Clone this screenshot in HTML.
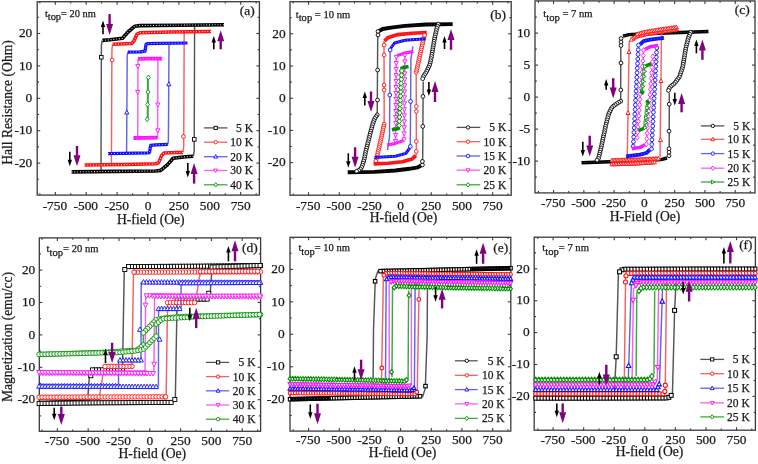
<!DOCTYPE html>
<html><head><meta charset="utf-8"><title>Hysteresis loops</title>
<style>
html,body{margin:0;padding:0;background:#fff;width:758px;height:464px;overflow:hidden;}
svg{display:block;filter:blur(0.35px);font-family:"Liberation Serif", serif;}
svg text{fill:#1a1a1a;stroke:#1a1a1a;stroke-width:0.25px;}
</style></head><body>
<svg width="758" height="464" viewBox="0 0 758 464" font-family='"Liberation Serif", serif' fill="#1a1a1a">
<rect x="37.2" y="1.7" width="222.2" height="193.4" fill="none" stroke="#3a3a3a" stroke-width="1.3"/>
<line x1="39.85" y1="195.1" x2="39.85" y2="193.3" stroke="#3a3a3a" stroke-width="1.1"/>
<line x1="39.85" y1="1.7" x2="39.85" y2="3.5" stroke="#3a3a3a" stroke-width="1.1"/>
<line x1="55.3" y1="195.1" x2="55.3" y2="192.1" stroke="#3a3a3a" stroke-width="1.1"/>
<line x1="55.3" y1="1.7" x2="55.3" y2="4.7" stroke="#3a3a3a" stroke-width="1.1"/>
<text x="54.9" y="210" font-size="13.4" text-anchor="middle" >-750</text>
<line x1="70.75" y1="195.1" x2="70.75" y2="193.3" stroke="#3a3a3a" stroke-width="1.1"/>
<line x1="70.75" y1="1.7" x2="70.75" y2="3.5" stroke="#3a3a3a" stroke-width="1.1"/>
<line x1="86.2" y1="195.1" x2="86.2" y2="192.1" stroke="#3a3a3a" stroke-width="1.1"/>
<line x1="86.2" y1="1.7" x2="86.2" y2="4.7" stroke="#3a3a3a" stroke-width="1.1"/>
<text x="85.8" y="210" font-size="13.4" text-anchor="middle" >-500</text>
<line x1="101.65" y1="195.1" x2="101.65" y2="193.3" stroke="#3a3a3a" stroke-width="1.1"/>
<line x1="101.65" y1="1.7" x2="101.65" y2="3.5" stroke="#3a3a3a" stroke-width="1.1"/>
<line x1="117.1" y1="195.1" x2="117.1" y2="192.1" stroke="#3a3a3a" stroke-width="1.1"/>
<line x1="117.1" y1="1.7" x2="117.1" y2="4.7" stroke="#3a3a3a" stroke-width="1.1"/>
<text x="116.7" y="210" font-size="13.4" text-anchor="middle" >-250</text>
<line x1="132.55" y1="195.1" x2="132.55" y2="193.3" stroke="#3a3a3a" stroke-width="1.1"/>
<line x1="132.55" y1="1.7" x2="132.55" y2="3.5" stroke="#3a3a3a" stroke-width="1.1"/>
<line x1="148" y1="195.1" x2="148" y2="192.1" stroke="#3a3a3a" stroke-width="1.1"/>
<line x1="148" y1="1.7" x2="148" y2="4.7" stroke="#3a3a3a" stroke-width="1.1"/>
<text x="148" y="210" font-size="13.4" text-anchor="middle" >0</text>
<line x1="163.45" y1="195.1" x2="163.45" y2="193.3" stroke="#3a3a3a" stroke-width="1.1"/>
<line x1="163.45" y1="1.7" x2="163.45" y2="3.5" stroke="#3a3a3a" stroke-width="1.1"/>
<line x1="178.9" y1="195.1" x2="178.9" y2="192.1" stroke="#3a3a3a" stroke-width="1.1"/>
<line x1="178.9" y1="1.7" x2="178.9" y2="4.7" stroke="#3a3a3a" stroke-width="1.1"/>
<text x="178.9" y="210" font-size="13.4" text-anchor="middle" >250</text>
<line x1="194.35" y1="195.1" x2="194.35" y2="193.3" stroke="#3a3a3a" stroke-width="1.1"/>
<line x1="194.35" y1="1.7" x2="194.35" y2="3.5" stroke="#3a3a3a" stroke-width="1.1"/>
<line x1="209.8" y1="195.1" x2="209.8" y2="192.1" stroke="#3a3a3a" stroke-width="1.1"/>
<line x1="209.8" y1="1.7" x2="209.8" y2="4.7" stroke="#3a3a3a" stroke-width="1.1"/>
<text x="209.8" y="210" font-size="13.4" text-anchor="middle" >500</text>
<line x1="225.25" y1="195.1" x2="225.25" y2="193.3" stroke="#3a3a3a" stroke-width="1.1"/>
<line x1="225.25" y1="1.7" x2="225.25" y2="3.5" stroke="#3a3a3a" stroke-width="1.1"/>
<line x1="240.7" y1="195.1" x2="240.7" y2="192.1" stroke="#3a3a3a" stroke-width="1.1"/>
<line x1="240.7" y1="1.7" x2="240.7" y2="4.7" stroke="#3a3a3a" stroke-width="1.1"/>
<text x="240.7" y="210" font-size="13.4" text-anchor="middle" >750</text>
<line x1="256.15" y1="195.1" x2="256.15" y2="193.3" stroke="#3a3a3a" stroke-width="1.1"/>
<line x1="256.15" y1="1.7" x2="256.15" y2="3.5" stroke="#3a3a3a" stroke-width="1.1"/>
<line x1="37.2" y1="179.3" x2="39" y2="179.3" stroke="#3a3a3a" stroke-width="1.1"/>
<line x1="259.4" y1="179.3" x2="257.6" y2="179.3" stroke="#3a3a3a" stroke-width="1.1"/>
<line x1="37.2" y1="163.1" x2="40.2" y2="163.1" stroke="#3a3a3a" stroke-width="1.1"/>
<line x1="259.4" y1="163.1" x2="256.4" y2="163.1" stroke="#3a3a3a" stroke-width="1.1"/>
<text x="32.3" y="166.8" font-size="13.4" text-anchor="end" >-20</text>
<line x1="37.2" y1="146.9" x2="39" y2="146.9" stroke="#3a3a3a" stroke-width="1.1"/>
<line x1="259.4" y1="146.9" x2="257.6" y2="146.9" stroke="#3a3a3a" stroke-width="1.1"/>
<line x1="37.2" y1="130.7" x2="40.2" y2="130.7" stroke="#3a3a3a" stroke-width="1.1"/>
<line x1="259.4" y1="130.7" x2="256.4" y2="130.7" stroke="#3a3a3a" stroke-width="1.1"/>
<text x="32.3" y="134.4" font-size="13.4" text-anchor="end" >-10</text>
<line x1="37.2" y1="114.5" x2="39" y2="114.5" stroke="#3a3a3a" stroke-width="1.1"/>
<line x1="259.4" y1="114.5" x2="257.6" y2="114.5" stroke="#3a3a3a" stroke-width="1.1"/>
<line x1="37.2" y1="98.3" x2="40.2" y2="98.3" stroke="#3a3a3a" stroke-width="1.1"/>
<line x1="259.4" y1="98.3" x2="256.4" y2="98.3" stroke="#3a3a3a" stroke-width="1.1"/>
<text x="32.3" y="102" font-size="13.4" text-anchor="end" >0</text>
<line x1="37.2" y1="82.1" x2="39" y2="82.1" stroke="#3a3a3a" stroke-width="1.1"/>
<line x1="259.4" y1="82.1" x2="257.6" y2="82.1" stroke="#3a3a3a" stroke-width="1.1"/>
<line x1="37.2" y1="65.9" x2="40.2" y2="65.9" stroke="#3a3a3a" stroke-width="1.1"/>
<line x1="259.4" y1="65.9" x2="256.4" y2="65.9" stroke="#3a3a3a" stroke-width="1.1"/>
<text x="32.3" y="69.6" font-size="13.4" text-anchor="end" >10</text>
<line x1="37.2" y1="49.7" x2="39" y2="49.7" stroke="#3a3a3a" stroke-width="1.1"/>
<line x1="259.4" y1="49.7" x2="257.6" y2="49.7" stroke="#3a3a3a" stroke-width="1.1"/>
<line x1="37.2" y1="33.5" x2="40.2" y2="33.5" stroke="#3a3a3a" stroke-width="1.1"/>
<line x1="259.4" y1="33.5" x2="256.4" y2="33.5" stroke="#3a3a3a" stroke-width="1.1"/>
<text x="32.3" y="37.2" font-size="13.4" text-anchor="end" >20</text>
<line x1="37.2" y1="17.3" x2="39" y2="17.3" stroke="#3a3a3a" stroke-width="1.1"/>
<line x1="259.4" y1="17.3" x2="257.6" y2="17.3" stroke="#3a3a3a" stroke-width="1.1"/>
<rect x="290" y="1.7" width="221.2" height="193.5" fill="none" stroke="#3a3a3a" stroke-width="1.3"/>
<line x1="293.22" y1="195.2" x2="293.22" y2="193.4" stroke="#3a3a3a" stroke-width="1.1"/>
<line x1="293.22" y1="1.7" x2="293.22" y2="3.5" stroke="#3a3a3a" stroke-width="1.1"/>
<line x1="308.56" y1="195.2" x2="308.56" y2="192.2" stroke="#3a3a3a" stroke-width="1.1"/>
<line x1="308.56" y1="1.7" x2="308.56" y2="4.7" stroke="#3a3a3a" stroke-width="1.1"/>
<text x="308.16" y="209.5" font-size="13.4" text-anchor="middle" >-750</text>
<line x1="323.9" y1="195.2" x2="323.9" y2="193.4" stroke="#3a3a3a" stroke-width="1.1"/>
<line x1="323.9" y1="1.7" x2="323.9" y2="3.5" stroke="#3a3a3a" stroke-width="1.1"/>
<line x1="339.24" y1="195.2" x2="339.24" y2="192.2" stroke="#3a3a3a" stroke-width="1.1"/>
<line x1="339.24" y1="1.7" x2="339.24" y2="4.7" stroke="#3a3a3a" stroke-width="1.1"/>
<text x="338.84" y="209.5" font-size="13.4" text-anchor="middle" >-500</text>
<line x1="354.58" y1="195.2" x2="354.58" y2="193.4" stroke="#3a3a3a" stroke-width="1.1"/>
<line x1="354.58" y1="1.7" x2="354.58" y2="3.5" stroke="#3a3a3a" stroke-width="1.1"/>
<line x1="369.92" y1="195.2" x2="369.92" y2="192.2" stroke="#3a3a3a" stroke-width="1.1"/>
<line x1="369.92" y1="1.7" x2="369.92" y2="4.7" stroke="#3a3a3a" stroke-width="1.1"/>
<text x="369.52" y="209.5" font-size="13.4" text-anchor="middle" >-250</text>
<line x1="385.26" y1="195.2" x2="385.26" y2="193.4" stroke="#3a3a3a" stroke-width="1.1"/>
<line x1="385.26" y1="1.7" x2="385.26" y2="3.5" stroke="#3a3a3a" stroke-width="1.1"/>
<line x1="400.6" y1="195.2" x2="400.6" y2="192.2" stroke="#3a3a3a" stroke-width="1.1"/>
<line x1="400.6" y1="1.7" x2="400.6" y2="4.7" stroke="#3a3a3a" stroke-width="1.1"/>
<text x="400.6" y="209.5" font-size="13.4" text-anchor="middle" >0</text>
<line x1="415.94" y1="195.2" x2="415.94" y2="193.4" stroke="#3a3a3a" stroke-width="1.1"/>
<line x1="415.94" y1="1.7" x2="415.94" y2="3.5" stroke="#3a3a3a" stroke-width="1.1"/>
<line x1="431.28" y1="195.2" x2="431.28" y2="192.2" stroke="#3a3a3a" stroke-width="1.1"/>
<line x1="431.28" y1="1.7" x2="431.28" y2="4.7" stroke="#3a3a3a" stroke-width="1.1"/>
<text x="431.28" y="209.5" font-size="13.4" text-anchor="middle" >250</text>
<line x1="446.62" y1="195.2" x2="446.62" y2="193.4" stroke="#3a3a3a" stroke-width="1.1"/>
<line x1="446.62" y1="1.7" x2="446.62" y2="3.5" stroke="#3a3a3a" stroke-width="1.1"/>
<line x1="461.96" y1="195.2" x2="461.96" y2="192.2" stroke="#3a3a3a" stroke-width="1.1"/>
<line x1="461.96" y1="1.7" x2="461.96" y2="4.7" stroke="#3a3a3a" stroke-width="1.1"/>
<text x="461.96" y="209.5" font-size="13.4" text-anchor="middle" >500</text>
<line x1="477.3" y1="195.2" x2="477.3" y2="193.4" stroke="#3a3a3a" stroke-width="1.1"/>
<line x1="477.3" y1="1.7" x2="477.3" y2="3.5" stroke="#3a3a3a" stroke-width="1.1"/>
<line x1="492.64" y1="195.2" x2="492.64" y2="192.2" stroke="#3a3a3a" stroke-width="1.1"/>
<line x1="492.64" y1="1.7" x2="492.64" y2="4.7" stroke="#3a3a3a" stroke-width="1.1"/>
<text x="492.64" y="209.5" font-size="13.4" text-anchor="middle" >750</text>
<line x1="507.98" y1="195.2" x2="507.98" y2="193.4" stroke="#3a3a3a" stroke-width="1.1"/>
<line x1="507.98" y1="1.7" x2="507.98" y2="3.5" stroke="#3a3a3a" stroke-width="1.1"/>
<line x1="290" y1="178.7" x2="291.8" y2="178.7" stroke="#3a3a3a" stroke-width="1.1"/>
<line x1="511.2" y1="178.7" x2="509.4" y2="178.7" stroke="#3a3a3a" stroke-width="1.1"/>
<line x1="290" y1="162.6" x2="293" y2="162.6" stroke="#3a3a3a" stroke-width="1.1"/>
<line x1="511.2" y1="162.6" x2="508.2" y2="162.6" stroke="#3a3a3a" stroke-width="1.1"/>
<text x="285.6" y="166.3" font-size="13.4" text-anchor="end" >-20</text>
<line x1="290" y1="146.5" x2="291.8" y2="146.5" stroke="#3a3a3a" stroke-width="1.1"/>
<line x1="511.2" y1="146.5" x2="509.4" y2="146.5" stroke="#3a3a3a" stroke-width="1.1"/>
<line x1="290" y1="130.4" x2="293" y2="130.4" stroke="#3a3a3a" stroke-width="1.1"/>
<line x1="511.2" y1="130.4" x2="508.2" y2="130.4" stroke="#3a3a3a" stroke-width="1.1"/>
<text x="285.6" y="134.1" font-size="13.4" text-anchor="end" >-10</text>
<line x1="290" y1="114.3" x2="291.8" y2="114.3" stroke="#3a3a3a" stroke-width="1.1"/>
<line x1="511.2" y1="114.3" x2="509.4" y2="114.3" stroke="#3a3a3a" stroke-width="1.1"/>
<line x1="290" y1="98.2" x2="293" y2="98.2" stroke="#3a3a3a" stroke-width="1.1"/>
<line x1="511.2" y1="98.2" x2="508.2" y2="98.2" stroke="#3a3a3a" stroke-width="1.1"/>
<text x="285.6" y="101.9" font-size="13.4" text-anchor="end" >0</text>
<line x1="290" y1="82.1" x2="291.8" y2="82.1" stroke="#3a3a3a" stroke-width="1.1"/>
<line x1="511.2" y1="82.1" x2="509.4" y2="82.1" stroke="#3a3a3a" stroke-width="1.1"/>
<line x1="290" y1="66" x2="293" y2="66" stroke="#3a3a3a" stroke-width="1.1"/>
<line x1="511.2" y1="66" x2="508.2" y2="66" stroke="#3a3a3a" stroke-width="1.1"/>
<text x="285.6" y="69.7" font-size="13.4" text-anchor="end" >10</text>
<line x1="290" y1="49.9" x2="291.8" y2="49.9" stroke="#3a3a3a" stroke-width="1.1"/>
<line x1="511.2" y1="49.9" x2="509.4" y2="49.9" stroke="#3a3a3a" stroke-width="1.1"/>
<line x1="290" y1="33.8" x2="293" y2="33.8" stroke="#3a3a3a" stroke-width="1.1"/>
<line x1="511.2" y1="33.8" x2="508.2" y2="33.8" stroke="#3a3a3a" stroke-width="1.1"/>
<text x="285.6" y="37.5" font-size="13.4" text-anchor="end" >20</text>
<line x1="290" y1="17.7" x2="291.8" y2="17.7" stroke="#3a3a3a" stroke-width="1.1"/>
<line x1="511.2" y1="17.7" x2="509.4" y2="17.7" stroke="#3a3a3a" stroke-width="1.1"/>
<rect x="535" y="0.9" width="220" height="192" fill="none" stroke="#3a3a3a" stroke-width="1.3"/>
<line x1="538.45" y1="192.9" x2="538.45" y2="191.1" stroke="#3a3a3a" stroke-width="1.1"/>
<line x1="538.45" y1="0.9" x2="538.45" y2="2.7" stroke="#3a3a3a" stroke-width="1.1"/>
<line x1="553.59" y1="192.9" x2="553.59" y2="189.9" stroke="#3a3a3a" stroke-width="1.1"/>
<line x1="553.59" y1="0.9" x2="553.59" y2="3.9" stroke="#3a3a3a" stroke-width="1.1"/>
<text x="553.19" y="207.2" font-size="13.4" text-anchor="middle" >-750</text>
<line x1="568.73" y1="192.9" x2="568.73" y2="191.1" stroke="#3a3a3a" stroke-width="1.1"/>
<line x1="568.73" y1="0.9" x2="568.73" y2="2.7" stroke="#3a3a3a" stroke-width="1.1"/>
<line x1="583.86" y1="192.9" x2="583.86" y2="189.9" stroke="#3a3a3a" stroke-width="1.1"/>
<line x1="583.86" y1="0.9" x2="583.86" y2="3.9" stroke="#3a3a3a" stroke-width="1.1"/>
<text x="583.46" y="207.2" font-size="13.4" text-anchor="middle" >-500</text>
<line x1="599" y1="192.9" x2="599" y2="191.1" stroke="#3a3a3a" stroke-width="1.1"/>
<line x1="599" y1="0.9" x2="599" y2="2.7" stroke="#3a3a3a" stroke-width="1.1"/>
<line x1="614.13" y1="192.9" x2="614.13" y2="189.9" stroke="#3a3a3a" stroke-width="1.1"/>
<line x1="614.13" y1="0.9" x2="614.13" y2="3.9" stroke="#3a3a3a" stroke-width="1.1"/>
<text x="613.73" y="207.2" font-size="13.4" text-anchor="middle" >-250</text>
<line x1="629.26" y1="192.9" x2="629.26" y2="191.1" stroke="#3a3a3a" stroke-width="1.1"/>
<line x1="629.26" y1="0.9" x2="629.26" y2="2.7" stroke="#3a3a3a" stroke-width="1.1"/>
<line x1="644.4" y1="192.9" x2="644.4" y2="189.9" stroke="#3a3a3a" stroke-width="1.1"/>
<line x1="644.4" y1="0.9" x2="644.4" y2="3.9" stroke="#3a3a3a" stroke-width="1.1"/>
<text x="644.4" y="207.2" font-size="13.4" text-anchor="middle" >0</text>
<line x1="659.53" y1="192.9" x2="659.53" y2="191.1" stroke="#3a3a3a" stroke-width="1.1"/>
<line x1="659.53" y1="0.9" x2="659.53" y2="2.7" stroke="#3a3a3a" stroke-width="1.1"/>
<line x1="674.67" y1="192.9" x2="674.67" y2="189.9" stroke="#3a3a3a" stroke-width="1.1"/>
<line x1="674.67" y1="0.9" x2="674.67" y2="3.9" stroke="#3a3a3a" stroke-width="1.1"/>
<text x="674.67" y="207.2" font-size="13.4" text-anchor="middle" >250</text>
<line x1="689.8" y1="192.9" x2="689.8" y2="191.1" stroke="#3a3a3a" stroke-width="1.1"/>
<line x1="689.8" y1="0.9" x2="689.8" y2="2.7" stroke="#3a3a3a" stroke-width="1.1"/>
<line x1="704.94" y1="192.9" x2="704.94" y2="189.9" stroke="#3a3a3a" stroke-width="1.1"/>
<line x1="704.94" y1="0.9" x2="704.94" y2="3.9" stroke="#3a3a3a" stroke-width="1.1"/>
<text x="704.94" y="207.2" font-size="13.4" text-anchor="middle" >500</text>
<line x1="720.07" y1="192.9" x2="720.07" y2="191.1" stroke="#3a3a3a" stroke-width="1.1"/>
<line x1="720.07" y1="0.9" x2="720.07" y2="2.7" stroke="#3a3a3a" stroke-width="1.1"/>
<line x1="735.21" y1="192.9" x2="735.21" y2="189.9" stroke="#3a3a3a" stroke-width="1.1"/>
<line x1="735.21" y1="0.9" x2="735.21" y2="3.9" stroke="#3a3a3a" stroke-width="1.1"/>
<text x="735.21" y="207.2" font-size="13.4" text-anchor="middle" >750</text>
<line x1="750.35" y1="192.9" x2="750.35" y2="191.1" stroke="#3a3a3a" stroke-width="1.1"/>
<line x1="750.35" y1="0.9" x2="750.35" y2="2.7" stroke="#3a3a3a" stroke-width="1.1"/>
<line x1="535" y1="177.1" x2="536.8" y2="177.1" stroke="#3a3a3a" stroke-width="1.1"/>
<line x1="755" y1="177.1" x2="753.2" y2="177.1" stroke="#3a3a3a" stroke-width="1.1"/>
<line x1="535" y1="161.1" x2="538" y2="161.1" stroke="#3a3a3a" stroke-width="1.1"/>
<line x1="755" y1="161.1" x2="752" y2="161.1" stroke="#3a3a3a" stroke-width="1.1"/>
<text x="530.3" y="164.8" font-size="13.4" text-anchor="end" >-10</text>
<line x1="535" y1="145.1" x2="536.8" y2="145.1" stroke="#3a3a3a" stroke-width="1.1"/>
<line x1="755" y1="145.1" x2="753.2" y2="145.1" stroke="#3a3a3a" stroke-width="1.1"/>
<line x1="535" y1="129.1" x2="538" y2="129.1" stroke="#3a3a3a" stroke-width="1.1"/>
<line x1="755" y1="129.1" x2="752" y2="129.1" stroke="#3a3a3a" stroke-width="1.1"/>
<text x="530.3" y="132.8" font-size="13.4" text-anchor="end" >-5</text>
<line x1="535" y1="113.1" x2="536.8" y2="113.1" stroke="#3a3a3a" stroke-width="1.1"/>
<line x1="755" y1="113.1" x2="753.2" y2="113.1" stroke="#3a3a3a" stroke-width="1.1"/>
<line x1="535" y1="97.1" x2="538" y2="97.1" stroke="#3a3a3a" stroke-width="1.1"/>
<line x1="755" y1="97.1" x2="752" y2="97.1" stroke="#3a3a3a" stroke-width="1.1"/>
<text x="530.3" y="100.8" font-size="13.4" text-anchor="end" >0</text>
<line x1="535" y1="81.1" x2="536.8" y2="81.1" stroke="#3a3a3a" stroke-width="1.1"/>
<line x1="755" y1="81.1" x2="753.2" y2="81.1" stroke="#3a3a3a" stroke-width="1.1"/>
<line x1="535" y1="65.1" x2="538" y2="65.1" stroke="#3a3a3a" stroke-width="1.1"/>
<line x1="755" y1="65.1" x2="752" y2="65.1" stroke="#3a3a3a" stroke-width="1.1"/>
<text x="530.3" y="68.8" font-size="13.4" text-anchor="end" >5</text>
<line x1="535" y1="49.1" x2="536.8" y2="49.1" stroke="#3a3a3a" stroke-width="1.1"/>
<line x1="755" y1="49.1" x2="753.2" y2="49.1" stroke="#3a3a3a" stroke-width="1.1"/>
<line x1="535" y1="33.1" x2="538" y2="33.1" stroke="#3a3a3a" stroke-width="1.1"/>
<line x1="755" y1="33.1" x2="752" y2="33.1" stroke="#3a3a3a" stroke-width="1.1"/>
<text x="530.3" y="36.8" font-size="13.4" text-anchor="end" >10</text>
<line x1="535" y1="17.1" x2="536.8" y2="17.1" stroke="#3a3a3a" stroke-width="1.1"/>
<line x1="755" y1="17.1" x2="753.2" y2="17.1" stroke="#3a3a3a" stroke-width="1.1"/>
<rect x="39.3" y="237.9" width="221.3" height="193.4" fill="none" stroke="#3a3a3a" stroke-width="1.3"/>
<line x1="42" y1="431.3" x2="42" y2="429.5" stroke="#3a3a3a" stroke-width="1.1"/>
<line x1="42" y1="237.9" x2="42" y2="239.7" stroke="#3a3a3a" stroke-width="1.1"/>
<line x1="57.4" y1="431.3" x2="57.4" y2="428.3" stroke="#3a3a3a" stroke-width="1.1"/>
<line x1="57.4" y1="237.9" x2="57.4" y2="240.9" stroke="#3a3a3a" stroke-width="1.1"/>
<text x="57" y="445.3" font-size="13.4" text-anchor="middle" >-750</text>
<line x1="72.8" y1="431.3" x2="72.8" y2="429.5" stroke="#3a3a3a" stroke-width="1.1"/>
<line x1="72.8" y1="237.9" x2="72.8" y2="239.7" stroke="#3a3a3a" stroke-width="1.1"/>
<line x1="88.2" y1="431.3" x2="88.2" y2="428.3" stroke="#3a3a3a" stroke-width="1.1"/>
<line x1="88.2" y1="237.9" x2="88.2" y2="240.9" stroke="#3a3a3a" stroke-width="1.1"/>
<text x="87.8" y="445.3" font-size="13.4" text-anchor="middle" >-500</text>
<line x1="103.6" y1="431.3" x2="103.6" y2="429.5" stroke="#3a3a3a" stroke-width="1.1"/>
<line x1="103.6" y1="237.9" x2="103.6" y2="239.7" stroke="#3a3a3a" stroke-width="1.1"/>
<line x1="119" y1="431.3" x2="119" y2="428.3" stroke="#3a3a3a" stroke-width="1.1"/>
<line x1="119" y1="237.9" x2="119" y2="240.9" stroke="#3a3a3a" stroke-width="1.1"/>
<text x="118.6" y="445.3" font-size="13.4" text-anchor="middle" >-250</text>
<line x1="134.4" y1="431.3" x2="134.4" y2="429.5" stroke="#3a3a3a" stroke-width="1.1"/>
<line x1="134.4" y1="237.9" x2="134.4" y2="239.7" stroke="#3a3a3a" stroke-width="1.1"/>
<line x1="149.8" y1="431.3" x2="149.8" y2="428.3" stroke="#3a3a3a" stroke-width="1.1"/>
<line x1="149.8" y1="237.9" x2="149.8" y2="240.9" stroke="#3a3a3a" stroke-width="1.1"/>
<text x="149.8" y="445.3" font-size="13.4" text-anchor="middle" >0</text>
<line x1="165.2" y1="431.3" x2="165.2" y2="429.5" stroke="#3a3a3a" stroke-width="1.1"/>
<line x1="165.2" y1="237.9" x2="165.2" y2="239.7" stroke="#3a3a3a" stroke-width="1.1"/>
<line x1="180.6" y1="431.3" x2="180.6" y2="428.3" stroke="#3a3a3a" stroke-width="1.1"/>
<line x1="180.6" y1="237.9" x2="180.6" y2="240.9" stroke="#3a3a3a" stroke-width="1.1"/>
<text x="180.6" y="445.3" font-size="13.4" text-anchor="middle" >250</text>
<line x1="196" y1="431.3" x2="196" y2="429.5" stroke="#3a3a3a" stroke-width="1.1"/>
<line x1="196" y1="237.9" x2="196" y2="239.7" stroke="#3a3a3a" stroke-width="1.1"/>
<line x1="211.4" y1="431.3" x2="211.4" y2="428.3" stroke="#3a3a3a" stroke-width="1.1"/>
<line x1="211.4" y1="237.9" x2="211.4" y2="240.9" stroke="#3a3a3a" stroke-width="1.1"/>
<text x="211.4" y="445.3" font-size="13.4" text-anchor="middle" >500</text>
<line x1="226.8" y1="431.3" x2="226.8" y2="429.5" stroke="#3a3a3a" stroke-width="1.1"/>
<line x1="226.8" y1="237.9" x2="226.8" y2="239.7" stroke="#3a3a3a" stroke-width="1.1"/>
<line x1="242.2" y1="431.3" x2="242.2" y2="428.3" stroke="#3a3a3a" stroke-width="1.1"/>
<line x1="242.2" y1="237.9" x2="242.2" y2="240.9" stroke="#3a3a3a" stroke-width="1.1"/>
<text x="242.2" y="445.3" font-size="13.4" text-anchor="middle" >750</text>
<line x1="257.6" y1="431.3" x2="257.6" y2="429.5" stroke="#3a3a3a" stroke-width="1.1"/>
<line x1="257.6" y1="237.9" x2="257.6" y2="239.7" stroke="#3a3a3a" stroke-width="1.1"/>
<line x1="39.3" y1="415.9" x2="41.1" y2="415.9" stroke="#3a3a3a" stroke-width="1.1"/>
<line x1="260.6" y1="415.9" x2="258.8" y2="415.9" stroke="#3a3a3a" stroke-width="1.1"/>
<line x1="39.3" y1="399.7" x2="42.3" y2="399.7" stroke="#3a3a3a" stroke-width="1.1"/>
<line x1="260.6" y1="399.7" x2="257.6" y2="399.7" stroke="#3a3a3a" stroke-width="1.1"/>
<text x="35.3" y="403.4" font-size="13.4" text-anchor="end" >-20</text>
<line x1="39.3" y1="383.5" x2="41.1" y2="383.5" stroke="#3a3a3a" stroke-width="1.1"/>
<line x1="260.6" y1="383.5" x2="258.8" y2="383.5" stroke="#3a3a3a" stroke-width="1.1"/>
<line x1="39.3" y1="367.3" x2="42.3" y2="367.3" stroke="#3a3a3a" stroke-width="1.1"/>
<line x1="260.6" y1="367.3" x2="257.6" y2="367.3" stroke="#3a3a3a" stroke-width="1.1"/>
<text x="35.3" y="371" font-size="13.4" text-anchor="end" >-10</text>
<line x1="39.3" y1="351.1" x2="41.1" y2="351.1" stroke="#3a3a3a" stroke-width="1.1"/>
<line x1="260.6" y1="351.1" x2="258.8" y2="351.1" stroke="#3a3a3a" stroke-width="1.1"/>
<line x1="39.3" y1="334.9" x2="42.3" y2="334.9" stroke="#3a3a3a" stroke-width="1.1"/>
<line x1="260.6" y1="334.9" x2="257.6" y2="334.9" stroke="#3a3a3a" stroke-width="1.1"/>
<text x="35.3" y="338.6" font-size="13.4" text-anchor="end" >0</text>
<line x1="39.3" y1="318.7" x2="41.1" y2="318.7" stroke="#3a3a3a" stroke-width="1.1"/>
<line x1="260.6" y1="318.7" x2="258.8" y2="318.7" stroke="#3a3a3a" stroke-width="1.1"/>
<line x1="39.3" y1="302.5" x2="42.3" y2="302.5" stroke="#3a3a3a" stroke-width="1.1"/>
<line x1="260.6" y1="302.5" x2="257.6" y2="302.5" stroke="#3a3a3a" stroke-width="1.1"/>
<text x="35.3" y="306.2" font-size="13.4" text-anchor="end" >10</text>
<line x1="39.3" y1="286.3" x2="41.1" y2="286.3" stroke="#3a3a3a" stroke-width="1.1"/>
<line x1="260.6" y1="286.3" x2="258.8" y2="286.3" stroke="#3a3a3a" stroke-width="1.1"/>
<line x1="39.3" y1="270.1" x2="42.3" y2="270.1" stroke="#3a3a3a" stroke-width="1.1"/>
<line x1="260.6" y1="270.1" x2="257.6" y2="270.1" stroke="#3a3a3a" stroke-width="1.1"/>
<text x="35.3" y="273.8" font-size="13.4" text-anchor="end" >20</text>
<line x1="39.3" y1="253.9" x2="41.1" y2="253.9" stroke="#3a3a3a" stroke-width="1.1"/>
<line x1="260.6" y1="253.9" x2="258.8" y2="253.9" stroke="#3a3a3a" stroke-width="1.1"/>
<rect x="290" y="237.3" width="220.8" height="193.8" fill="none" stroke="#3a3a3a" stroke-width="1.3"/>
<line x1="293.22" y1="431.1" x2="293.22" y2="429.3" stroke="#3a3a3a" stroke-width="1.1"/>
<line x1="293.22" y1="237.3" x2="293.22" y2="239.1" stroke="#3a3a3a" stroke-width="1.1"/>
<line x1="308.56" y1="431.1" x2="308.56" y2="428.1" stroke="#3a3a3a" stroke-width="1.1"/>
<line x1="308.56" y1="237.3" x2="308.56" y2="240.3" stroke="#3a3a3a" stroke-width="1.1"/>
<text x="308.16" y="443.9" font-size="13.4" text-anchor="middle" >-750</text>
<line x1="323.9" y1="431.1" x2="323.9" y2="429.3" stroke="#3a3a3a" stroke-width="1.1"/>
<line x1="323.9" y1="237.3" x2="323.9" y2="239.1" stroke="#3a3a3a" stroke-width="1.1"/>
<line x1="339.24" y1="431.1" x2="339.24" y2="428.1" stroke="#3a3a3a" stroke-width="1.1"/>
<line x1="339.24" y1="237.3" x2="339.24" y2="240.3" stroke="#3a3a3a" stroke-width="1.1"/>
<text x="338.84" y="443.9" font-size="13.4" text-anchor="middle" >-500</text>
<line x1="354.58" y1="431.1" x2="354.58" y2="429.3" stroke="#3a3a3a" stroke-width="1.1"/>
<line x1="354.58" y1="237.3" x2="354.58" y2="239.1" stroke="#3a3a3a" stroke-width="1.1"/>
<line x1="369.92" y1="431.1" x2="369.92" y2="428.1" stroke="#3a3a3a" stroke-width="1.1"/>
<line x1="369.92" y1="237.3" x2="369.92" y2="240.3" stroke="#3a3a3a" stroke-width="1.1"/>
<text x="369.52" y="443.9" font-size="13.4" text-anchor="middle" >-250</text>
<line x1="385.26" y1="431.1" x2="385.26" y2="429.3" stroke="#3a3a3a" stroke-width="1.1"/>
<line x1="385.26" y1="237.3" x2="385.26" y2="239.1" stroke="#3a3a3a" stroke-width="1.1"/>
<line x1="400.6" y1="431.1" x2="400.6" y2="428.1" stroke="#3a3a3a" stroke-width="1.1"/>
<line x1="400.6" y1="237.3" x2="400.6" y2="240.3" stroke="#3a3a3a" stroke-width="1.1"/>
<text x="400.6" y="443.9" font-size="13.4" text-anchor="middle" >0</text>
<line x1="415.94" y1="431.1" x2="415.94" y2="429.3" stroke="#3a3a3a" stroke-width="1.1"/>
<line x1="415.94" y1="237.3" x2="415.94" y2="239.1" stroke="#3a3a3a" stroke-width="1.1"/>
<line x1="431.28" y1="431.1" x2="431.28" y2="428.1" stroke="#3a3a3a" stroke-width="1.1"/>
<line x1="431.28" y1="237.3" x2="431.28" y2="240.3" stroke="#3a3a3a" stroke-width="1.1"/>
<text x="431.28" y="443.9" font-size="13.4" text-anchor="middle" >250</text>
<line x1="446.62" y1="431.1" x2="446.62" y2="429.3" stroke="#3a3a3a" stroke-width="1.1"/>
<line x1="446.62" y1="237.3" x2="446.62" y2="239.1" stroke="#3a3a3a" stroke-width="1.1"/>
<line x1="461.96" y1="431.1" x2="461.96" y2="428.1" stroke="#3a3a3a" stroke-width="1.1"/>
<line x1="461.96" y1="237.3" x2="461.96" y2="240.3" stroke="#3a3a3a" stroke-width="1.1"/>
<text x="461.96" y="443.9" font-size="13.4" text-anchor="middle" >500</text>
<line x1="477.3" y1="431.1" x2="477.3" y2="429.3" stroke="#3a3a3a" stroke-width="1.1"/>
<line x1="477.3" y1="237.3" x2="477.3" y2="239.1" stroke="#3a3a3a" stroke-width="1.1"/>
<line x1="492.64" y1="431.1" x2="492.64" y2="428.1" stroke="#3a3a3a" stroke-width="1.1"/>
<line x1="492.64" y1="237.3" x2="492.64" y2="240.3" stroke="#3a3a3a" stroke-width="1.1"/>
<text x="492.64" y="443.9" font-size="13.4" text-anchor="middle" >750</text>
<line x1="507.98" y1="431.1" x2="507.98" y2="429.3" stroke="#3a3a3a" stroke-width="1.1"/>
<line x1="507.98" y1="237.3" x2="507.98" y2="239.1" stroke="#3a3a3a" stroke-width="1.1"/>
<line x1="290" y1="415.43" x2="291.8" y2="415.43" stroke="#3a3a3a" stroke-width="1.1"/>
<line x1="510.8" y1="415.43" x2="509" y2="415.43" stroke="#3a3a3a" stroke-width="1.1"/>
<line x1="290" y1="399.2" x2="293" y2="399.2" stroke="#3a3a3a" stroke-width="1.1"/>
<line x1="510.8" y1="399.2" x2="507.8" y2="399.2" stroke="#3a3a3a" stroke-width="1.1"/>
<text x="284.6" y="402.9" font-size="13.4" text-anchor="end" >-20</text>
<line x1="290" y1="382.98" x2="291.8" y2="382.98" stroke="#3a3a3a" stroke-width="1.1"/>
<line x1="510.8" y1="382.98" x2="509" y2="382.98" stroke="#3a3a3a" stroke-width="1.1"/>
<line x1="290" y1="366.75" x2="293" y2="366.75" stroke="#3a3a3a" stroke-width="1.1"/>
<line x1="510.8" y1="366.75" x2="507.8" y2="366.75" stroke="#3a3a3a" stroke-width="1.1"/>
<text x="284.6" y="370.45" font-size="13.4" text-anchor="end" >-10</text>
<line x1="290" y1="350.53" x2="291.8" y2="350.53" stroke="#3a3a3a" stroke-width="1.1"/>
<line x1="510.8" y1="350.53" x2="509" y2="350.53" stroke="#3a3a3a" stroke-width="1.1"/>
<line x1="290" y1="334.3" x2="293" y2="334.3" stroke="#3a3a3a" stroke-width="1.1"/>
<line x1="510.8" y1="334.3" x2="507.8" y2="334.3" stroke="#3a3a3a" stroke-width="1.1"/>
<text x="284.6" y="338" font-size="13.4" text-anchor="end" >0</text>
<line x1="290" y1="318.07" x2="291.8" y2="318.07" stroke="#3a3a3a" stroke-width="1.1"/>
<line x1="510.8" y1="318.07" x2="509" y2="318.07" stroke="#3a3a3a" stroke-width="1.1"/>
<line x1="290" y1="301.85" x2="293" y2="301.85" stroke="#3a3a3a" stroke-width="1.1"/>
<line x1="510.8" y1="301.85" x2="507.8" y2="301.85" stroke="#3a3a3a" stroke-width="1.1"/>
<text x="284.6" y="305.55" font-size="13.4" text-anchor="end" >10</text>
<line x1="290" y1="285.62" x2="291.8" y2="285.62" stroke="#3a3a3a" stroke-width="1.1"/>
<line x1="510.8" y1="285.62" x2="509" y2="285.62" stroke="#3a3a3a" stroke-width="1.1"/>
<line x1="290" y1="269.4" x2="293" y2="269.4" stroke="#3a3a3a" stroke-width="1.1"/>
<line x1="510.8" y1="269.4" x2="507.8" y2="269.4" stroke="#3a3a3a" stroke-width="1.1"/>
<text x="284.6" y="273.1" font-size="13.4" text-anchor="end" >20</text>
<line x1="290" y1="253.18" x2="291.8" y2="253.18" stroke="#3a3a3a" stroke-width="1.1"/>
<line x1="510.8" y1="253.18" x2="509" y2="253.18" stroke="#3a3a3a" stroke-width="1.1"/>
<rect x="534.2" y="237.2" width="221.2" height="193" fill="none" stroke="#3a3a3a" stroke-width="1.3"/>
<line x1="537.8" y1="430.2" x2="537.8" y2="428.4" stroke="#3a3a3a" stroke-width="1.1"/>
<line x1="537.8" y1="237.2" x2="537.8" y2="239" stroke="#3a3a3a" stroke-width="1.1"/>
<line x1="553.09" y1="430.2" x2="553.09" y2="427.2" stroke="#3a3a3a" stroke-width="1.1"/>
<line x1="553.09" y1="237.2" x2="553.09" y2="240.2" stroke="#3a3a3a" stroke-width="1.1"/>
<text x="552.69" y="443.7" font-size="13.4" text-anchor="middle" >-750</text>
<line x1="568.38" y1="430.2" x2="568.38" y2="428.4" stroke="#3a3a3a" stroke-width="1.1"/>
<line x1="568.38" y1="237.2" x2="568.38" y2="239" stroke="#3a3a3a" stroke-width="1.1"/>
<line x1="583.66" y1="430.2" x2="583.66" y2="427.2" stroke="#3a3a3a" stroke-width="1.1"/>
<line x1="583.66" y1="237.2" x2="583.66" y2="240.2" stroke="#3a3a3a" stroke-width="1.1"/>
<text x="583.26" y="443.7" font-size="13.4" text-anchor="middle" >-500</text>
<line x1="598.94" y1="430.2" x2="598.94" y2="428.4" stroke="#3a3a3a" stroke-width="1.1"/>
<line x1="598.94" y1="237.2" x2="598.94" y2="239" stroke="#3a3a3a" stroke-width="1.1"/>
<line x1="614.23" y1="430.2" x2="614.23" y2="427.2" stroke="#3a3a3a" stroke-width="1.1"/>
<line x1="614.23" y1="237.2" x2="614.23" y2="240.2" stroke="#3a3a3a" stroke-width="1.1"/>
<text x="613.83" y="443.7" font-size="13.4" text-anchor="middle" >-250</text>
<line x1="629.51" y1="430.2" x2="629.51" y2="428.4" stroke="#3a3a3a" stroke-width="1.1"/>
<line x1="629.51" y1="237.2" x2="629.51" y2="239" stroke="#3a3a3a" stroke-width="1.1"/>
<line x1="644.8" y1="430.2" x2="644.8" y2="427.2" stroke="#3a3a3a" stroke-width="1.1"/>
<line x1="644.8" y1="237.2" x2="644.8" y2="240.2" stroke="#3a3a3a" stroke-width="1.1"/>
<text x="644.8" y="443.7" font-size="13.4" text-anchor="middle" >0</text>
<line x1="660.08" y1="430.2" x2="660.08" y2="428.4" stroke="#3a3a3a" stroke-width="1.1"/>
<line x1="660.08" y1="237.2" x2="660.08" y2="239" stroke="#3a3a3a" stroke-width="1.1"/>
<line x1="675.37" y1="430.2" x2="675.37" y2="427.2" stroke="#3a3a3a" stroke-width="1.1"/>
<line x1="675.37" y1="237.2" x2="675.37" y2="240.2" stroke="#3a3a3a" stroke-width="1.1"/>
<text x="675.37" y="443.7" font-size="13.4" text-anchor="middle" >250</text>
<line x1="690.65" y1="430.2" x2="690.65" y2="428.4" stroke="#3a3a3a" stroke-width="1.1"/>
<line x1="690.65" y1="237.2" x2="690.65" y2="239" stroke="#3a3a3a" stroke-width="1.1"/>
<line x1="705.94" y1="430.2" x2="705.94" y2="427.2" stroke="#3a3a3a" stroke-width="1.1"/>
<line x1="705.94" y1="237.2" x2="705.94" y2="240.2" stroke="#3a3a3a" stroke-width="1.1"/>
<text x="705.94" y="443.7" font-size="13.4" text-anchor="middle" >500</text>
<line x1="721.22" y1="430.2" x2="721.22" y2="428.4" stroke="#3a3a3a" stroke-width="1.1"/>
<line x1="721.22" y1="237.2" x2="721.22" y2="239" stroke="#3a3a3a" stroke-width="1.1"/>
<line x1="736.51" y1="430.2" x2="736.51" y2="427.2" stroke="#3a3a3a" stroke-width="1.1"/>
<line x1="736.51" y1="237.2" x2="736.51" y2="240.2" stroke="#3a3a3a" stroke-width="1.1"/>
<text x="736.51" y="443.7" font-size="13.4" text-anchor="middle" >750</text>
<line x1="751.79" y1="430.2" x2="751.79" y2="428.4" stroke="#3a3a3a" stroke-width="1.1"/>
<line x1="751.79" y1="237.2" x2="751.79" y2="239" stroke="#3a3a3a" stroke-width="1.1"/>
<line x1="534.2" y1="412.35" x2="536" y2="412.35" stroke="#3a3a3a" stroke-width="1.1"/>
<line x1="755.4" y1="412.35" x2="753.6" y2="412.35" stroke="#3a3a3a" stroke-width="1.1"/>
<line x1="534.2" y1="396.4" x2="537.2" y2="396.4" stroke="#3a3a3a" stroke-width="1.1"/>
<line x1="755.4" y1="396.4" x2="752.4" y2="396.4" stroke="#3a3a3a" stroke-width="1.1"/>
<text x="529.6" y="400.1" font-size="13.4" text-anchor="end" >-20</text>
<line x1="534.2" y1="380.45" x2="536" y2="380.45" stroke="#3a3a3a" stroke-width="1.1"/>
<line x1="755.4" y1="380.45" x2="753.6" y2="380.45" stroke="#3a3a3a" stroke-width="1.1"/>
<line x1="534.2" y1="364.5" x2="537.2" y2="364.5" stroke="#3a3a3a" stroke-width="1.1"/>
<line x1="755.4" y1="364.5" x2="752.4" y2="364.5" stroke="#3a3a3a" stroke-width="1.1"/>
<text x="529.6" y="368.2" font-size="13.4" text-anchor="end" >-10</text>
<line x1="534.2" y1="348.55" x2="536" y2="348.55" stroke="#3a3a3a" stroke-width="1.1"/>
<line x1="755.4" y1="348.55" x2="753.6" y2="348.55" stroke="#3a3a3a" stroke-width="1.1"/>
<line x1="534.2" y1="332.6" x2="537.2" y2="332.6" stroke="#3a3a3a" stroke-width="1.1"/>
<line x1="755.4" y1="332.6" x2="752.4" y2="332.6" stroke="#3a3a3a" stroke-width="1.1"/>
<text x="529.6" y="336.3" font-size="13.4" text-anchor="end" >0</text>
<line x1="534.2" y1="316.65" x2="536" y2="316.65" stroke="#3a3a3a" stroke-width="1.1"/>
<line x1="755.4" y1="316.65" x2="753.6" y2="316.65" stroke="#3a3a3a" stroke-width="1.1"/>
<line x1="534.2" y1="300.7" x2="537.2" y2="300.7" stroke="#3a3a3a" stroke-width="1.1"/>
<line x1="755.4" y1="300.7" x2="752.4" y2="300.7" stroke="#3a3a3a" stroke-width="1.1"/>
<text x="529.6" y="304.4" font-size="13.4" text-anchor="end" >10</text>
<line x1="534.2" y1="284.75" x2="536" y2="284.75" stroke="#3a3a3a" stroke-width="1.1"/>
<line x1="755.4" y1="284.75" x2="753.6" y2="284.75" stroke="#3a3a3a" stroke-width="1.1"/>
<line x1="534.2" y1="268.8" x2="537.2" y2="268.8" stroke="#3a3a3a" stroke-width="1.1"/>
<line x1="755.4" y1="268.8" x2="752.4" y2="268.8" stroke="#3a3a3a" stroke-width="1.1"/>
<text x="529.6" y="272.5" font-size="13.4" text-anchor="end" >20</text>
<line x1="534.2" y1="252.85" x2="536" y2="252.85" stroke="#3a3a3a" stroke-width="1.1"/>
<line x1="755.4" y1="252.85" x2="753.6" y2="252.85" stroke="#3a3a3a" stroke-width="1.1"/>
<polyline points="102.3,40.4 101.4,45 101,171.2" fill="none" stroke="#555555" stroke-width="1.45" stroke-linejoin="round"/>
<polyline points="193.3,156.2 194.2,151.6 194.6,25.4" fill="none" stroke="#555555" stroke-width="1.45" stroke-linejoin="round"/>
<polyline points="224,24.7 180,25.2 140,25.6 134.9,26.2 128,32 122.5,38.3 110,39.8 102.3,40.4" fill="none" stroke="#000000" stroke-width="3.6" stroke-linejoin="round" stroke-linecap="butt"/>
<polyline points="224,24.7 180,25.2 140,25.6 134.9,26.2 128,32 122.5,38.3 110,39.8 102.3,40.4" fill="none" stroke="#fff" stroke-opacity="0.95" stroke-width="1.08" stroke-dasharray="0.9 1.9" stroke-linejoin="round"/>
<polyline points="71.6,171.9 115.6,171.4 155.6,171 160.7,170.4 167.6,164.6 173.1,158.3 185.6,156.8 193.3,156.2" fill="none" stroke="#000000" stroke-width="3.6" stroke-linejoin="round" stroke-linecap="butt"/>
<polyline points="71.6,171.9 115.6,171.4 155.6,171 160.7,170.4 167.6,164.6 173.1,158.3 185.6,156.8 193.3,156.2" fill="none" stroke="#fff" stroke-opacity="0.95" stroke-width="1.08" stroke-dasharray="0.9 1.9" stroke-linejoin="round"/>
<rect x="99.52" y="55.42" width="3.57" height="3.57" fill="#fff" stroke="#000000" stroke-width="0.9"/>
<rect x="192.52" y="137.61" width="3.57" height="3.57" fill="#fff" stroke="#000000" stroke-width="0.9"/>
<polyline points="112.6,44.2 111.9,50 111.4,164.6" fill="none" stroke="#ee6464" stroke-width="1.45" stroke-linejoin="round"/>
<polyline points="183,152.4 183.7,146.6 184.2,32" fill="none" stroke="#ee6464" stroke-width="1.45" stroke-linejoin="round"/>
<polyline points="211,31.5 170,32 140,32.8 137,34 134,41 131.5,43.6 120,44 112.6,44.2" fill="none" stroke="#ff1010" stroke-width="3.5" stroke-linejoin="round" stroke-linecap="butt"/>
<polyline points="211,31.5 170,32 140,32.8 137,34 134,41 131.5,43.6 120,44 112.6,44.2" fill="none" stroke="#fff" stroke-opacity="0.95" stroke-width="1.05" stroke-dasharray="0.9 1.9" stroke-linejoin="round"/>
<polyline points="84.6,165.1 125.6,164.6 155.6,163.8 158.6,162.6 161.6,155.6 164.1,153 175.6,152.6 183,152.4" fill="none" stroke="#ff1010" stroke-width="3.5" stroke-linejoin="round" stroke-linecap="butt"/>
<polyline points="84.6,165.1 125.6,164.6 155.6,163.8 158.6,162.6 161.6,155.6 164.1,153 175.6,152.6 183,152.4" fill="none" stroke="#fff" stroke-opacity="0.95" stroke-width="1.05" stroke-dasharray="0.9 1.9" stroke-linejoin="round"/>
<circle cx="112.2" cy="60.1" r="1.89" fill="#fff" stroke="#ff1010" stroke-width="0.9"/>
<circle cx="183.4" cy="136.5" r="1.89" fill="#fff" stroke="#ff1010" stroke-width="0.9"/>
<polyline points="127.8,52.2 127.2,56 126.6,152.8" fill="none" stroke="#6464e6" stroke-width="1.45" stroke-linejoin="round"/>
<polyline points="167.8,144.4 168.4,140.6 169,43.8" fill="none" stroke="#6464e6" stroke-width="1.45" stroke-linejoin="round"/>
<polyline points="187.6,43 160,43.4 147,43.6 146,44.5 145,51.2 140,51.8 127.8,52.2" fill="none" stroke="#1010ff" stroke-width="3.2" stroke-linejoin="round" stroke-linecap="butt"/>
<polyline points="187.6,43 160,43.4 147,43.6 146,44.5 145,51.2 140,51.8 127.8,52.2" fill="none" stroke="#fff" stroke-opacity="0.8" stroke-width="0.96" stroke-dasharray="0.9 2.1" stroke-linejoin="round"/>
<polyline points="108,153.6 135.6,153.2 148.6,153 149.6,152.1 150.6,145.4 155.6,144.8 167.8,144.4" fill="none" stroke="#1010ff" stroke-width="3.2" stroke-linejoin="round" stroke-linecap="butt"/>
<polyline points="108,153.6 135.6,153.2 148.6,153 149.6,152.1 150.6,145.4 155.6,144.8 167.8,144.4" fill="none" stroke="#fff" stroke-opacity="0.8" stroke-width="0.96" stroke-dasharray="0.9 2.1" stroke-linejoin="round"/>
<polygon points="126.8,110.09 128.9,113.98 124.7,113.98" fill="#fff" stroke="#1010ff" stroke-width="0.9"/>
<polygon points="168.8,81.89 170.9,85.77 166.7,85.77" fill="#fff" stroke="#1010ff" stroke-width="0.9"/>
<polyline points="138,58.9 137.7,137.7" fill="none" stroke="#f064f0" stroke-width="1.45" stroke-linejoin="round"/>
<polyline points="157.6,137.7 157.9,58.9" fill="none" stroke="#f064f0" stroke-width="1.45" stroke-linejoin="round"/>
<polyline points="162.2,58.6 150,58.7 138,58.9" fill="none" stroke="#ff10ff" stroke-width="3.8" stroke-linejoin="round" stroke-linecap="butt"/>
<polyline points="162.2,58.6 150,58.7 138,58.9" fill="none" stroke="#fff" stroke-opacity="0.5" stroke-width="1.14" stroke-dasharray="0.9 2.1" stroke-linejoin="round"/>
<polyline points="133.4,138 145.6,137.9 157.6,137.7" fill="none" stroke="#ff10ff" stroke-width="3.8" stroke-linejoin="round" stroke-linecap="butt"/>
<polyline points="133.4,138 145.6,137.9 157.6,137.7" fill="none" stroke="#fff" stroke-opacity="0.5" stroke-width="1.14" stroke-dasharray="0.9 2.1" stroke-linejoin="round"/>
<polygon points="137.8,68.51 139.9,64.62 135.7,64.62" fill="#fff" stroke="#ff10ff" stroke-width="0.9"/>
<polygon points="137.7,94.31 139.8,90.42 135.6,90.42" fill="#fff" stroke="#ff10ff" stroke-width="0.9"/>
<polygon points="157.8,132.71 159.9,128.82 155.7,128.82" fill="#fff" stroke="#ff10ff" stroke-width="0.9"/>
<polygon points="157.9,106.91 160,103.02 155.8,103.02" fill="#fff" stroke="#ff10ff" stroke-width="0.9"/>
<polyline points="148.6,77.4 147.6,78.5 147.4,119.2" fill="none" stroke="#40a840" stroke-width="1.45" stroke-linejoin="round"/>
<polyline points="147,119.2 148,118.1 148.2,77.4" fill="none" stroke="#40a840" stroke-width="1.45" stroke-linejoin="round"/>
<polygon points="148.4,74.98 150.4,77.4 148.4,79.82 146.41,77.4" fill="#fff" stroke="#009000" stroke-width="0.9"/>
<polygon points="148,89.58 150,92 148,94.42 146,92" fill="#fff" stroke="#009000" stroke-width="0.9"/>
<polygon points="147.2,116.78 149.2,119.2 147.2,121.61 145.21,119.2" fill="#fff" stroke="#009000" stroke-width="0.9"/>
<polygon points="147.6,102.18 149.6,104.6 147.6,107.02 145.61,104.6" fill="#fff" stroke="#009000" stroke-width="0.9"/>
<line x1="204" y1="127.9" x2="227.4" y2="127.9" stroke="#555555" stroke-width="1.3"/>
<rect x="214.08" y="126.29" width="3.23" height="3.23" fill="#fff" stroke="#000000" stroke-width="0.9"/>
<text x="253" y="131.8" font-size="11.5" text-anchor="end" >5 K</text>
<line x1="204" y1="142.2" x2="227.4" y2="142.2" stroke="#ee6464" stroke-width="1.3"/>
<circle cx="215.7" cy="142.2" r="1.71" fill="#fff" stroke="#ff1010" stroke-width="0.9"/>
<text x="253" y="146.1" font-size="11.5" text-anchor="end" >10 K</text>
<line x1="204" y1="156.7" x2="227.4" y2="156.7" stroke="#6464e6" stroke-width="1.3"/>
<polygon points="215.7,154.61 217.6,158.12 213.8,158.12" fill="#fff" stroke="#1010ff" stroke-width="0.9"/>
<text x="253" y="160.6" font-size="11.5" text-anchor="end" >20 K</text>
<line x1="204" y1="170.5" x2="227.4" y2="170.5" stroke="#f064f0" stroke-width="1.3"/>
<polygon points="215.7,172.59 217.6,169.07 213.8,169.07" fill="#fff" stroke="#ff10ff" stroke-width="0.9"/>
<text x="253" y="174.4" font-size="11.5" text-anchor="end" >30 K</text>
<line x1="204" y1="184.8" x2="227.4" y2="184.8" stroke="#40a840" stroke-width="1.3"/>
<polygon points="215.7,182.62 217.5,184.8 215.7,186.99 213.89,184.8" fill="#fff" stroke="#009000" stroke-width="0.9"/>
<text x="253" y="188.7" font-size="11.5" text-anchor="end" >40 K</text>
<line x1="103" y1="34.3" x2="103" y2="26.5" stroke="#000" stroke-width="1.6"/><polygon points="100.8,27 105.2,27 103,20.5" fill="#000"/>
<line x1="109.6" y1="14.1" x2="109.6" y2="24.5" stroke="#800080" stroke-width="2.4"/><polygon points="106.1,24 113.1,24 109.6,35" fill="#800080"/>
<line x1="69.8" y1="151.7" x2="69.8" y2="160.2" stroke="#000" stroke-width="1.6"/><polygon points="67.6,159.7 72,159.7 69.8,166.2" fill="#000"/>
<line x1="77" y1="146" x2="77" y2="155.7" stroke="#800080" stroke-width="2.4"/><polygon points="73.5,155.2 80.5,155.2 77,166.2" fill="#800080"/>
<line x1="187.8" y1="162.9" x2="187.8" y2="171.6" stroke="#000" stroke-width="1.6"/><polygon points="185.6,171.1 190,171.1 187.8,177.6" fill="#000"/>
<line x1="194.1" y1="183.6" x2="194.1" y2="173.4" stroke="#800080" stroke-width="2.4"/><polygon points="190.6,173.9 197.6,173.9 194.1,162.9" fill="#800080"/>
<line x1="213.8" y1="49.3" x2="213.8" y2="41.9" stroke="#000" stroke-width="1.6"/><polygon points="211.6,42.4 216,42.4 213.8,35.9" fill="#000"/>
<line x1="220.7" y1="49.3" x2="220.7" y2="40.8" stroke="#800080" stroke-width="2.4"/><polygon points="217.2,41.3 224.2,41.3 220.7,30.3" fill="#800080"/>
<text x="239.8" y="15.2" font-size="13.5" text-anchor="start" >(a)</text>
<text x="44.9" y="16.6" font-size="10.4">t<tspan dy="3.6">top</tspan><tspan dy="-3.6">= 20 nm</tspan></text>
<polyline points="378.1,31.1 377.7,40 377.2,114.8" fill="none" stroke="#555555" stroke-width="1.45" stroke-linejoin="round"/>
<polyline points="422.3,165.3 422.7,156.4 423.2,81.6" fill="none" stroke="#555555" stroke-width="1.45" stroke-linejoin="round"/>
<polyline points="452.7,24.1 426,24.5 405,25.9 391,27.6 382.6,29 379,31.1" fill="none" stroke="#000000" stroke-width="3.9" stroke-linejoin="round" stroke-linecap="butt"/>
<polyline points="452.7,24.1 426,24.5 405,25.9 391,27.6 382.6,29 379,31.1" fill="none" stroke="#fff" stroke-opacity="0.15" stroke-width="1.17" stroke-dasharray="0.9 2.1" stroke-linejoin="round"/>
<polyline points="347.7,172.3 374.4,171.9 395.4,170.5 409.4,168.8 417.8,167.4 421.4,165.3" fill="none" stroke="#000000" stroke-width="3.9" stroke-linejoin="round" stroke-linecap="butt"/>
<polyline points="347.7,172.3 374.4,171.9 395.4,170.5 409.4,168.8 417.8,167.4 421.4,165.3" fill="none" stroke="#fff" stroke-opacity="0.15" stroke-width="1.17" stroke-dasharray="0.9 2.1" stroke-linejoin="round"/>
<circle cx="378" cy="31.5" r="1.89" fill="#fff" stroke="#000000" stroke-width="0.9"/>
<circle cx="378" cy="35" r="1.89" fill="#fff" stroke="#000000" stroke-width="0.9"/>
<circle cx="377.6" cy="70" r="1.89" fill="#fff" stroke="#000000" stroke-width="0.9"/>
<circle cx="377.5" cy="100" r="1.89" fill="#fff" stroke="#000000" stroke-width="0.9"/>
<circle cx="422.4" cy="164.9" r="1.89" fill="#fff" stroke="#000000" stroke-width="0.9"/>
<circle cx="422.4" cy="161.4" r="1.89" fill="#fff" stroke="#000000" stroke-width="0.9"/>
<circle cx="422.8" cy="126.4" r="1.89" fill="#fff" stroke="#000000" stroke-width="0.9"/>
<circle cx="422.9" cy="96.4" r="1.89" fill="#fff" stroke="#000000" stroke-width="0.9"/>
<polyline points="377.2,114.8 374.7,118.6 372.5,124.6 370.2,133.7 367.9,142.7 365.7,151.8 364.2,159.4 361.9,166.9 359.6,170 356,171.5" fill="none" stroke="#555555" stroke-width="1.45" stroke-linejoin="round"/>
<polyline points="438.3,24.2 436.7,28.9 434.9,36.6 433.3,46 431.8,55.3 429.8,64.6 426.6,71.6 423.5,76.2 422.5,79.3" fill="none" stroke="#555555" stroke-width="1.45" stroke-linejoin="round"/>
<circle cx="377.2" cy="114.8" r="1.89" fill="#fff" stroke="#000000" stroke-width="0.9"/>
<circle cx="375.99" cy="116.64" r="1.89" fill="#fff" stroke="#000000" stroke-width="0.9"/>
<circle cx="374.78" cy="118.48" r="1.89" fill="#fff" stroke="#000000" stroke-width="0.9"/>
<circle cx="373.99" cy="120.53" r="1.89" fill="#fff" stroke="#000000" stroke-width="0.9"/>
<circle cx="373.24" cy="122.59" r="1.89" fill="#fff" stroke="#000000" stroke-width="0.9"/>
<circle cx="372.49" cy="124.66" r="1.89" fill="#fff" stroke="#000000" stroke-width="0.9"/>
<circle cx="371.95" cy="126.79" r="1.89" fill="#fff" stroke="#000000" stroke-width="0.9"/>
<circle cx="371.41" cy="128.92" r="1.89" fill="#fff" stroke="#000000" stroke-width="0.9"/>
<circle cx="370.87" cy="131.06" r="1.89" fill="#fff" stroke="#000000" stroke-width="0.9"/>
<circle cx="370.33" cy="133.19" r="1.89" fill="#fff" stroke="#000000" stroke-width="0.9"/>
<circle cx="369.79" cy="135.32" r="1.89" fill="#fff" stroke="#000000" stroke-width="0.9"/>
<circle cx="369.24" cy="137.45" r="1.89" fill="#fff" stroke="#000000" stroke-width="0.9"/>
<circle cx="368.7" cy="139.59" r="1.89" fill="#fff" stroke="#000000" stroke-width="0.9"/>
<circle cx="368.15" cy="141.72" r="1.89" fill="#fff" stroke="#000000" stroke-width="0.9"/>
<circle cx="367.62" cy="143.85" r="1.89" fill="#fff" stroke="#000000" stroke-width="0.9"/>
<circle cx="367.1" cy="145.99" r="1.89" fill="#fff" stroke="#000000" stroke-width="0.9"/>
<circle cx="366.59" cy="148.13" r="1.89" fill="#fff" stroke="#000000" stroke-width="0.9"/>
<circle cx="366.07" cy="150.27" r="1.89" fill="#fff" stroke="#000000" stroke-width="0.9"/>
<circle cx="365.58" cy="152.41" r="1.89" fill="#fff" stroke="#000000" stroke-width="0.9"/>
<circle cx="365.15" cy="154.57" r="1.89" fill="#fff" stroke="#000000" stroke-width="0.9"/>
<circle cx="364.73" cy="156.73" r="1.89" fill="#fff" stroke="#000000" stroke-width="0.9"/>
<circle cx="364.3" cy="158.89" r="1.89" fill="#fff" stroke="#000000" stroke-width="0.9"/>
<circle cx="363.71" cy="161" r="1.89" fill="#fff" stroke="#000000" stroke-width="0.9"/>
<circle cx="363.06" cy="163.11" r="1.89" fill="#fff" stroke="#000000" stroke-width="0.9"/>
<circle cx="362.42" cy="165.21" r="1.89" fill="#fff" stroke="#000000" stroke-width="0.9"/>
<circle cx="361.64" cy="167.25" r="1.89" fill="#fff" stroke="#000000" stroke-width="0.9"/>
<circle cx="360.33" cy="169.01" r="1.89" fill="#fff" stroke="#000000" stroke-width="0.9"/>
<circle cx="358.7" cy="170.37" r="1.89" fill="#fff" stroke="#000000" stroke-width="0.9"/>
<circle cx="356.67" cy="171.22" r="1.89" fill="#fff" stroke="#000000" stroke-width="0.9"/>
<circle cx="438.3" cy="24.2" r="1.89" fill="#fff" stroke="#000000" stroke-width="0.9"/>
<circle cx="437.59" cy="26.28" r="1.89" fill="#fff" stroke="#000000" stroke-width="0.9"/>
<circle cx="436.88" cy="28.37" r="1.89" fill="#fff" stroke="#000000" stroke-width="0.9"/>
<circle cx="436.33" cy="30.49" r="1.89" fill="#fff" stroke="#000000" stroke-width="0.9"/>
<circle cx="435.83" cy="32.63" r="1.89" fill="#fff" stroke="#000000" stroke-width="0.9"/>
<circle cx="435.33" cy="34.78" r="1.89" fill="#fff" stroke="#000000" stroke-width="0.9"/>
<circle cx="434.85" cy="36.92" r="1.89" fill="#fff" stroke="#000000" stroke-width="0.9"/>
<circle cx="434.48" cy="39.09" r="1.89" fill="#fff" stroke="#000000" stroke-width="0.9"/>
<circle cx="434.11" cy="41.26" r="1.89" fill="#fff" stroke="#000000" stroke-width="0.9"/>
<circle cx="433.74" cy="43.43" r="1.89" fill="#fff" stroke="#000000" stroke-width="0.9"/>
<circle cx="433.37" cy="45.6" r="1.89" fill="#fff" stroke="#000000" stroke-width="0.9"/>
<circle cx="433.01" cy="47.77" r="1.89" fill="#fff" stroke="#000000" stroke-width="0.9"/>
<circle cx="432.66" cy="49.94" r="1.89" fill="#fff" stroke="#000000" stroke-width="0.9"/>
<circle cx="432.31" cy="52.11" r="1.89" fill="#fff" stroke="#000000" stroke-width="0.9"/>
<circle cx="431.96" cy="54.29" r="1.89" fill="#fff" stroke="#000000" stroke-width="0.9"/>
<circle cx="431.55" cy="56.45" r="1.89" fill="#fff" stroke="#000000" stroke-width="0.9"/>
<circle cx="431.09" cy="58.6" r="1.89" fill="#fff" stroke="#000000" stroke-width="0.9"/>
<circle cx="430.63" cy="60.75" r="1.89" fill="#fff" stroke="#000000" stroke-width="0.9"/>
<circle cx="430.17" cy="62.9" r="1.89" fill="#fff" stroke="#000000" stroke-width="0.9"/>
<circle cx="429.61" cy="65.02" r="1.89" fill="#fff" stroke="#000000" stroke-width="0.9"/>
<circle cx="428.69" cy="67.02" r="1.89" fill="#fff" stroke="#000000" stroke-width="0.9"/>
<circle cx="427.78" cy="69.02" r="1.89" fill="#fff" stroke="#000000" stroke-width="0.9"/>
<circle cx="426.86" cy="71.02" r="1.89" fill="#fff" stroke="#000000" stroke-width="0.9"/>
<circle cx="425.73" cy="72.9" r="1.89" fill="#fff" stroke="#000000" stroke-width="0.9"/>
<circle cx="424.5" cy="74.72" r="1.89" fill="#fff" stroke="#000000" stroke-width="0.9"/>
<circle cx="423.37" cy="76.6" r="1.89" fill="#fff" stroke="#000000" stroke-width="0.9"/>
<circle cx="422.7" cy="78.69" r="1.89" fill="#fff" stroke="#000000" stroke-width="0.9"/>
<polyline points="384,41 384.2,124.1" fill="none" stroke="#ee6464" stroke-width="1.45" stroke-linejoin="round"/>
<polyline points="384.2,124.1 380.5,141 376.6,158.6 375.5,162" fill="none" stroke="#ee6464" stroke-width="1.45" stroke-linejoin="round"/>
<polyline points="416.4,155.4 416.2,72.3" fill="none" stroke="#ee6464" stroke-width="1.45" stroke-linejoin="round"/>
<polyline points="416.2,72.3 419.9,55.4 423.8,37.8 424.9,34.4" fill="none" stroke="#ee6464" stroke-width="1.45" stroke-linejoin="round"/>
<polyline points="426.8,32.5 412,33.2 398,34.6 388.2,37.4 384.5,41" fill="none" stroke="#ff1010" stroke-width="3.6" stroke-linejoin="round" stroke-linecap="butt"/>
<polyline points="426.8,32.5 412,33.2 398,34.6 388.2,37.4 384.5,41" fill="none" stroke="#fff" stroke-opacity="0.2" stroke-width="1.08" stroke-dasharray="0.9 2.1" stroke-linejoin="round"/>
<circle cx="384.2" cy="124.1" r="1.89" fill="#fff" stroke="#ff1010" stroke-width="0.9"/>
<circle cx="383.77" cy="126.05" r="1.89" fill="#fff" stroke="#ff1010" stroke-width="0.9"/>
<circle cx="383.34" cy="128.01" r="1.89" fill="#fff" stroke="#ff1010" stroke-width="0.9"/>
<circle cx="382.92" cy="129.96" r="1.89" fill="#fff" stroke="#ff1010" stroke-width="0.9"/>
<circle cx="382.49" cy="131.91" r="1.89" fill="#fff" stroke="#ff1010" stroke-width="0.9"/>
<circle cx="382.06" cy="133.87" r="1.89" fill="#fff" stroke="#ff1010" stroke-width="0.9"/>
<circle cx="381.63" cy="135.82" r="1.89" fill="#fff" stroke="#ff1010" stroke-width="0.9"/>
<circle cx="381.21" cy="137.78" r="1.89" fill="#fff" stroke="#ff1010" stroke-width="0.9"/>
<circle cx="380.78" cy="139.73" r="1.89" fill="#fff" stroke="#ff1010" stroke-width="0.9"/>
<circle cx="380.35" cy="141.68" r="1.89" fill="#fff" stroke="#ff1010" stroke-width="0.9"/>
<circle cx="379.92" cy="143.64" r="1.89" fill="#fff" stroke="#ff1010" stroke-width="0.9"/>
<circle cx="379.48" cy="145.59" r="1.89" fill="#fff" stroke="#ff1010" stroke-width="0.9"/>
<circle cx="379.05" cy="147.54" r="1.89" fill="#fff" stroke="#ff1010" stroke-width="0.9"/>
<circle cx="378.62" cy="149.49" r="1.89" fill="#fff" stroke="#ff1010" stroke-width="0.9"/>
<circle cx="378.19" cy="151.45" r="1.89" fill="#fff" stroke="#ff1010" stroke-width="0.9"/>
<circle cx="377.75" cy="153.4" r="1.89" fill="#fff" stroke="#ff1010" stroke-width="0.9"/>
<circle cx="377.32" cy="155.35" r="1.89" fill="#fff" stroke="#ff1010" stroke-width="0.9"/>
<circle cx="376.89" cy="157.3" r="1.89" fill="#fff" stroke="#ff1010" stroke-width="0.9"/>
<circle cx="376.39" cy="159.24" r="1.89" fill="#fff" stroke="#ff1010" stroke-width="0.9"/>
<circle cx="375.78" cy="161.14" r="1.89" fill="#fff" stroke="#ff1010" stroke-width="0.9"/>
<polyline points="373.6,163.9 388.4,163.2 402.4,161.8 412.2,159 415.9,155.4" fill="none" stroke="#ff1010" stroke-width="3.6" stroke-linejoin="round" stroke-linecap="butt"/>
<polyline points="373.6,163.9 388.4,163.2 402.4,161.8 412.2,159 415.9,155.4" fill="none" stroke="#fff" stroke-opacity="0.2" stroke-width="1.08" stroke-dasharray="0.9 2.1" stroke-linejoin="round"/>
<circle cx="416.2" cy="72.3" r="1.89" fill="#fff" stroke="#ff1010" stroke-width="0.9"/>
<circle cx="416.63" cy="70.35" r="1.89" fill="#fff" stroke="#ff1010" stroke-width="0.9"/>
<circle cx="417.06" cy="68.39" r="1.89" fill="#fff" stroke="#ff1010" stroke-width="0.9"/>
<circle cx="417.48" cy="66.44" r="1.89" fill="#fff" stroke="#ff1010" stroke-width="0.9"/>
<circle cx="417.91" cy="64.49" r="1.89" fill="#fff" stroke="#ff1010" stroke-width="0.9"/>
<circle cx="418.34" cy="62.53" r="1.89" fill="#fff" stroke="#ff1010" stroke-width="0.9"/>
<circle cx="418.77" cy="60.58" r="1.89" fill="#fff" stroke="#ff1010" stroke-width="0.9"/>
<circle cx="419.19" cy="58.62" r="1.89" fill="#fff" stroke="#ff1010" stroke-width="0.9"/>
<circle cx="419.62" cy="56.67" r="1.89" fill="#fff" stroke="#ff1010" stroke-width="0.9"/>
<circle cx="420.05" cy="54.72" r="1.89" fill="#fff" stroke="#ff1010" stroke-width="0.9"/>
<circle cx="420.48" cy="52.76" r="1.89" fill="#fff" stroke="#ff1010" stroke-width="0.9"/>
<circle cx="420.92" cy="50.81" r="1.89" fill="#fff" stroke="#ff1010" stroke-width="0.9"/>
<circle cx="421.35" cy="48.86" r="1.89" fill="#fff" stroke="#ff1010" stroke-width="0.9"/>
<circle cx="421.78" cy="46.91" r="1.89" fill="#fff" stroke="#ff1010" stroke-width="0.9"/>
<circle cx="422.21" cy="44.95" r="1.89" fill="#fff" stroke="#ff1010" stroke-width="0.9"/>
<circle cx="422.65" cy="43" r="1.89" fill="#fff" stroke="#ff1010" stroke-width="0.9"/>
<circle cx="423.08" cy="41.05" r="1.89" fill="#fff" stroke="#ff1010" stroke-width="0.9"/>
<circle cx="423.51" cy="39.1" r="1.89" fill="#fff" stroke="#ff1010" stroke-width="0.9"/>
<circle cx="424.01" cy="37.16" r="1.89" fill="#fff" stroke="#ff1010" stroke-width="0.9"/>
<circle cx="424.62" cy="35.26" r="1.89" fill="#fff" stroke="#ff1010" stroke-width="0.9"/>
<circle cx="384.1" cy="45" r="1.89" fill="#fff" stroke="#ff1010" stroke-width="0.9"/>
<circle cx="384.1" cy="55" r="1.89" fill="#fff" stroke="#ff1010" stroke-width="0.9"/>
<circle cx="384.1" cy="85" r="1.89" fill="#fff" stroke="#ff1010" stroke-width="0.9"/>
<circle cx="384.1" cy="90" r="1.89" fill="#fff" stroke="#ff1010" stroke-width="0.9"/>
<circle cx="416.3" cy="151.4" r="1.89" fill="#fff" stroke="#ff1010" stroke-width="0.9"/>
<circle cx="416.3" cy="141.4" r="1.89" fill="#fff" stroke="#ff1010" stroke-width="0.9"/>
<circle cx="416.3" cy="111.4" r="1.89" fill="#fff" stroke="#ff1010" stroke-width="0.9"/>
<circle cx="416.3" cy="106.4" r="1.89" fill="#fff" stroke="#ff1010" stroke-width="0.9"/>
<polyline points="390.1,49.3 389.5,137 387.5,150" fill="none" stroke="#6464e6" stroke-width="1.45" stroke-linejoin="round"/>
<polyline points="410.3,147.1 410.9,59.4 412.9,46.4" fill="none" stroke="#6464e6" stroke-width="1.45" stroke-linejoin="round"/>
<polyline points="426,38.8 405,40.2 394.5,43 390.6,48.5" fill="none" stroke="#1010ff" stroke-width="3" stroke-linejoin="round" stroke-linecap="butt"/>
<polyline points="426,38.8 405,40.2 394.5,43 390.6,48.5" fill="none" stroke="#fff" stroke-opacity="0.6" stroke-width="0.9" stroke-dasharray="0.9 2.1" stroke-linejoin="round"/>
<polyline points="374.4,157.6 395.4,156.2 405.9,153.4 409.8,147.9" fill="none" stroke="#1010ff" stroke-width="3" stroke-linejoin="round" stroke-linecap="butt"/>
<polyline points="374.4,157.6 395.4,156.2 405.9,153.4 409.8,147.9" fill="none" stroke="#fff" stroke-opacity="0.6" stroke-width="0.9" stroke-dasharray="0.9 2.1" stroke-linejoin="round"/>
<circle cx="390.1" cy="50" r="1.89" fill="#fff" stroke="#1010ff" stroke-width="0.9"/>
<circle cx="389.8" cy="95" r="1.89" fill="#fff" stroke="#1010ff" stroke-width="0.9"/>
<circle cx="410.3" cy="146.4" r="1.89" fill="#fff" stroke="#1010ff" stroke-width="0.9"/>
<circle cx="410.6" cy="101.4" r="1.89" fill="#fff" stroke="#1010ff" stroke-width="0.9"/>
<polyline points="396.3,57 395.5,142" fill="none" stroke="#f064f0" stroke-width="1.45" stroke-linejoin="round"/>
<polyline points="404.1,139.4 404.9,54.4" fill="none" stroke="#f064f0" stroke-width="1.45" stroke-linejoin="round"/>
<polyline points="413.5,51.5 405,53 397,55.7" fill="none" stroke="#ff10ff" stroke-width="3" stroke-linejoin="round" stroke-linecap="butt"/>
<polyline points="413.5,51.5 405,53 397,55.7" fill="none" stroke="#fff" stroke-opacity="0.5" stroke-width="0.9" stroke-dasharray="0.9 2.1" stroke-linejoin="round"/>
<polygon points="396.3,59.31 398.4,55.42 394.2,55.42" fill="#fff" stroke="#ff10ff" stroke-width="0.9"/>
<polygon points="396.24,65.31 398.34,61.42 394.14,61.42" fill="#fff" stroke="#ff10ff" stroke-width="0.9"/>
<polygon points="396.19,71.31 398.29,67.42 394.09,67.42" fill="#fff" stroke="#ff10ff" stroke-width="0.9"/>
<polygon points="396.13,77.31 398.23,73.42 394.03,73.42" fill="#fff" stroke="#ff10ff" stroke-width="0.9"/>
<polygon points="396.07,83.31 398.17,79.42 393.97,79.42" fill="#fff" stroke="#ff10ff" stroke-width="0.9"/>
<polygon points="396.02,89.31 398.12,85.42 393.92,85.42" fill="#fff" stroke="#ff10ff" stroke-width="0.9"/>
<polygon points="395.96,95.31 398.06,91.42 393.86,91.42" fill="#fff" stroke="#ff10ff" stroke-width="0.9"/>
<polygon points="395.9,101.31 398,97.42 393.8,97.42" fill="#fff" stroke="#ff10ff" stroke-width="0.9"/>
<polygon points="395.85,107.31 397.95,103.42 393.75,103.42" fill="#fff" stroke="#ff10ff" stroke-width="0.9"/>
<polygon points="395.79,113.31 397.89,109.42 393.69,109.42" fill="#fff" stroke="#ff10ff" stroke-width="0.9"/>
<polygon points="395.74,119.31 397.84,115.42 393.64,115.42" fill="#fff" stroke="#ff10ff" stroke-width="0.9"/>
<polygon points="395.68,125.31 397.78,121.42 393.58,121.42" fill="#fff" stroke="#ff10ff" stroke-width="0.9"/>
<polygon points="395.62,131.31 397.72,127.42 393.52,127.42" fill="#fff" stroke="#ff10ff" stroke-width="0.9"/>
<polygon points="395.57,137.31 397.67,133.42 393.47,133.42" fill="#fff" stroke="#ff10ff" stroke-width="0.9"/>
<polygon points="395.51,143.31 397.61,139.42 393.41,139.42" fill="#fff" stroke="#ff10ff" stroke-width="0.9"/>
<polyline points="386.9,144.9 395.4,143.4 403.4,140.7" fill="none" stroke="#ff10ff" stroke-width="3" stroke-linejoin="round" stroke-linecap="butt"/>
<polyline points="386.9,144.9 395.4,143.4 403.4,140.7" fill="none" stroke="#fff" stroke-opacity="0.5" stroke-width="0.9" stroke-dasharray="0.9 2.1" stroke-linejoin="round"/>
<polygon points="404.1,141.71 406.2,137.83 402,137.83" fill="#fff" stroke="#ff10ff" stroke-width="0.9"/>
<polygon points="404.16,135.71 406.26,131.83 402.06,131.83" fill="#fff" stroke="#ff10ff" stroke-width="0.9"/>
<polygon points="404.21,129.71 406.31,125.83 402.11,125.83" fill="#fff" stroke="#ff10ff" stroke-width="0.9"/>
<polygon points="404.27,123.71 406.37,119.83 402.17,119.83" fill="#fff" stroke="#ff10ff" stroke-width="0.9"/>
<polygon points="404.33,117.71 406.43,113.83 402.23,113.83" fill="#fff" stroke="#ff10ff" stroke-width="0.9"/>
<polygon points="404.38,111.71 406.48,107.83 402.28,107.83" fill="#fff" stroke="#ff10ff" stroke-width="0.9"/>
<polygon points="404.44,105.71 406.54,101.83 402.34,101.83" fill="#fff" stroke="#ff10ff" stroke-width="0.9"/>
<polygon points="404.5,99.71 406.6,95.83 402.4,95.83" fill="#fff" stroke="#ff10ff" stroke-width="0.9"/>
<polygon points="404.55,93.71 406.65,89.83 402.45,89.83" fill="#fff" stroke="#ff10ff" stroke-width="0.9"/>
<polygon points="404.61,87.71 406.71,83.83 402.51,83.83" fill="#fff" stroke="#ff10ff" stroke-width="0.9"/>
<polygon points="404.66,81.71 406.76,77.83 402.56,77.83" fill="#fff" stroke="#ff10ff" stroke-width="0.9"/>
<polygon points="404.72,75.71 406.82,71.83 402.62,71.83" fill="#fff" stroke="#ff10ff" stroke-width="0.9"/>
<polygon points="404.78,69.71 406.88,65.83 402.68,65.83" fill="#fff" stroke="#ff10ff" stroke-width="0.9"/>
<polygon points="404.83,63.71 406.93,59.83 402.73,59.83" fill="#fff" stroke="#ff10ff" stroke-width="0.9"/>
<polygon points="404.89,57.71 406.99,53.83 402.79,53.83" fill="#fff" stroke="#ff10ff" stroke-width="0.9"/>
<polyline points="401.2,71 398.6,126" fill="none" stroke="#40a840" stroke-width="1.45" stroke-linejoin="round"/>
<polyline points="399.2,125.4 401.8,70.4" fill="none" stroke="#40a840" stroke-width="1.45" stroke-linejoin="round"/>
<polyline points="408.5,66.6 404,67.4 400.5,68.6" fill="none" stroke="#009000" stroke-width="3.6" stroke-linejoin="round" stroke-linecap="butt"/>
<polyline points="408.5,66.6 404,67.4 400.5,68.6" fill="none" stroke="#fff" stroke-opacity="0.0" stroke-width="1.08" stroke-dasharray="0.9 2.1" stroke-linejoin="round"/>
<polygon points="401.2,68.36 403.38,71 401.2,73.64 399.01,71" fill="#fff" stroke="#009000" stroke-width="0.9"/>
<polygon points="401,72.55 403.19,75.2 401,77.84 398.82,75.2" fill="#fff" stroke="#009000" stroke-width="0.9"/>
<polygon points="400.8,76.75 402.99,79.39 400.8,82.04 398.62,79.39" fill="#fff" stroke="#009000" stroke-width="0.9"/>
<polygon points="400.61,80.94 402.79,83.59 400.61,86.23 398.42,83.59" fill="#fff" stroke="#009000" stroke-width="0.9"/>
<polygon points="400.41,85.14 402.59,87.78 400.41,90.43 398.22,87.78" fill="#fff" stroke="#009000" stroke-width="0.9"/>
<polygon points="400.21,89.33 402.39,91.98 400.21,94.62 398.02,91.98" fill="#fff" stroke="#009000" stroke-width="0.9"/>
<polygon points="400.01,93.53 402.2,96.17 400.01,98.82 397.83,96.17" fill="#fff" stroke="#009000" stroke-width="0.9"/>
<polygon points="399.81,97.72 402,100.37 399.81,103.01 397.63,100.37" fill="#fff" stroke="#009000" stroke-width="0.9"/>
<polygon points="399.61,101.92 401.8,104.56 399.61,107.21 397.43,104.56" fill="#fff" stroke="#009000" stroke-width="0.9"/>
<polygon points="399.42,106.11 401.6,108.76 399.42,111.4 397.23,108.76" fill="#fff" stroke="#009000" stroke-width="0.9"/>
<polygon points="399.22,110.31 401.4,112.95 399.22,115.6 397.03,112.95" fill="#fff" stroke="#009000" stroke-width="0.9"/>
<polygon points="399.02,114.5 401.2,117.15 399.02,119.79 396.83,117.15" fill="#fff" stroke="#009000" stroke-width="0.9"/>
<polygon points="398.82,118.7 401.01,121.34 398.82,123.99 396.64,121.34" fill="#fff" stroke="#009000" stroke-width="0.9"/>
<polygon points="398.62,122.89 400.81,125.54 398.62,128.18 396.44,125.54" fill="#fff" stroke="#009000" stroke-width="0.9"/>
<polyline points="391.9,129.8 396.4,129 399.9,127.8" fill="none" stroke="#009000" stroke-width="3.6" stroke-linejoin="round" stroke-linecap="butt"/>
<polyline points="391.9,129.8 396.4,129 399.9,127.8" fill="none" stroke="#fff" stroke-opacity="0.0" stroke-width="1.08" stroke-dasharray="0.9 2.1" stroke-linejoin="round"/>
<polygon points="399.2,122.76 401.38,125.4 399.2,128.05 397.01,125.4" fill="#fff" stroke="#009000" stroke-width="0.9"/>
<polygon points="399.4,118.56 401.58,121.2 399.4,123.85 397.21,121.2" fill="#fff" stroke="#009000" stroke-width="0.9"/>
<polygon points="399.6,114.36 401.78,117.01 399.6,119.65 397.41,117.01" fill="#fff" stroke="#009000" stroke-width="0.9"/>
<polygon points="399.79,110.17 401.98,112.81 399.79,115.46 397.61,112.81" fill="#fff" stroke="#009000" stroke-width="0.9"/>
<polygon points="399.99,105.97 402.18,108.62 399.99,111.26 397.81,108.62" fill="#fff" stroke="#009000" stroke-width="0.9"/>
<polygon points="400.19,101.78 402.38,104.42 400.19,107.07 398.01,104.42" fill="#fff" stroke="#009000" stroke-width="0.9"/>
<polygon points="400.39,97.58 402.57,100.23 400.39,102.87 398.2,100.23" fill="#fff" stroke="#009000" stroke-width="0.9"/>
<polygon points="400.59,93.39 402.77,96.03 400.59,98.68 398.4,96.03" fill="#fff" stroke="#009000" stroke-width="0.9"/>
<polygon points="400.79,89.19 402.97,91.84 400.79,94.48 398.6,91.84" fill="#fff" stroke="#009000" stroke-width="0.9"/>
<polygon points="400.98,85 403.17,87.64 400.98,90.29 398.8,87.64" fill="#fff" stroke="#009000" stroke-width="0.9"/>
<polygon points="401.18,80.8 403.37,83.45 401.18,86.09 399,83.45" fill="#fff" stroke="#009000" stroke-width="0.9"/>
<polygon points="401.38,76.61 403.57,79.25 401.38,81.9 399.2,79.25" fill="#fff" stroke="#009000" stroke-width="0.9"/>
<polygon points="401.58,72.41 403.76,75.06 401.58,77.7 399.39,75.06" fill="#fff" stroke="#009000" stroke-width="0.9"/>
<polygon points="401.78,68.22 403.96,70.86 401.78,73.51 399.59,70.86" fill="#fff" stroke="#009000" stroke-width="0.9"/>
<line x1="456.6" y1="127.4" x2="480.2" y2="127.4" stroke="#555555" stroke-width="1.3"/>
<circle cx="468.1" cy="127.4" r="1.71" fill="#fff" stroke="#000000" stroke-width="0.9"/>
<text x="506.3" y="131.3" font-size="11.5" text-anchor="end" >5 K</text>
<line x1="456.6" y1="141.7" x2="480.2" y2="141.7" stroke="#ee6464" stroke-width="1.3"/>
<circle cx="468.1" cy="141.7" r="1.71" fill="#fff" stroke="#ff1010" stroke-width="0.9"/>
<text x="506.3" y="145.6" font-size="11.5" text-anchor="end" >10 K</text>
<line x1="456.6" y1="156" x2="480.2" y2="156" stroke="#6464e6" stroke-width="1.3"/>
<circle cx="468.1" cy="156" r="1.71" fill="#fff" stroke="#1010ff" stroke-width="0.9"/>
<text x="506.3" y="159.9" font-size="11.5" text-anchor="end" >15 K</text>
<line x1="456.6" y1="170.2" x2="480.2" y2="170.2" stroke="#f064f0" stroke-width="1.3"/>
<polygon points="468.1,172.29 470,168.77 466.2,168.77" fill="#fff" stroke="#ff10ff" stroke-width="0.9"/>
<text x="506.3" y="174.1" font-size="11.5" text-anchor="end" >20 K</text>
<line x1="456.6" y1="184.8" x2="480.2" y2="184.8" stroke="#40a840" stroke-width="1.3"/>
<polygon points="468.1,182.62 469.91,184.8 468.1,186.99 466.3,184.8" fill="#fff" stroke="#009000" stroke-width="0.9"/>
<text x="506.3" y="188.7" font-size="11.5" text-anchor="end" >25 K</text>
<line x1="364.8" y1="105.5" x2="364.8" y2="97.5" stroke="#000" stroke-width="1.6"/><polygon points="362.6,98 367,98 364.8,91.5" fill="#000"/>
<line x1="371" y1="91.5" x2="371" y2="101.5" stroke="#800080" stroke-width="2.4"/><polygon points="367.5,101 374.5,101 371,112" fill="#800080"/>
<line x1="428.9" y1="82" x2="428.9" y2="90.1" stroke="#000" stroke-width="1.6"/><polygon points="426.7,89.6 431.1,89.6 428.9,96.1" fill="#000"/>
<line x1="435" y1="102" x2="435" y2="91.5" stroke="#800080" stroke-width="2.4"/><polygon points="431.5,92 438.5,92 435,81" fill="#800080"/>
<line x1="444.5" y1="49" x2="444.5" y2="41.9" stroke="#000" stroke-width="1.6"/><polygon points="442.3,42.4 446.7,42.4 444.5,35.9" fill="#000"/>
<line x1="451" y1="49.8" x2="451" y2="39.4" stroke="#800080" stroke-width="2.4"/><polygon points="447.5,39.9 454.5,39.9 451,28.9" fill="#800080"/>
<line x1="348.3" y1="153.3" x2="348.3" y2="161.7" stroke="#000" stroke-width="1.6"/><polygon points="346.1,161.2 350.5,161.2 348.3,167.7" fill="#000"/>
<line x1="355.1" y1="147.3" x2="355.1" y2="157.2" stroke="#800080" stroke-width="2.4"/><polygon points="351.6,156.7 358.6,156.7 355.1,167.7" fill="#800080"/>
<text x="490.3" y="18.5" font-size="13.5" text-anchor="start" >(b)</text>
<text x="295.7" y="17.8" font-size="10.6">t<tspan dy="3.6">top</tspan><tspan dy="-3.6"> = 10 nm</tspan></text>
<polyline points="620.8,38.4 620.7,101.2" fill="none" stroke="#555555" stroke-width="1.45" stroke-linejoin="round"/>
<polyline points="669.2,155.8 669.3,93" fill="none" stroke="#555555" stroke-width="1.45" stroke-linejoin="round"/>
<polyline points="708.5,31.5 680,32.5 660,33.4 640,34 629,34.6 623,36.2" fill="none" stroke="#000000" stroke-width="3.4" stroke-linejoin="round" stroke-linecap="butt"/>
<polyline points="708.5,31.5 680,32.5 660,33.4 640,34 629,34.6 623,36.2" fill="none" stroke="#fff" stroke-opacity="0.3" stroke-width="1.02" stroke-dasharray="0.9 2.1" stroke-linejoin="round"/>
<polyline points="581.5,162.7 610,161.7 630,160.8 650,160.2 661,159.6 667,158" fill="none" stroke="#000000" stroke-width="3.4" stroke-linejoin="round" stroke-linecap="butt"/>
<polyline points="581.5,162.7 610,161.7 630,160.8 650,160.2 661,159.6 667,158" fill="none" stroke="#fff" stroke-opacity="0.3" stroke-width="1.02" stroke-dasharray="0.9 2.1" stroke-linejoin="round"/>
<circle cx="621" cy="38.5" r="1.89" fill="#fff" stroke="#000000" stroke-width="0.9"/>
<circle cx="621" cy="42" r="1.89" fill="#fff" stroke="#000000" stroke-width="0.9"/>
<circle cx="621" cy="45.5" r="1.89" fill="#fff" stroke="#000000" stroke-width="0.9"/>
<circle cx="621" cy="63" r="1.89" fill="#fff" stroke="#000000" stroke-width="0.9"/>
<circle cx="620.8" cy="90" r="1.89" fill="#fff" stroke="#000000" stroke-width="0.9"/>
<circle cx="669" cy="155.7" r="1.89" fill="#fff" stroke="#000000" stroke-width="0.9"/>
<circle cx="669" cy="152.2" r="1.89" fill="#fff" stroke="#000000" stroke-width="0.9"/>
<circle cx="669" cy="148.7" r="1.89" fill="#fff" stroke="#000000" stroke-width="0.9"/>
<circle cx="669" cy="131.2" r="1.89" fill="#fff" stroke="#000000" stroke-width="0.9"/>
<circle cx="669.2" cy="104.2" r="1.89" fill="#fff" stroke="#000000" stroke-width="0.9"/>
<polyline points="620.7,101.2 616.4,103.8 612,107.2 608.6,114.1 606,124.5 603.4,136.6 600.9,148.6 598.3,159 596,161" fill="none" stroke="#555555" stroke-width="1.45" stroke-linejoin="round"/>
<polyline points="690.7,32.3 688.3,38 685.9,47.7 684.3,57.4 682.7,67 679.4,76.8 674.6,83.3 669.7,87.3 668.1,91.3" fill="none" stroke="#555555" stroke-width="1.45" stroke-linejoin="round"/>
<circle cx="620.7" cy="101.2" r="1.89" fill="#fff" stroke="#000000" stroke-width="0.9"/>
<circle cx="618.82" cy="102.34" r="1.89" fill="#fff" stroke="#000000" stroke-width="0.9"/>
<circle cx="616.93" cy="103.48" r="1.89" fill="#fff" stroke="#000000" stroke-width="0.9"/>
<circle cx="615.15" cy="104.76" r="1.89" fill="#fff" stroke="#000000" stroke-width="0.9"/>
<circle cx="613.41" cy="106.11" r="1.89" fill="#fff" stroke="#000000" stroke-width="0.9"/>
<circle cx="611.82" cy="107.57" r="1.89" fill="#fff" stroke="#000000" stroke-width="0.9"/>
<circle cx="610.84" cy="109.55" r="1.89" fill="#fff" stroke="#000000" stroke-width="0.9"/>
<circle cx="609.87" cy="111.52" r="1.89" fill="#fff" stroke="#000000" stroke-width="0.9"/>
<circle cx="608.9" cy="113.49" r="1.89" fill="#fff" stroke="#000000" stroke-width="0.9"/>
<circle cx="608.23" cy="115.58" r="1.89" fill="#fff" stroke="#000000" stroke-width="0.9"/>
<circle cx="607.7" cy="117.71" r="1.89" fill="#fff" stroke="#000000" stroke-width="0.9"/>
<circle cx="607.16" cy="119.85" r="1.89" fill="#fff" stroke="#000000" stroke-width="0.9"/>
<circle cx="606.63" cy="121.98" r="1.89" fill="#fff" stroke="#000000" stroke-width="0.9"/>
<circle cx="606.1" cy="124.11" r="1.89" fill="#fff" stroke="#000000" stroke-width="0.9"/>
<circle cx="605.62" cy="126.26" r="1.89" fill="#fff" stroke="#000000" stroke-width="0.9"/>
<circle cx="605.16" cy="128.41" r="1.89" fill="#fff" stroke="#000000" stroke-width="0.9"/>
<circle cx="604.7" cy="130.56" r="1.89" fill="#fff" stroke="#000000" stroke-width="0.9"/>
<circle cx="604.23" cy="132.71" r="1.89" fill="#fff" stroke="#000000" stroke-width="0.9"/>
<circle cx="603.77" cy="134.87" r="1.89" fill="#fff" stroke="#000000" stroke-width="0.9"/>
<circle cx="603.31" cy="137.02" r="1.89" fill="#fff" stroke="#000000" stroke-width="0.9"/>
<circle cx="602.86" cy="139.17" r="1.89" fill="#fff" stroke="#000000" stroke-width="0.9"/>
<circle cx="602.42" cy="141.32" r="1.89" fill="#fff" stroke="#000000" stroke-width="0.9"/>
<circle cx="601.97" cy="143.48" r="1.89" fill="#fff" stroke="#000000" stroke-width="0.9"/>
<circle cx="601.52" cy="145.63" r="1.89" fill="#fff" stroke="#000000" stroke-width="0.9"/>
<circle cx="601.07" cy="147.79" r="1.89" fill="#fff" stroke="#000000" stroke-width="0.9"/>
<circle cx="600.57" cy="149.93" r="1.89" fill="#fff" stroke="#000000" stroke-width="0.9"/>
<circle cx="600.03" cy="152.06" r="1.89" fill="#fff" stroke="#000000" stroke-width="0.9"/>
<circle cx="599.5" cy="154.2" r="1.89" fill="#fff" stroke="#000000" stroke-width="0.9"/>
<circle cx="598.97" cy="156.33" r="1.89" fill="#fff" stroke="#000000" stroke-width="0.9"/>
<circle cx="598.43" cy="158.46" r="1.89" fill="#fff" stroke="#000000" stroke-width="0.9"/>
<circle cx="597.06" cy="160.08" r="1.89" fill="#fff" stroke="#000000" stroke-width="0.9"/>
<circle cx="690.7" cy="32.3" r="1.89" fill="#fff" stroke="#000000" stroke-width="0.9"/>
<circle cx="689.85" cy="34.33" r="1.89" fill="#fff" stroke="#000000" stroke-width="0.9"/>
<circle cx="688.99" cy="36.36" r="1.89" fill="#fff" stroke="#000000" stroke-width="0.9"/>
<circle cx="688.2" cy="38.4" r="1.89" fill="#fff" stroke="#000000" stroke-width="0.9"/>
<circle cx="687.67" cy="40.54" r="1.89" fill="#fff" stroke="#000000" stroke-width="0.9"/>
<circle cx="687.14" cy="42.67" r="1.89" fill="#fff" stroke="#000000" stroke-width="0.9"/>
<circle cx="686.62" cy="44.81" r="1.89" fill="#fff" stroke="#000000" stroke-width="0.9"/>
<circle cx="686.09" cy="46.95" r="1.89" fill="#fff" stroke="#000000" stroke-width="0.9"/>
<circle cx="685.67" cy="49.1" r="1.89" fill="#fff" stroke="#000000" stroke-width="0.9"/>
<circle cx="685.31" cy="51.27" r="1.89" fill="#fff" stroke="#000000" stroke-width="0.9"/>
<circle cx="684.95" cy="53.45" r="1.89" fill="#fff" stroke="#000000" stroke-width="0.9"/>
<circle cx="684.59" cy="55.62" r="1.89" fill="#fff" stroke="#000000" stroke-width="0.9"/>
<circle cx="684.24" cy="57.79" r="1.89" fill="#fff" stroke="#000000" stroke-width="0.9"/>
<circle cx="683.87" cy="59.96" r="1.89" fill="#fff" stroke="#000000" stroke-width="0.9"/>
<circle cx="683.51" cy="62.13" r="1.89" fill="#fff" stroke="#000000" stroke-width="0.9"/>
<circle cx="683.15" cy="64.3" r="1.89" fill="#fff" stroke="#000000" stroke-width="0.9"/>
<circle cx="682.79" cy="66.47" r="1.89" fill="#fff" stroke="#000000" stroke-width="0.9"/>
<circle cx="682.17" cy="68.57" r="1.89" fill="#fff" stroke="#000000" stroke-width="0.9"/>
<circle cx="681.47" cy="70.66" r="1.89" fill="#fff" stroke="#000000" stroke-width="0.9"/>
<circle cx="680.77" cy="72.74" r="1.89" fill="#fff" stroke="#000000" stroke-width="0.9"/>
<circle cx="680.06" cy="74.83" r="1.89" fill="#fff" stroke="#000000" stroke-width="0.9"/>
<circle cx="679.33" cy="76.9" r="1.89" fill="#fff" stroke="#000000" stroke-width="0.9"/>
<circle cx="678.02" cy="78.67" r="1.89" fill="#fff" stroke="#000000" stroke-width="0.9"/>
<circle cx="676.72" cy="80.43" r="1.89" fill="#fff" stroke="#000000" stroke-width="0.9"/>
<circle cx="675.41" cy="82.2" r="1.89" fill="#fff" stroke="#000000" stroke-width="0.9"/>
<circle cx="673.95" cy="83.83" r="1.89" fill="#fff" stroke="#000000" stroke-width="0.9"/>
<circle cx="672.25" cy="85.22" r="1.89" fill="#fff" stroke="#000000" stroke-width="0.9"/>
<circle cx="670.54" cy="86.61" r="1.89" fill="#fff" stroke="#000000" stroke-width="0.9"/>
<circle cx="669.29" cy="88.33" r="1.89" fill="#fff" stroke="#000000" stroke-width="0.9"/>
<circle cx="668.47" cy="90.38" r="1.89" fill="#fff" stroke="#000000" stroke-width="0.9"/>
<polyline points="676.5,29.5 660,31.8 645,34.3 635,36.8 631,40" fill="none" stroke="#ee6464" stroke-width="1.45" stroke-linejoin="round"/>
<polyline points="676.5,27.3 660,29.6 645,32.1 636,34.5" fill="none" stroke="#ee6464" stroke-width="1.45" stroke-linejoin="round"/>
<polyline points="629.2,41.3 627.2,160.5" fill="none" stroke="#ee6464" stroke-width="1.45" stroke-linejoin="round"/>
<polyline points="661.5,32 660,157" fill="none" stroke="#ee6464" stroke-width="1.45" stroke-linejoin="round"/>
<polyline points="612,160.3 635,159.8 658.5,158.6" fill="none" stroke="#ee6464" stroke-width="1.45" stroke-linejoin="round"/>
<polyline points="612,164.3 635,163.6 656,162.2" fill="none" stroke="#ee6464" stroke-width="1.45" stroke-linejoin="round"/>
<polygon points="676.5,27.3 678.5,31 674.5,31" fill="#fff" stroke="#ff1010" stroke-width="0.9"/>
<polygon points="675.21,27.48 677.21,31.18 673.21,31.18" fill="#fff" stroke="#ff1010" stroke-width="0.9"/>
<polygon points="673.92,27.66 675.92,31.36 671.92,31.36" fill="#fff" stroke="#ff1010" stroke-width="0.9"/>
<polygon points="672.64,27.84 674.64,31.54 670.64,31.54" fill="#fff" stroke="#ff1010" stroke-width="0.9"/>
<polygon points="671.35,28.02 673.35,31.72 669.35,31.72" fill="#fff" stroke="#ff1010" stroke-width="0.9"/>
<polygon points="670.06,28.2 672.06,31.9 668.06,31.9" fill="#fff" stroke="#ff1010" stroke-width="0.9"/>
<polygon points="668.77,28.38 670.77,32.08 666.77,32.08" fill="#fff" stroke="#ff1010" stroke-width="0.9"/>
<polygon points="667.49,28.56 669.49,32.26 665.49,32.26" fill="#fff" stroke="#ff1010" stroke-width="0.9"/>
<polygon points="666.2,28.74 668.2,32.44 664.2,32.44" fill="#fff" stroke="#ff1010" stroke-width="0.9"/>
<polygon points="664.91,28.92 666.91,32.62 662.91,32.62" fill="#fff" stroke="#ff1010" stroke-width="0.9"/>
<polygon points="663.62,29.09 665.62,32.79 661.62,32.79" fill="#fff" stroke="#ff1010" stroke-width="0.9"/>
<polygon points="662.34,29.27 664.34,32.97 660.34,32.97" fill="#fff" stroke="#ff1010" stroke-width="0.9"/>
<polygon points="661.05,29.45 663.05,33.15 659.05,33.15" fill="#fff" stroke="#ff1010" stroke-width="0.9"/>
<polygon points="659.76,29.64 661.76,33.34 657.76,33.34" fill="#fff" stroke="#ff1010" stroke-width="0.9"/>
<polygon points="658.48,29.85 660.48,33.55 656.48,33.55" fill="#fff" stroke="#ff1010" stroke-width="0.9"/>
<polygon points="657.2,30.07 659.2,33.77 655.2,33.77" fill="#fff" stroke="#ff1010" stroke-width="0.9"/>
<polygon points="655.92,30.28 657.92,33.98 653.92,33.98" fill="#fff" stroke="#ff1010" stroke-width="0.9"/>
<polygon points="654.63,30.49 656.63,34.19 652.63,34.19" fill="#fff" stroke="#ff1010" stroke-width="0.9"/>
<polygon points="653.35,30.71 655.35,34.41 651.35,34.41" fill="#fff" stroke="#ff1010" stroke-width="0.9"/>
<polygon points="652.07,30.92 654.07,34.62 650.07,34.62" fill="#fff" stroke="#ff1010" stroke-width="0.9"/>
<polygon points="650.79,31.14 652.79,34.84 648.79,34.84" fill="#fff" stroke="#ff1010" stroke-width="0.9"/>
<polygon points="649.5,31.35 651.5,35.05 647.5,35.05" fill="#fff" stroke="#ff1010" stroke-width="0.9"/>
<polygon points="648.22,31.56 650.22,35.26 646.22,35.26" fill="#fff" stroke="#ff1010" stroke-width="0.9"/>
<polygon points="646.94,31.78 648.94,35.48 644.94,35.48" fill="#fff" stroke="#ff1010" stroke-width="0.9"/>
<polygon points="645.66,31.99 647.66,35.69 643.66,35.69" fill="#fff" stroke="#ff1010" stroke-width="0.9"/>
<polygon points="644.39,32.25 646.39,35.95 642.39,35.95" fill="#fff" stroke="#ff1010" stroke-width="0.9"/>
<polygon points="643.12,32.57 645.12,36.27 641.12,36.27" fill="#fff" stroke="#ff1010" stroke-width="0.9"/>
<polygon points="641.86,32.88 643.86,36.58 639.86,36.58" fill="#fff" stroke="#ff1010" stroke-width="0.9"/>
<polygon points="640.6,33.2 642.6,36.9 638.6,36.9" fill="#fff" stroke="#ff1010" stroke-width="0.9"/>
<polygon points="639.34,33.51 641.34,37.21 637.34,37.21" fill="#fff" stroke="#ff1010" stroke-width="0.9"/>
<polygon points="638.08,33.83 640.08,37.53 636.08,37.53" fill="#fff" stroke="#ff1010" stroke-width="0.9"/>
<polygon points="636.82,34.15 638.82,37.85 634.82,37.85" fill="#fff" stroke="#ff1010" stroke-width="0.9"/>
<polygon points="635.56,34.46 637.56,38.16 633.56,38.16" fill="#fff" stroke="#ff1010" stroke-width="0.9"/>
<polygon points="634.43,35.05 636.43,38.75 632.43,38.75" fill="#fff" stroke="#ff1010" stroke-width="0.9"/>
<polygon points="633.42,35.87 635.42,39.57 631.42,39.57" fill="#fff" stroke="#ff1010" stroke-width="0.9"/>
<polygon points="632.4,36.68 634.4,40.38 630.4,40.38" fill="#fff" stroke="#ff1010" stroke-width="0.9"/>
<polygon points="631.39,37.49 633.39,41.19 629.39,41.19" fill="#fff" stroke="#ff1010" stroke-width="0.9"/>
<polygon points="676.5,25.1 678.5,28.8 674.5,28.8" fill="#fff" stroke="#ff1010" stroke-width="0.9"/>
<polygon points="674.92,25.32 676.92,29.02 672.92,29.02" fill="#fff" stroke="#ff1010" stroke-width="0.9"/>
<polygon points="673.33,25.54 675.33,29.24 671.33,29.24" fill="#fff" stroke="#ff1010" stroke-width="0.9"/>
<polygon points="671.75,25.76 673.75,29.46 669.75,29.46" fill="#fff" stroke="#ff1010" stroke-width="0.9"/>
<polygon points="670.16,25.98 672.16,29.68 668.16,29.68" fill="#fff" stroke="#ff1010" stroke-width="0.9"/>
<polygon points="668.58,26.2 670.58,29.9 666.58,29.9" fill="#fff" stroke="#ff1010" stroke-width="0.9"/>
<polygon points="666.99,26.43 668.99,30.13 664.99,30.13" fill="#fff" stroke="#ff1010" stroke-width="0.9"/>
<polygon points="665.41,26.65 667.41,30.35 663.41,30.35" fill="#fff" stroke="#ff1010" stroke-width="0.9"/>
<polygon points="663.82,26.87 665.82,30.57 661.82,30.57" fill="#fff" stroke="#ff1010" stroke-width="0.9"/>
<polygon points="662.24,27.09 664.24,30.79 660.24,30.79" fill="#fff" stroke="#ff1010" stroke-width="0.9"/>
<polygon points="660.65,27.31 662.65,31.01 658.65,31.01" fill="#fff" stroke="#ff1010" stroke-width="0.9"/>
<polygon points="659.07,27.55 661.07,31.25 657.07,31.25" fill="#fff" stroke="#ff1010" stroke-width="0.9"/>
<polygon points="657.49,27.82 659.49,31.52 655.49,31.52" fill="#fff" stroke="#ff1010" stroke-width="0.9"/>
<polygon points="655.92,28.08 657.92,31.78 653.92,31.78" fill="#fff" stroke="#ff1010" stroke-width="0.9"/>
<polygon points="654.34,28.34 656.34,32.04 652.34,32.04" fill="#fff" stroke="#ff1010" stroke-width="0.9"/>
<polygon points="652.76,28.61 654.76,32.31 650.76,32.31" fill="#fff" stroke="#ff1010" stroke-width="0.9"/>
<polygon points="651.18,28.87 653.18,32.57 649.18,32.57" fill="#fff" stroke="#ff1010" stroke-width="0.9"/>
<polygon points="649.6,29.13 651.6,32.83 647.6,32.83" fill="#fff" stroke="#ff1010" stroke-width="0.9"/>
<polygon points="648.02,29.4 650.02,33.1 646.02,33.1" fill="#fff" stroke="#ff1010" stroke-width="0.9"/>
<polygon points="646.45,29.66 648.45,33.36 644.45,33.36" fill="#fff" stroke="#ff1010" stroke-width="0.9"/>
<polygon points="644.87,29.93 646.87,33.63 642.87,33.63" fill="#fff" stroke="#ff1010" stroke-width="0.9"/>
<polygon points="643.32,30.35 645.32,34.05 641.32,34.05" fill="#fff" stroke="#ff1010" stroke-width="0.9"/>
<polygon points="641.78,30.76 643.78,34.46 639.78,34.46" fill="#fff" stroke="#ff1010" stroke-width="0.9"/>
<polygon points="640.23,31.17 642.23,34.87 638.23,34.87" fill="#fff" stroke="#ff1010" stroke-width="0.9"/>
<polygon points="638.69,31.58 640.69,35.28 636.69,35.28" fill="#fff" stroke="#ff1010" stroke-width="0.9"/>
<polygon points="637.14,32 639.14,35.7 635.14,35.7" fill="#fff" stroke="#ff1010" stroke-width="0.9"/>
<polygon points="612,158.1 614,161.8 610,161.8" fill="#fff" stroke="#ff1010" stroke-width="0.9"/>
<polygon points="613.5,158.07 615.5,161.77 611.5,161.77" fill="#fff" stroke="#ff1010" stroke-width="0.9"/>
<polygon points="615,158.03 617,161.73 613,161.73" fill="#fff" stroke="#ff1010" stroke-width="0.9"/>
<polygon points="616.5,158 618.5,161.7 614.5,161.7" fill="#fff" stroke="#ff1010" stroke-width="0.9"/>
<polygon points="618,157.97 620,161.67 616,161.67" fill="#fff" stroke="#ff1010" stroke-width="0.9"/>
<polygon points="619.5,157.94 621.5,161.64 617.5,161.64" fill="#fff" stroke="#ff1010" stroke-width="0.9"/>
<polygon points="621,157.9 623,161.6 619,161.6" fill="#fff" stroke="#ff1010" stroke-width="0.9"/>
<polygon points="622.5,157.87 624.5,161.57 620.5,161.57" fill="#fff" stroke="#ff1010" stroke-width="0.9"/>
<polygon points="624,157.84 626,161.54 622,161.54" fill="#fff" stroke="#ff1010" stroke-width="0.9"/>
<polygon points="625.5,157.81 627.5,161.51 623.5,161.51" fill="#fff" stroke="#ff1010" stroke-width="0.9"/>
<polygon points="627,157.77 629,161.47 625,161.47" fill="#fff" stroke="#ff1010" stroke-width="0.9"/>
<polygon points="628.5,157.74 630.5,161.44 626.5,161.44" fill="#fff" stroke="#ff1010" stroke-width="0.9"/>
<polygon points="630,157.71 632,161.41 628,161.41" fill="#fff" stroke="#ff1010" stroke-width="0.9"/>
<polygon points="631.5,157.68 633.5,161.38 629.5,161.38" fill="#fff" stroke="#ff1010" stroke-width="0.9"/>
<polygon points="633,157.64 635,161.34 631,161.34" fill="#fff" stroke="#ff1010" stroke-width="0.9"/>
<polygon points="634.49,157.61 636.49,161.31 632.49,161.31" fill="#fff" stroke="#ff1010" stroke-width="0.9"/>
<polygon points="635.99,157.55 637.99,161.25 633.99,161.25" fill="#fff" stroke="#ff1010" stroke-width="0.9"/>
<polygon points="637.49,157.47 639.49,161.17 635.49,161.17" fill="#fff" stroke="#ff1010" stroke-width="0.9"/>
<polygon points="638.99,157.4 640.99,161.1 636.99,161.1" fill="#fff" stroke="#ff1010" stroke-width="0.9"/>
<polygon points="640.49,157.32 642.49,161.02 638.49,161.02" fill="#fff" stroke="#ff1010" stroke-width="0.9"/>
<polygon points="641.99,157.24 643.99,160.94 639.99,160.94" fill="#fff" stroke="#ff1010" stroke-width="0.9"/>
<polygon points="643.48,157.17 645.48,160.87 641.48,160.87" fill="#fff" stroke="#ff1010" stroke-width="0.9"/>
<polygon points="644.98,157.09 646.98,160.79 642.98,160.79" fill="#fff" stroke="#ff1010" stroke-width="0.9"/>
<polygon points="646.48,157.01 648.48,160.71 644.48,160.71" fill="#fff" stroke="#ff1010" stroke-width="0.9"/>
<polygon points="647.98,156.94 649.98,160.64 645.98,160.64" fill="#fff" stroke="#ff1010" stroke-width="0.9"/>
<polygon points="649.48,156.86 651.48,160.56 647.48,160.56" fill="#fff" stroke="#ff1010" stroke-width="0.9"/>
<polygon points="650.97,156.78 652.97,160.48 648.97,160.48" fill="#fff" stroke="#ff1010" stroke-width="0.9"/>
<polygon points="652.47,156.71 654.47,160.41 650.47,160.41" fill="#fff" stroke="#ff1010" stroke-width="0.9"/>
<polygon points="653.97,156.63 655.97,160.33 651.97,160.33" fill="#fff" stroke="#ff1010" stroke-width="0.9"/>
<polygon points="655.47,156.55 657.47,160.25 653.47,160.25" fill="#fff" stroke="#ff1010" stroke-width="0.9"/>
<polygon points="656.97,156.48 658.97,160.18 654.97,160.18" fill="#fff" stroke="#ff1010" stroke-width="0.9"/>
<polygon points="658.46,156.4 660.46,160.1 656.46,160.1" fill="#fff" stroke="#ff1010" stroke-width="0.9"/>
<polygon points="612,162.1 614,165.8 610,165.8" fill="#fff" stroke="#ff1010" stroke-width="0.9"/>
<polygon points="613.7,162.05 615.7,165.75 611.7,165.75" fill="#fff" stroke="#ff1010" stroke-width="0.9"/>
<polygon points="615.4,162 617.4,165.7 613.4,165.7" fill="#fff" stroke="#ff1010" stroke-width="0.9"/>
<polygon points="617.1,161.94 619.1,165.64 615.1,165.64" fill="#fff" stroke="#ff1010" stroke-width="0.9"/>
<polygon points="618.8,161.89 620.8,165.59 616.8,165.59" fill="#fff" stroke="#ff1010" stroke-width="0.9"/>
<polygon points="620.5,161.84 622.5,165.54 618.5,165.54" fill="#fff" stroke="#ff1010" stroke-width="0.9"/>
<polygon points="622.2,161.79 624.2,165.49 620.2,165.49" fill="#fff" stroke="#ff1010" stroke-width="0.9"/>
<polygon points="623.89,161.74 625.89,165.44 621.89,165.44" fill="#fff" stroke="#ff1010" stroke-width="0.9"/>
<polygon points="625.59,161.69 627.59,165.39 623.59,165.39" fill="#fff" stroke="#ff1010" stroke-width="0.9"/>
<polygon points="627.29,161.63 629.29,165.33 625.29,165.33" fill="#fff" stroke="#ff1010" stroke-width="0.9"/>
<polygon points="628.99,161.58 630.99,165.28 626.99,165.28" fill="#fff" stroke="#ff1010" stroke-width="0.9"/>
<polygon points="630.69,161.53 632.69,165.23 628.69,165.23" fill="#fff" stroke="#ff1010" stroke-width="0.9"/>
<polygon points="632.39,161.48 634.39,165.18 630.39,165.18" fill="#fff" stroke="#ff1010" stroke-width="0.9"/>
<polygon points="634.09,161.43 636.09,165.13 632.09,165.13" fill="#fff" stroke="#ff1010" stroke-width="0.9"/>
<polygon points="635.79,161.35 637.79,165.05 633.79,165.05" fill="#fff" stroke="#ff1010" stroke-width="0.9"/>
<polygon points="637.48,161.23 639.48,164.93 635.48,164.93" fill="#fff" stroke="#ff1010" stroke-width="0.9"/>
<polygon points="639.18,161.12 641.18,164.82 637.18,164.82" fill="#fff" stroke="#ff1010" stroke-width="0.9"/>
<polygon points="640.88,161.01 642.88,164.71 638.88,164.71" fill="#fff" stroke="#ff1010" stroke-width="0.9"/>
<polygon points="642.57,160.9 644.57,164.6 640.57,164.6" fill="#fff" stroke="#ff1010" stroke-width="0.9"/>
<polygon points="644.27,160.78 646.27,164.48 642.27,164.48" fill="#fff" stroke="#ff1010" stroke-width="0.9"/>
<polygon points="645.97,160.67 647.97,164.37 643.97,164.37" fill="#fff" stroke="#ff1010" stroke-width="0.9"/>
<polygon points="647.66,160.56 649.66,164.26 645.66,164.26" fill="#fff" stroke="#ff1010" stroke-width="0.9"/>
<polygon points="649.36,160.44 651.36,164.14 647.36,164.14" fill="#fff" stroke="#ff1010" stroke-width="0.9"/>
<polygon points="651.05,160.33 653.05,164.03 649.05,164.03" fill="#fff" stroke="#ff1010" stroke-width="0.9"/>
<polygon points="652.75,160.22 654.75,163.92 650.75,163.92" fill="#fff" stroke="#ff1010" stroke-width="0.9"/>
<polygon points="654.45,160.1 656.45,163.8 652.45,163.8" fill="#fff" stroke="#ff1010" stroke-width="0.9"/>
<polygon points="629,49.8 631,53.5 627,53.5" fill="#fff" stroke="#ff1010" stroke-width="0.9"/>
<polygon points="628,110.8 630,114.5 626,114.5" fill="#fff" stroke="#ff1010" stroke-width="0.9"/>
<polygon points="661,78.8 663,82.5 659,82.5" fill="#fff" stroke="#ff1010" stroke-width="0.9"/>
<polygon points="660.5,137.8 662.5,141.5 658.5,141.5" fill="#fff" stroke="#ff1010" stroke-width="0.9"/>
<polyline points="638.5,45.2 633,150" fill="none" stroke="#6464e6" stroke-width="1.45" stroke-linejoin="round"/>
<polyline points="651.5,149 657,44.2" fill="none" stroke="#6464e6" stroke-width="1.45" stroke-linejoin="round"/>
<polyline points="664,37.8 650,39.6 643.6,41.2 640,44.5" fill="none" stroke="#1010ff" stroke-width="3.8" stroke-linejoin="round" stroke-linecap="butt"/>
<polyline points="664,37.8 650,39.6 643.6,41.2 640,44.5" fill="none" stroke="#fff" stroke-opacity="0.3" stroke-width="1.14" stroke-dasharray="0.9 2.1" stroke-linejoin="round"/>
<circle cx="638.5" cy="45.2" r="1.89" fill="#fff" stroke="#1010ff" stroke-width="0.9"/>
<circle cx="638.26" cy="49.79" r="1.89" fill="#fff" stroke="#1010ff" stroke-width="0.9"/>
<circle cx="638.02" cy="54.39" r="1.89" fill="#fff" stroke="#1010ff" stroke-width="0.9"/>
<circle cx="637.78" cy="58.98" r="1.89" fill="#fff" stroke="#1010ff" stroke-width="0.9"/>
<circle cx="637.54" cy="63.57" r="1.89" fill="#fff" stroke="#1010ff" stroke-width="0.9"/>
<circle cx="637.29" cy="68.17" r="1.89" fill="#fff" stroke="#1010ff" stroke-width="0.9"/>
<circle cx="637.05" cy="72.76" r="1.89" fill="#fff" stroke="#1010ff" stroke-width="0.9"/>
<circle cx="636.81" cy="77.36" r="1.89" fill="#fff" stroke="#1010ff" stroke-width="0.9"/>
<circle cx="636.57" cy="81.95" r="1.89" fill="#fff" stroke="#1010ff" stroke-width="0.9"/>
<circle cx="636.33" cy="86.54" r="1.89" fill="#fff" stroke="#1010ff" stroke-width="0.9"/>
<circle cx="636.09" cy="91.14" r="1.89" fill="#fff" stroke="#1010ff" stroke-width="0.9"/>
<circle cx="635.85" cy="95.73" r="1.89" fill="#fff" stroke="#1010ff" stroke-width="0.9"/>
<circle cx="635.61" cy="100.32" r="1.89" fill="#fff" stroke="#1010ff" stroke-width="0.9"/>
<circle cx="635.37" cy="104.92" r="1.89" fill="#fff" stroke="#1010ff" stroke-width="0.9"/>
<circle cx="635.12" cy="109.51" r="1.89" fill="#fff" stroke="#1010ff" stroke-width="0.9"/>
<circle cx="634.88" cy="114.11" r="1.89" fill="#fff" stroke="#1010ff" stroke-width="0.9"/>
<circle cx="634.64" cy="118.7" r="1.89" fill="#fff" stroke="#1010ff" stroke-width="0.9"/>
<circle cx="634.4" cy="123.29" r="1.89" fill="#fff" stroke="#1010ff" stroke-width="0.9"/>
<circle cx="634.16" cy="127.89" r="1.89" fill="#fff" stroke="#1010ff" stroke-width="0.9"/>
<circle cx="633.92" cy="132.48" r="1.89" fill="#fff" stroke="#1010ff" stroke-width="0.9"/>
<circle cx="633.68" cy="137.07" r="1.89" fill="#fff" stroke="#1010ff" stroke-width="0.9"/>
<circle cx="633.44" cy="141.67" r="1.89" fill="#fff" stroke="#1010ff" stroke-width="0.9"/>
<circle cx="633.2" cy="146.26" r="1.89" fill="#fff" stroke="#1010ff" stroke-width="0.9"/>
<polyline points="626,156.4 640,154.6 646.4,153 650,149.7" fill="none" stroke="#1010ff" stroke-width="3.8" stroke-linejoin="round" stroke-linecap="butt"/>
<polyline points="626,156.4 640,154.6 646.4,153 650,149.7" fill="none" stroke="#fff" stroke-opacity="0.3" stroke-width="1.14" stroke-dasharray="0.9 2.1" stroke-linejoin="round"/>
<circle cx="651.5" cy="149" r="1.89" fill="#fff" stroke="#1010ff" stroke-width="0.9"/>
<circle cx="651.74" cy="144.41" r="1.89" fill="#fff" stroke="#1010ff" stroke-width="0.9"/>
<circle cx="651.98" cy="139.81" r="1.89" fill="#fff" stroke="#1010ff" stroke-width="0.9"/>
<circle cx="652.22" cy="135.22" r="1.89" fill="#fff" stroke="#1010ff" stroke-width="0.9"/>
<circle cx="652.46" cy="130.63" r="1.89" fill="#fff" stroke="#1010ff" stroke-width="0.9"/>
<circle cx="652.71" cy="126.03" r="1.89" fill="#fff" stroke="#1010ff" stroke-width="0.9"/>
<circle cx="652.95" cy="121.44" r="1.89" fill="#fff" stroke="#1010ff" stroke-width="0.9"/>
<circle cx="653.19" cy="116.84" r="1.89" fill="#fff" stroke="#1010ff" stroke-width="0.9"/>
<circle cx="653.43" cy="112.25" r="1.89" fill="#fff" stroke="#1010ff" stroke-width="0.9"/>
<circle cx="653.67" cy="107.66" r="1.89" fill="#fff" stroke="#1010ff" stroke-width="0.9"/>
<circle cx="653.91" cy="103.06" r="1.89" fill="#fff" stroke="#1010ff" stroke-width="0.9"/>
<circle cx="654.15" cy="98.47" r="1.89" fill="#fff" stroke="#1010ff" stroke-width="0.9"/>
<circle cx="654.39" cy="93.88" r="1.89" fill="#fff" stroke="#1010ff" stroke-width="0.9"/>
<circle cx="654.63" cy="89.28" r="1.89" fill="#fff" stroke="#1010ff" stroke-width="0.9"/>
<circle cx="654.88" cy="84.69" r="1.89" fill="#fff" stroke="#1010ff" stroke-width="0.9"/>
<circle cx="655.12" cy="80.09" r="1.89" fill="#fff" stroke="#1010ff" stroke-width="0.9"/>
<circle cx="655.36" cy="75.5" r="1.89" fill="#fff" stroke="#1010ff" stroke-width="0.9"/>
<circle cx="655.6" cy="70.91" r="1.89" fill="#fff" stroke="#1010ff" stroke-width="0.9"/>
<circle cx="655.84" cy="66.31" r="1.89" fill="#fff" stroke="#1010ff" stroke-width="0.9"/>
<circle cx="656.08" cy="61.72" r="1.89" fill="#fff" stroke="#1010ff" stroke-width="0.9"/>
<circle cx="656.32" cy="57.13" r="1.89" fill="#fff" stroke="#1010ff" stroke-width="0.9"/>
<circle cx="656.56" cy="52.53" r="1.89" fill="#fff" stroke="#1010ff" stroke-width="0.9"/>
<circle cx="656.8" cy="47.94" r="1.89" fill="#fff" stroke="#1010ff" stroke-width="0.9"/>
<polyline points="643.6,50 637,140" fill="none" stroke="#f064f0" stroke-width="1.45" stroke-linejoin="round"/>
<polyline points="646.4,144.2 653,54.2" fill="none" stroke="#f064f0" stroke-width="1.45" stroke-linejoin="round"/>
<polyline points="658.2,45.4 650,46.8 645,49.5" fill="none" stroke="#ff10ff" stroke-width="3.4" stroke-linejoin="round" stroke-linecap="butt"/>
<polyline points="658.2,45.4 650,46.8 645,49.5" fill="none" stroke="#fff" stroke-opacity="0.2" stroke-width="1.02" stroke-dasharray="0.9 2.1" stroke-linejoin="round"/>
<polygon points="643.6,47.59 645.6,50 643.6,52.41 641.61,50" fill="#fff" stroke="#ff10ff" stroke-width="0.9"/>
<polygon points="643.2,53.07 645.19,55.49 643.2,57.9 641.2,55.49" fill="#fff" stroke="#ff10ff" stroke-width="0.9"/>
<polygon points="642.8,58.56 644.79,60.97 642.8,63.39 640.8,60.97" fill="#fff" stroke="#ff10ff" stroke-width="0.9"/>
<polygon points="642.39,64.04 644.39,66.46 642.39,68.87 640.4,66.46" fill="#fff" stroke="#ff10ff" stroke-width="0.9"/>
<polygon points="641.99,69.53 643.99,71.94 641.99,74.36 640,71.94" fill="#fff" stroke="#ff10ff" stroke-width="0.9"/>
<polygon points="641.59,75.01 643.58,77.43 641.59,79.84 639.59,77.43" fill="#fff" stroke="#ff10ff" stroke-width="0.9"/>
<polygon points="641.19,80.5 643.18,82.91 641.19,85.33 639.19,82.91" fill="#fff" stroke="#ff10ff" stroke-width="0.9"/>
<polygon points="640.78,85.98 642.78,88.4 640.78,90.81 638.79,88.4" fill="#fff" stroke="#ff10ff" stroke-width="0.9"/>
<polygon points="640.38,91.47 642.38,93.88 640.38,96.3 638.39,93.88" fill="#fff" stroke="#ff10ff" stroke-width="0.9"/>
<polygon points="639.98,96.95 641.97,99.37 639.98,101.78 637.98,99.37" fill="#fff" stroke="#ff10ff" stroke-width="0.9"/>
<polygon points="639.58,102.44 641.57,104.85 639.58,107.27 637.58,104.85" fill="#fff" stroke="#ff10ff" stroke-width="0.9"/>
<polygon points="639.18,107.92 641.17,110.34 639.18,112.75 637.18,110.34" fill="#fff" stroke="#ff10ff" stroke-width="0.9"/>
<polygon points="638.77,113.41 640.77,115.82 638.77,118.24 636.78,115.82" fill="#fff" stroke="#ff10ff" stroke-width="0.9"/>
<polygon points="638.37,118.89 640.37,121.31 638.37,123.72 636.38,121.31" fill="#fff" stroke="#ff10ff" stroke-width="0.9"/>
<polygon points="637.97,124.38 639.96,126.79 637.97,129.21 635.97,126.79" fill="#fff" stroke="#ff10ff" stroke-width="0.9"/>
<polygon points="637.57,129.86 639.56,132.28 637.57,134.69 635.57,132.28" fill="#fff" stroke="#ff10ff" stroke-width="0.9"/>
<polygon points="637.16,135.35 639.16,137.76 637.16,140.18 635.17,137.76" fill="#fff" stroke="#ff10ff" stroke-width="0.9"/>
<polyline points="631.8,148.8 640,147.4 645,144.7" fill="none" stroke="#ff10ff" stroke-width="3.4" stroke-linejoin="round" stroke-linecap="butt"/>
<polyline points="631.8,148.8 640,147.4 645,144.7" fill="none" stroke="#fff" stroke-opacity="0.2" stroke-width="1.02" stroke-dasharray="0.9 2.1" stroke-linejoin="round"/>
<polygon points="646.4,141.78 648.39,144.2 646.4,146.61 644.4,144.2" fill="#fff" stroke="#ff10ff" stroke-width="0.9"/>
<polygon points="646.8,136.3 648.8,138.71 646.8,141.13 644.81,138.71" fill="#fff" stroke="#ff10ff" stroke-width="0.9"/>
<polygon points="647.2,130.81 649.2,133.23 647.2,135.64 645.21,133.23" fill="#fff" stroke="#ff10ff" stroke-width="0.9"/>
<polygon points="647.61,125.33 649.6,127.74 647.61,130.16 645.61,127.74" fill="#fff" stroke="#ff10ff" stroke-width="0.9"/>
<polygon points="648.01,119.84 650,122.26 648.01,124.67 646.01,122.26" fill="#fff" stroke="#ff10ff" stroke-width="0.9"/>
<polygon points="648.41,114.36 650.41,116.77 648.41,119.19 646.42,116.77" fill="#fff" stroke="#ff10ff" stroke-width="0.9"/>
<polygon points="648.81,108.87 650.81,111.29 648.81,113.7 646.82,111.29" fill="#fff" stroke="#ff10ff" stroke-width="0.9"/>
<polygon points="649.22,103.39 651.21,105.8 649.22,108.22 647.22,105.8" fill="#fff" stroke="#ff10ff" stroke-width="0.9"/>
<polygon points="649.62,97.9 651.61,100.32 649.62,102.73 647.62,100.32" fill="#fff" stroke="#ff10ff" stroke-width="0.9"/>
<polygon points="650.02,92.42 652.02,94.83 650.02,97.25 648.03,94.83" fill="#fff" stroke="#ff10ff" stroke-width="0.9"/>
<polygon points="650.42,86.93 652.42,89.35 650.42,91.76 648.43,89.35" fill="#fff" stroke="#ff10ff" stroke-width="0.9"/>
<polygon points="650.82,81.45 652.82,83.86 650.82,86.28 648.83,83.86" fill="#fff" stroke="#ff10ff" stroke-width="0.9"/>
<polygon points="651.23,75.96 653.22,78.38 651.23,80.79 649.23,78.38" fill="#fff" stroke="#ff10ff" stroke-width="0.9"/>
<polygon points="651.63,70.48 653.62,72.89 651.63,75.31 649.63,72.89" fill="#fff" stroke="#ff10ff" stroke-width="0.9"/>
<polygon points="652.03,64.99 654.03,67.41 652.03,69.82 650.04,67.41" fill="#fff" stroke="#ff10ff" stroke-width="0.9"/>
<polygon points="652.43,59.51 654.43,61.92 652.43,64.34 650.44,61.92" fill="#fff" stroke="#ff10ff" stroke-width="0.9"/>
<polygon points="652.84,54.02 654.83,56.44 652.84,58.85 650.84,56.44" fill="#fff" stroke="#ff10ff" stroke-width="0.9"/>
<polyline points="645,66.5 642,92" fill="none" stroke="#40a840" stroke-width="1.45" stroke-linejoin="round"/>
<polyline points="645,127.7 648,102.2" fill="none" stroke="#40a840" stroke-width="1.45" stroke-linejoin="round"/>
<polyline points="651.4,63.6 645.5,66.2" fill="none" stroke="#009000" stroke-width="3.5" stroke-linejoin="round" stroke-linecap="butt"/>
<polyline points="651.4,63.6 645.5,66.2" fill="none" stroke="#fff" stroke-opacity="0.0" stroke-width="1.05" stroke-dasharray="0.9 2.1" stroke-linejoin="round"/>
<polygon points="647.31,66.5 643.42,64.4 643.42,68.6" fill="#fff" stroke="#009000" stroke-width="0.9"/>
<polygon points="646.73,71.47 642.84,69.37 642.84,73.57" fill="#fff" stroke="#009000" stroke-width="0.9"/>
<polygon points="646.14,76.43 642.26,74.33 642.26,78.53" fill="#fff" stroke="#009000" stroke-width="0.9"/>
<polygon points="645.56,81.4 641.67,79.3 641.67,83.5" fill="#fff" stroke="#009000" stroke-width="0.9"/>
<polygon points="644.97,86.36 641.09,84.26 641.09,88.46" fill="#fff" stroke="#009000" stroke-width="0.9"/>
<polygon points="644.39,91.33 640.5,89.23 640.5,93.43" fill="#fff" stroke="#009000" stroke-width="0.9"/>
<polyline points="641,91 643.5,94" fill="none" stroke="#009000" stroke-width="3" stroke-linejoin="round" stroke-linecap="butt"/>
<polyline points="641,91 643.5,94" fill="none" stroke="#fff" stroke-opacity="0.0" stroke-width="0.9" stroke-dasharray="0.9 2.1" stroke-linejoin="round"/>
<polyline points="638.6,130.6 644.5,128" fill="none" stroke="#009000" stroke-width="3.5" stroke-linejoin="round" stroke-linecap="butt"/>
<polyline points="638.6,130.6 644.5,128" fill="none" stroke="#fff" stroke-opacity="0.0" stroke-width="1.05" stroke-dasharray="0.9 2.1" stroke-linejoin="round"/>
<polygon points="647.31,127.7 643.42,125.6 643.42,129.8" fill="#fff" stroke="#009000" stroke-width="0.9"/>
<polygon points="647.89,122.73 644.01,120.63 644.01,124.83" fill="#fff" stroke="#009000" stroke-width="0.9"/>
<polygon points="648.48,117.77 644.59,115.67 644.59,119.87" fill="#fff" stroke="#009000" stroke-width="0.9"/>
<polygon points="649.06,112.8 645.18,110.7 645.18,114.9" fill="#fff" stroke="#009000" stroke-width="0.9"/>
<polygon points="649.65,107.84 645.76,105.74 645.76,109.94" fill="#fff" stroke="#009000" stroke-width="0.9"/>
<polygon points="650.23,102.87 646.35,100.77 646.35,104.97" fill="#fff" stroke="#009000" stroke-width="0.9"/>
<polyline points="649,103.2 646.5,100.2" fill="none" stroke="#009000" stroke-width="3" stroke-linejoin="round" stroke-linecap="butt"/>
<polyline points="649,103.2 646.5,100.2" fill="none" stroke="#fff" stroke-opacity="0.0" stroke-width="0.9" stroke-dasharray="0.9 2.1" stroke-linejoin="round"/>
<line x1="700.9" y1="125.9" x2="724.3" y2="125.9" stroke="#555555" stroke-width="1.3"/>
<circle cx="712.8" cy="125.9" r="1.71" fill="#fff" stroke="#000000" stroke-width="0.9"/>
<text x="750.3" y="129.8" font-size="11.5" text-anchor="end" >5 K</text>
<line x1="700.9" y1="139.3" x2="724.3" y2="139.3" stroke="#ee6464" stroke-width="1.3"/>
<polygon points="712.8,137.21 714.7,140.73 710.9,140.73" fill="#fff" stroke="#ff1010" stroke-width="0.9"/>
<text x="750.3" y="143.2" font-size="11.5" text-anchor="end" >10 K</text>
<line x1="700.9" y1="153.6" x2="724.3" y2="153.6" stroke="#6464e6" stroke-width="1.3"/>
<circle cx="712.8" cy="153.6" r="1.71" fill="#fff" stroke="#1010ff" stroke-width="0.9"/>
<text x="750.3" y="157.5" font-size="11.5" text-anchor="end" >15 K</text>
<line x1="700.9" y1="168.2" x2="724.3" y2="168.2" stroke="#f064f0" stroke-width="1.3"/>
<polygon points="712.8,166.01 714.6,168.2 712.8,170.38 711,168.2" fill="#fff" stroke="#ff10ff" stroke-width="0.9"/>
<text x="750.3" y="172.1" font-size="11.5" text-anchor="end" >20 K</text>
<line x1="700.9" y1="182" x2="724.3" y2="182" stroke="#40a840" stroke-width="1.3"/>
<polygon points="714.89,182 711.38,180.1 711.38,183.9" fill="#fff" stroke="#009000" stroke-width="0.9"/>
<text x="750.3" y="185.9" font-size="11.5" text-anchor="end" >25 K</text>
<line x1="606.2" y1="89.8" x2="606.2" y2="85.1" stroke="#000" stroke-width="1.6"/><polygon points="604,85.6 608.4,85.6 606.2,79.1" fill="#000"/>
<line x1="613.2" y1="78.2" x2="613.2" y2="88" stroke="#800080" stroke-width="2.4"/><polygon points="609.7,87.5 616.7,87.5 613.2,98.5" fill="#800080"/>
<line x1="696.4" y1="53.3" x2="696.4" y2="45.6" stroke="#000" stroke-width="1.6"/><polygon points="694.2,46.1 698.6,46.1 696.4,39.6" fill="#000"/>
<line x1="702.4" y1="59.8" x2="702.4" y2="50.1" stroke="#800080" stroke-width="2.4"/><polygon points="698.9,50.6 705.9,50.6 702.4,39.6" fill="#800080"/>
<line x1="674.8" y1="92.7" x2="674.8" y2="99.5" stroke="#000" stroke-width="1.6"/><polygon points="672.6,99 677,99 674.8,105.5" fill="#000"/>
<line x1="681.6" y1="112.3" x2="681.6" y2="103.4" stroke="#800080" stroke-width="2.4"/><polygon points="678.1,103.9 685.1,103.9 681.6,92.9" fill="#800080"/>
<line x1="582.8" y1="141.7" x2="582.8" y2="150.4" stroke="#000" stroke-width="1.6"/><polygon points="580.6,149.9 585,149.9 582.8,156.4" fill="#000"/>
<line x1="589.7" y1="135.7" x2="589.7" y2="145.9" stroke="#800080" stroke-width="2.4"/><polygon points="586.2,145.4 593.2,145.4 589.7,156.4" fill="#800080"/>
<text x="734.8" y="14.3" font-size="13.5" text-anchor="start" >(c)</text>
<text x="543.3" y="17" font-size="10.6">t<tspan dy="3.6">top</tspan><tspan dy="-3.6"> = 7 nm</tspan></text>
<polyline points="260.5,265.6 200,266.2 126.3,266.6" fill="none" stroke="#555555" stroke-width="1.45" stroke-linejoin="round"/>
<polyline points="124.3,268 122.5,369.5" fill="none" stroke="#555555" stroke-width="1.45" stroke-linejoin="round"/>
<polyline points="122.5,369.9 92.3,369.9" fill="none" stroke="#555555" stroke-width="1.45" stroke-linejoin="round"/>
<polyline points="92.3,370 89.4,375.7 87.5,402" fill="none" stroke="#555555" stroke-width="1.45" stroke-linejoin="round"/>
<polyline points="87.5,402 39.5,403.5" fill="none" stroke="#555555" stroke-width="1.45" stroke-linejoin="round"/>
<polyline points="39.1,403.4 99.6,402.8 173.3,402.4" fill="none" stroke="#555555" stroke-width="1.45" stroke-linejoin="round"/>
<polyline points="175.3,401 177.1,299.5" fill="none" stroke="#555555" stroke-width="1.45" stroke-linejoin="round"/>
<polyline points="177.1,299.1 207.3,299.1" fill="none" stroke="#555555" stroke-width="1.45" stroke-linejoin="round"/>
<polyline points="207.3,299 210.2,293.3 212.1,267" fill="none" stroke="#555555" stroke-width="1.45" stroke-linejoin="round"/>
<polyline points="212.1,267 260.1,265.5" fill="none" stroke="#555555" stroke-width="1.45" stroke-linejoin="round"/>
<rect x="258.46" y="263.56" width="4.08" height="4.08" fill="#fff" stroke="#000000" stroke-width="0.9"/>
<rect x="255.46" y="263.59" width="4.08" height="4.08" fill="#fff" stroke="#000000" stroke-width="0.9"/>
<rect x="252.46" y="263.62" width="4.08" height="4.08" fill="#fff" stroke="#000000" stroke-width="0.9"/>
<rect x="249.46" y="263.65" width="4.08" height="4.08" fill="#fff" stroke="#000000" stroke-width="0.9"/>
<rect x="246.46" y="263.68" width="4.08" height="4.08" fill="#fff" stroke="#000000" stroke-width="0.9"/>
<rect x="243.46" y="263.71" width="4.08" height="4.08" fill="#fff" stroke="#000000" stroke-width="0.9"/>
<rect x="240.46" y="263.74" width="4.08" height="4.08" fill="#fff" stroke="#000000" stroke-width="0.9"/>
<rect x="237.46" y="263.77" width="4.08" height="4.08" fill="#fff" stroke="#000000" stroke-width="0.9"/>
<rect x="234.46" y="263.8" width="4.08" height="4.08" fill="#fff" stroke="#000000" stroke-width="0.9"/>
<rect x="231.46" y="263.83" width="4.08" height="4.08" fill="#fff" stroke="#000000" stroke-width="0.9"/>
<rect x="228.46" y="263.86" width="4.08" height="4.08" fill="#fff" stroke="#000000" stroke-width="0.9"/>
<rect x="225.46" y="263.89" width="4.08" height="4.08" fill="#fff" stroke="#000000" stroke-width="0.9"/>
<rect x="222.46" y="263.92" width="4.08" height="4.08" fill="#fff" stroke="#000000" stroke-width="0.9"/>
<rect x="219.46" y="263.95" width="4.08" height="4.08" fill="#fff" stroke="#000000" stroke-width="0.9"/>
<rect x="216.46" y="263.98" width="4.08" height="4.08" fill="#fff" stroke="#000000" stroke-width="0.9"/>
<rect x="213.46" y="264.01" width="4.08" height="4.08" fill="#fff" stroke="#000000" stroke-width="0.9"/>
<rect x="210.46" y="264.04" width="4.08" height="4.08" fill="#fff" stroke="#000000" stroke-width="0.9"/>
<rect x="207.46" y="264.07" width="4.08" height="4.08" fill="#fff" stroke="#000000" stroke-width="0.9"/>
<rect x="204.46" y="264.1" width="4.08" height="4.08" fill="#fff" stroke="#000000" stroke-width="0.9"/>
<rect x="201.46" y="264.13" width="4.08" height="4.08" fill="#fff" stroke="#000000" stroke-width="0.9"/>
<rect x="198.46" y="264.16" width="4.08" height="4.08" fill="#fff" stroke="#000000" stroke-width="0.9"/>
<rect x="195.46" y="264.17" width="4.08" height="4.08" fill="#fff" stroke="#000000" stroke-width="0.9"/>
<rect x="192.46" y="264.19" width="4.08" height="4.08" fill="#fff" stroke="#000000" stroke-width="0.9"/>
<rect x="189.46" y="264.21" width="4.08" height="4.08" fill="#fff" stroke="#000000" stroke-width="0.9"/>
<rect x="186.46" y="264.22" width="4.08" height="4.08" fill="#fff" stroke="#000000" stroke-width="0.9"/>
<rect x="183.46" y="264.24" width="4.08" height="4.08" fill="#fff" stroke="#000000" stroke-width="0.9"/>
<rect x="180.46" y="264.25" width="4.08" height="4.08" fill="#fff" stroke="#000000" stroke-width="0.9"/>
<rect x="177.46" y="264.27" width="4.08" height="4.08" fill="#fff" stroke="#000000" stroke-width="0.9"/>
<rect x="174.46" y="264.29" width="4.08" height="4.08" fill="#fff" stroke="#000000" stroke-width="0.9"/>
<rect x="171.46" y="264.3" width="4.08" height="4.08" fill="#fff" stroke="#000000" stroke-width="0.9"/>
<rect x="168.46" y="264.32" width="4.08" height="4.08" fill="#fff" stroke="#000000" stroke-width="0.9"/>
<rect x="165.46" y="264.34" width="4.08" height="4.08" fill="#fff" stroke="#000000" stroke-width="0.9"/>
<rect x="162.46" y="264.35" width="4.08" height="4.08" fill="#fff" stroke="#000000" stroke-width="0.9"/>
<rect x="159.46" y="264.37" width="4.08" height="4.08" fill="#fff" stroke="#000000" stroke-width="0.9"/>
<rect x="156.46" y="264.39" width="4.08" height="4.08" fill="#fff" stroke="#000000" stroke-width="0.9"/>
<rect x="153.46" y="264.4" width="4.08" height="4.08" fill="#fff" stroke="#000000" stroke-width="0.9"/>
<rect x="150.46" y="264.42" width="4.08" height="4.08" fill="#fff" stroke="#000000" stroke-width="0.9"/>
<rect x="147.46" y="264.43" width="4.08" height="4.08" fill="#fff" stroke="#000000" stroke-width="0.9"/>
<rect x="144.46" y="264.45" width="4.08" height="4.08" fill="#fff" stroke="#000000" stroke-width="0.9"/>
<rect x="141.46" y="264.47" width="4.08" height="4.08" fill="#fff" stroke="#000000" stroke-width="0.9"/>
<rect x="138.46" y="264.48" width="4.08" height="4.08" fill="#fff" stroke="#000000" stroke-width="0.9"/>
<rect x="135.46" y="264.5" width="4.08" height="4.08" fill="#fff" stroke="#000000" stroke-width="0.9"/>
<rect x="132.46" y="264.52" width="4.08" height="4.08" fill="#fff" stroke="#000000" stroke-width="0.9"/>
<rect x="129.46" y="264.53" width="4.08" height="4.08" fill="#fff" stroke="#000000" stroke-width="0.9"/>
<rect x="126.46" y="264.55" width="4.08" height="4.08" fill="#fff" stroke="#000000" stroke-width="0.9"/>
<rect x="120.46" y="367.86" width="4.08" height="4.08" fill="#fff" stroke="#000000" stroke-width="0.9"/>
<rect x="117.46" y="367.86" width="4.08" height="4.08" fill="#fff" stroke="#000000" stroke-width="0.9"/>
<rect x="114.46" y="367.86" width="4.08" height="4.08" fill="#fff" stroke="#000000" stroke-width="0.9"/>
<rect x="111.46" y="367.86" width="4.08" height="4.08" fill="#fff" stroke="#000000" stroke-width="0.9"/>
<rect x="108.46" y="367.86" width="4.08" height="4.08" fill="#fff" stroke="#000000" stroke-width="0.9"/>
<rect x="105.46" y="367.86" width="4.08" height="4.08" fill="#fff" stroke="#000000" stroke-width="0.9"/>
<rect x="102.46" y="367.86" width="4.08" height="4.08" fill="#fff" stroke="#000000" stroke-width="0.9"/>
<rect x="99.46" y="367.86" width="4.08" height="4.08" fill="#fff" stroke="#000000" stroke-width="0.9"/>
<rect x="96.46" y="367.86" width="4.08" height="4.08" fill="#fff" stroke="#000000" stroke-width="0.9"/>
<rect x="93.46" y="367.86" width="4.08" height="4.08" fill="#fff" stroke="#000000" stroke-width="0.9"/>
<rect x="90.46" y="367.86" width="4.08" height="4.08" fill="#fff" stroke="#000000" stroke-width="0.9"/>
<rect x="85.46" y="399.96" width="4.08" height="4.08" fill="#fff" stroke="#000000" stroke-width="0.9"/>
<rect x="82.46" y="400.05" width="4.08" height="4.08" fill="#fff" stroke="#000000" stroke-width="0.9"/>
<rect x="79.46" y="400.15" width="4.08" height="4.08" fill="#fff" stroke="#000000" stroke-width="0.9"/>
<rect x="76.46" y="400.24" width="4.08" height="4.08" fill="#fff" stroke="#000000" stroke-width="0.9"/>
<rect x="73.47" y="400.33" width="4.08" height="4.08" fill="#fff" stroke="#000000" stroke-width="0.9"/>
<rect x="70.47" y="400.43" width="4.08" height="4.08" fill="#fff" stroke="#000000" stroke-width="0.9"/>
<rect x="67.47" y="400.52" width="4.08" height="4.08" fill="#fff" stroke="#000000" stroke-width="0.9"/>
<rect x="64.47" y="400.62" width="4.08" height="4.08" fill="#fff" stroke="#000000" stroke-width="0.9"/>
<rect x="61.47" y="400.71" width="4.08" height="4.08" fill="#fff" stroke="#000000" stroke-width="0.9"/>
<rect x="58.47" y="400.8" width="4.08" height="4.08" fill="#fff" stroke="#000000" stroke-width="0.9"/>
<rect x="55.47" y="400.9" width="4.08" height="4.08" fill="#fff" stroke="#000000" stroke-width="0.9"/>
<rect x="52.48" y="400.99" width="4.08" height="4.08" fill="#fff" stroke="#000000" stroke-width="0.9"/>
<rect x="49.48" y="401.08" width="4.08" height="4.08" fill="#fff" stroke="#000000" stroke-width="0.9"/>
<rect x="46.48" y="401.18" width="4.08" height="4.08" fill="#fff" stroke="#000000" stroke-width="0.9"/>
<rect x="43.48" y="401.27" width="4.08" height="4.08" fill="#fff" stroke="#000000" stroke-width="0.9"/>
<rect x="40.48" y="401.37" width="4.08" height="4.08" fill="#fff" stroke="#000000" stroke-width="0.9"/>
<rect x="37.48" y="401.46" width="4.08" height="4.08" fill="#fff" stroke="#000000" stroke-width="0.9"/>
<rect x="37.06" y="401.36" width="4.08" height="4.08" fill="#fff" stroke="#000000" stroke-width="0.9"/>
<rect x="40.06" y="401.33" width="4.08" height="4.08" fill="#fff" stroke="#000000" stroke-width="0.9"/>
<rect x="43.06" y="401.3" width="4.08" height="4.08" fill="#fff" stroke="#000000" stroke-width="0.9"/>
<rect x="46.06" y="401.27" width="4.08" height="4.08" fill="#fff" stroke="#000000" stroke-width="0.9"/>
<rect x="49.06" y="401.24" width="4.08" height="4.08" fill="#fff" stroke="#000000" stroke-width="0.9"/>
<rect x="52.06" y="401.21" width="4.08" height="4.08" fill="#fff" stroke="#000000" stroke-width="0.9"/>
<rect x="55.06" y="401.18" width="4.08" height="4.08" fill="#fff" stroke="#000000" stroke-width="0.9"/>
<rect x="58.06" y="401.15" width="4.08" height="4.08" fill="#fff" stroke="#000000" stroke-width="0.9"/>
<rect x="61.06" y="401.12" width="4.08" height="4.08" fill="#fff" stroke="#000000" stroke-width="0.9"/>
<rect x="64.06" y="401.09" width="4.08" height="4.08" fill="#fff" stroke="#000000" stroke-width="0.9"/>
<rect x="67.06" y="401.06" width="4.08" height="4.08" fill="#fff" stroke="#000000" stroke-width="0.9"/>
<rect x="70.06" y="401.03" width="4.08" height="4.08" fill="#fff" stroke="#000000" stroke-width="0.9"/>
<rect x="73.06" y="401" width="4.08" height="4.08" fill="#fff" stroke="#000000" stroke-width="0.9"/>
<rect x="76.06" y="400.97" width="4.08" height="4.08" fill="#fff" stroke="#000000" stroke-width="0.9"/>
<rect x="79.06" y="400.94" width="4.08" height="4.08" fill="#fff" stroke="#000000" stroke-width="0.9"/>
<rect x="82.06" y="400.91" width="4.08" height="4.08" fill="#fff" stroke="#000000" stroke-width="0.9"/>
<rect x="85.06" y="400.88" width="4.08" height="4.08" fill="#fff" stroke="#000000" stroke-width="0.9"/>
<rect x="88.06" y="400.85" width="4.08" height="4.08" fill="#fff" stroke="#000000" stroke-width="0.9"/>
<rect x="91.06" y="400.82" width="4.08" height="4.08" fill="#fff" stroke="#000000" stroke-width="0.9"/>
<rect x="94.06" y="400.79" width="4.08" height="4.08" fill="#fff" stroke="#000000" stroke-width="0.9"/>
<rect x="97.06" y="400.76" width="4.08" height="4.08" fill="#fff" stroke="#000000" stroke-width="0.9"/>
<rect x="100.06" y="400.75" width="4.08" height="4.08" fill="#fff" stroke="#000000" stroke-width="0.9"/>
<rect x="103.06" y="400.73" width="4.08" height="4.08" fill="#fff" stroke="#000000" stroke-width="0.9"/>
<rect x="106.06" y="400.71" width="4.08" height="4.08" fill="#fff" stroke="#000000" stroke-width="0.9"/>
<rect x="109.06" y="400.7" width="4.08" height="4.08" fill="#fff" stroke="#000000" stroke-width="0.9"/>
<rect x="112.06" y="400.68" width="4.08" height="4.08" fill="#fff" stroke="#000000" stroke-width="0.9"/>
<rect x="115.06" y="400.67" width="4.08" height="4.08" fill="#fff" stroke="#000000" stroke-width="0.9"/>
<rect x="118.06" y="400.65" width="4.08" height="4.08" fill="#fff" stroke="#000000" stroke-width="0.9"/>
<rect x="121.06" y="400.63" width="4.08" height="4.08" fill="#fff" stroke="#000000" stroke-width="0.9"/>
<rect x="124.06" y="400.62" width="4.08" height="4.08" fill="#fff" stroke="#000000" stroke-width="0.9"/>
<rect x="127.06" y="400.6" width="4.08" height="4.08" fill="#fff" stroke="#000000" stroke-width="0.9"/>
<rect x="130.06" y="400.58" width="4.08" height="4.08" fill="#fff" stroke="#000000" stroke-width="0.9"/>
<rect x="133.06" y="400.57" width="4.08" height="4.08" fill="#fff" stroke="#000000" stroke-width="0.9"/>
<rect x="136.06" y="400.55" width="4.08" height="4.08" fill="#fff" stroke="#000000" stroke-width="0.9"/>
<rect x="139.06" y="400.53" width="4.08" height="4.08" fill="#fff" stroke="#000000" stroke-width="0.9"/>
<rect x="142.06" y="400.52" width="4.08" height="4.08" fill="#fff" stroke="#000000" stroke-width="0.9"/>
<rect x="145.06" y="400.5" width="4.08" height="4.08" fill="#fff" stroke="#000000" stroke-width="0.9"/>
<rect x="148.06" y="400.49" width="4.08" height="4.08" fill="#fff" stroke="#000000" stroke-width="0.9"/>
<rect x="151.06" y="400.47" width="4.08" height="4.08" fill="#fff" stroke="#000000" stroke-width="0.9"/>
<rect x="154.06" y="400.45" width="4.08" height="4.08" fill="#fff" stroke="#000000" stroke-width="0.9"/>
<rect x="157.06" y="400.44" width="4.08" height="4.08" fill="#fff" stroke="#000000" stroke-width="0.9"/>
<rect x="160.06" y="400.42" width="4.08" height="4.08" fill="#fff" stroke="#000000" stroke-width="0.9"/>
<rect x="163.06" y="400.4" width="4.08" height="4.08" fill="#fff" stroke="#000000" stroke-width="0.9"/>
<rect x="166.06" y="400.39" width="4.08" height="4.08" fill="#fff" stroke="#000000" stroke-width="0.9"/>
<rect x="169.06" y="400.37" width="4.08" height="4.08" fill="#fff" stroke="#000000" stroke-width="0.9"/>
<rect x="175.06" y="297.06" width="4.08" height="4.08" fill="#fff" stroke="#000000" stroke-width="0.9"/>
<rect x="178.06" y="297.06" width="4.08" height="4.08" fill="#fff" stroke="#000000" stroke-width="0.9"/>
<rect x="181.06" y="297.06" width="4.08" height="4.08" fill="#fff" stroke="#000000" stroke-width="0.9"/>
<rect x="184.06" y="297.06" width="4.08" height="4.08" fill="#fff" stroke="#000000" stroke-width="0.9"/>
<rect x="187.06" y="297.06" width="4.08" height="4.08" fill="#fff" stroke="#000000" stroke-width="0.9"/>
<rect x="190.06" y="297.06" width="4.08" height="4.08" fill="#fff" stroke="#000000" stroke-width="0.9"/>
<rect x="193.06" y="297.06" width="4.08" height="4.08" fill="#fff" stroke="#000000" stroke-width="0.9"/>
<rect x="196.06" y="297.06" width="4.08" height="4.08" fill="#fff" stroke="#000000" stroke-width="0.9"/>
<rect x="199.06" y="297.06" width="4.08" height="4.08" fill="#fff" stroke="#000000" stroke-width="0.9"/>
<rect x="202.06" y="297.06" width="4.08" height="4.08" fill="#fff" stroke="#000000" stroke-width="0.9"/>
<rect x="205.06" y="297.06" width="4.08" height="4.08" fill="#fff" stroke="#000000" stroke-width="0.9"/>
<rect x="210.06" y="264.96" width="4.08" height="4.08" fill="#fff" stroke="#000000" stroke-width="0.9"/>
<rect x="213.06" y="264.87" width="4.08" height="4.08" fill="#fff" stroke="#000000" stroke-width="0.9"/>
<rect x="216.06" y="264.77" width="4.08" height="4.08" fill="#fff" stroke="#000000" stroke-width="0.9"/>
<rect x="219.06" y="264.68" width="4.08" height="4.08" fill="#fff" stroke="#000000" stroke-width="0.9"/>
<rect x="222.05" y="264.59" width="4.08" height="4.08" fill="#fff" stroke="#000000" stroke-width="0.9"/>
<rect x="225.05" y="264.49" width="4.08" height="4.08" fill="#fff" stroke="#000000" stroke-width="0.9"/>
<rect x="228.05" y="264.4" width="4.08" height="4.08" fill="#fff" stroke="#000000" stroke-width="0.9"/>
<rect x="231.05" y="264.3" width="4.08" height="4.08" fill="#fff" stroke="#000000" stroke-width="0.9"/>
<rect x="234.05" y="264.21" width="4.08" height="4.08" fill="#fff" stroke="#000000" stroke-width="0.9"/>
<rect x="237.05" y="264.12" width="4.08" height="4.08" fill="#fff" stroke="#000000" stroke-width="0.9"/>
<rect x="240.05" y="264.02" width="4.08" height="4.08" fill="#fff" stroke="#000000" stroke-width="0.9"/>
<rect x="243.04" y="263.93" width="4.08" height="4.08" fill="#fff" stroke="#000000" stroke-width="0.9"/>
<rect x="246.04" y="263.84" width="4.08" height="4.08" fill="#fff" stroke="#000000" stroke-width="0.9"/>
<rect x="249.04" y="263.74" width="4.08" height="4.08" fill="#fff" stroke="#000000" stroke-width="0.9"/>
<rect x="252.04" y="263.65" width="4.08" height="4.08" fill="#fff" stroke="#000000" stroke-width="0.9"/>
<rect x="255.04" y="263.55" width="4.08" height="4.08" fill="#fff" stroke="#000000" stroke-width="0.9"/>
<rect x="258.04" y="263.46" width="4.08" height="4.08" fill="#fff" stroke="#000000" stroke-width="0.9"/>
<rect x="122.76" y="267.46" width="4.08" height="4.08" fill="#fff" stroke="#000000" stroke-width="0.9"/>
<rect x="88.76" y="373.66" width="4.08" height="4.08" fill="#fff" stroke="#000000" stroke-width="0.9"/>
<rect x="172.76" y="397.46" width="4.08" height="4.08" fill="#fff" stroke="#000000" stroke-width="0.9"/>
<rect x="206.76" y="291.26" width="4.08" height="4.08" fill="#fff" stroke="#000000" stroke-width="0.9"/>
<polyline points="260.5,271.8 133.5,272.2" fill="none" stroke="#ee6464" stroke-width="1.45" stroke-linejoin="round"/>
<polyline points="133.5,272.2 132,366" fill="none" stroke="#ee6464" stroke-width="1.45" stroke-linejoin="round"/>
<polyline points="132,366.4 104,366.4" fill="none" stroke="#ee6464" stroke-width="1.45" stroke-linejoin="round"/>
<polyline points="104,368 100,393 99,397.4" fill="none" stroke="#ee6464" stroke-width="1.45" stroke-linejoin="round"/>
<polyline points="99,397.4 39.5,397.6" fill="none" stroke="#ee6464" stroke-width="1.45" stroke-linejoin="round"/>
<polyline points="39.1,397.2 166.1,396.8" fill="none" stroke="#ee6464" stroke-width="1.45" stroke-linejoin="round"/>
<polyline points="166.1,396.8 167.6,303" fill="none" stroke="#ee6464" stroke-width="1.45" stroke-linejoin="round"/>
<polyline points="167.6,302.6 195.6,302.6" fill="none" stroke="#ee6464" stroke-width="1.45" stroke-linejoin="round"/>
<polyline points="195.6,301 199.6,276 200.6,271.6" fill="none" stroke="#ee6464" stroke-width="1.45" stroke-linejoin="round"/>
<polyline points="200.6,271.6 260.1,271.4" fill="none" stroke="#ee6464" stroke-width="1.45" stroke-linejoin="round"/>
<circle cx="260.5" cy="271.8" r="2.25" fill="#fff" stroke="#ff1010" stroke-width="0.9"/>
<circle cx="257.5" cy="271.81" r="2.25" fill="#fff" stroke="#ff1010" stroke-width="0.9"/>
<circle cx="254.5" cy="271.82" r="2.25" fill="#fff" stroke="#ff1010" stroke-width="0.9"/>
<circle cx="251.5" cy="271.83" r="2.25" fill="#fff" stroke="#ff1010" stroke-width="0.9"/>
<circle cx="248.5" cy="271.84" r="2.25" fill="#fff" stroke="#ff1010" stroke-width="0.9"/>
<circle cx="245.5" cy="271.85" r="2.25" fill="#fff" stroke="#ff1010" stroke-width="0.9"/>
<circle cx="242.5" cy="271.86" r="2.25" fill="#fff" stroke="#ff1010" stroke-width="0.9"/>
<circle cx="239.5" cy="271.87" r="2.25" fill="#fff" stroke="#ff1010" stroke-width="0.9"/>
<circle cx="236.5" cy="271.88" r="2.25" fill="#fff" stroke="#ff1010" stroke-width="0.9"/>
<circle cx="233.5" cy="271.89" r="2.25" fill="#fff" stroke="#ff1010" stroke-width="0.9"/>
<circle cx="230.5" cy="271.89" r="2.25" fill="#fff" stroke="#ff1010" stroke-width="0.9"/>
<circle cx="227.5" cy="271.9" r="2.25" fill="#fff" stroke="#ff1010" stroke-width="0.9"/>
<circle cx="224.5" cy="271.91" r="2.25" fill="#fff" stroke="#ff1010" stroke-width="0.9"/>
<circle cx="221.5" cy="271.92" r="2.25" fill="#fff" stroke="#ff1010" stroke-width="0.9"/>
<circle cx="218.5" cy="271.93" r="2.25" fill="#fff" stroke="#ff1010" stroke-width="0.9"/>
<circle cx="215.5" cy="271.94" r="2.25" fill="#fff" stroke="#ff1010" stroke-width="0.9"/>
<circle cx="212.5" cy="271.95" r="2.25" fill="#fff" stroke="#ff1010" stroke-width="0.9"/>
<circle cx="209.5" cy="271.96" r="2.25" fill="#fff" stroke="#ff1010" stroke-width="0.9"/>
<circle cx="206.5" cy="271.97" r="2.25" fill="#fff" stroke="#ff1010" stroke-width="0.9"/>
<circle cx="203.5" cy="271.98" r="2.25" fill="#fff" stroke="#ff1010" stroke-width="0.9"/>
<circle cx="200.5" cy="271.99" r="2.25" fill="#fff" stroke="#ff1010" stroke-width="0.9"/>
<circle cx="197.5" cy="272" r="2.25" fill="#fff" stroke="#ff1010" stroke-width="0.9"/>
<circle cx="194.5" cy="272.01" r="2.25" fill="#fff" stroke="#ff1010" stroke-width="0.9"/>
<circle cx="191.5" cy="272.02" r="2.25" fill="#fff" stroke="#ff1010" stroke-width="0.9"/>
<circle cx="188.5" cy="272.03" r="2.25" fill="#fff" stroke="#ff1010" stroke-width="0.9"/>
<circle cx="185.5" cy="272.04" r="2.25" fill="#fff" stroke="#ff1010" stroke-width="0.9"/>
<circle cx="182.5" cy="272.05" r="2.25" fill="#fff" stroke="#ff1010" stroke-width="0.9"/>
<circle cx="179.5" cy="272.06" r="2.25" fill="#fff" stroke="#ff1010" stroke-width="0.9"/>
<circle cx="176.5" cy="272.06" r="2.25" fill="#fff" stroke="#ff1010" stroke-width="0.9"/>
<circle cx="173.5" cy="272.07" r="2.25" fill="#fff" stroke="#ff1010" stroke-width="0.9"/>
<circle cx="170.5" cy="272.08" r="2.25" fill="#fff" stroke="#ff1010" stroke-width="0.9"/>
<circle cx="167.5" cy="272.09" r="2.25" fill="#fff" stroke="#ff1010" stroke-width="0.9"/>
<circle cx="164.5" cy="272.1" r="2.25" fill="#fff" stroke="#ff1010" stroke-width="0.9"/>
<circle cx="161.5" cy="272.11" r="2.25" fill="#fff" stroke="#ff1010" stroke-width="0.9"/>
<circle cx="158.5" cy="272.12" r="2.25" fill="#fff" stroke="#ff1010" stroke-width="0.9"/>
<circle cx="155.5" cy="272.13" r="2.25" fill="#fff" stroke="#ff1010" stroke-width="0.9"/>
<circle cx="152.5" cy="272.14" r="2.25" fill="#fff" stroke="#ff1010" stroke-width="0.9"/>
<circle cx="149.5" cy="272.15" r="2.25" fill="#fff" stroke="#ff1010" stroke-width="0.9"/>
<circle cx="146.5" cy="272.16" r="2.25" fill="#fff" stroke="#ff1010" stroke-width="0.9"/>
<circle cx="143.5" cy="272.17" r="2.25" fill="#fff" stroke="#ff1010" stroke-width="0.9"/>
<circle cx="140.5" cy="272.18" r="2.25" fill="#fff" stroke="#ff1010" stroke-width="0.9"/>
<circle cx="137.5" cy="272.19" r="2.25" fill="#fff" stroke="#ff1010" stroke-width="0.9"/>
<circle cx="134.5" cy="272.2" r="2.25" fill="#fff" stroke="#ff1010" stroke-width="0.9"/>
<circle cx="132" cy="366.4" r="2.25" fill="#fff" stroke="#ff1010" stroke-width="0.9"/>
<circle cx="129" cy="366.4" r="2.25" fill="#fff" stroke="#ff1010" stroke-width="0.9"/>
<circle cx="126" cy="366.4" r="2.25" fill="#fff" stroke="#ff1010" stroke-width="0.9"/>
<circle cx="123" cy="366.4" r="2.25" fill="#fff" stroke="#ff1010" stroke-width="0.9"/>
<circle cx="120" cy="366.4" r="2.25" fill="#fff" stroke="#ff1010" stroke-width="0.9"/>
<circle cx="117" cy="366.4" r="2.25" fill="#fff" stroke="#ff1010" stroke-width="0.9"/>
<circle cx="114" cy="366.4" r="2.25" fill="#fff" stroke="#ff1010" stroke-width="0.9"/>
<circle cx="111" cy="366.4" r="2.25" fill="#fff" stroke="#ff1010" stroke-width="0.9"/>
<circle cx="108" cy="366.4" r="2.25" fill="#fff" stroke="#ff1010" stroke-width="0.9"/>
<circle cx="105" cy="366.4" r="2.25" fill="#fff" stroke="#ff1010" stroke-width="0.9"/>
<circle cx="99" cy="397.4" r="2.25" fill="#fff" stroke="#ff1010" stroke-width="0.9"/>
<circle cx="96" cy="397.41" r="2.25" fill="#fff" stroke="#ff1010" stroke-width="0.9"/>
<circle cx="93" cy="397.42" r="2.25" fill="#fff" stroke="#ff1010" stroke-width="0.9"/>
<circle cx="90" cy="397.43" r="2.25" fill="#fff" stroke="#ff1010" stroke-width="0.9"/>
<circle cx="87" cy="397.44" r="2.25" fill="#fff" stroke="#ff1010" stroke-width="0.9"/>
<circle cx="84" cy="397.45" r="2.25" fill="#fff" stroke="#ff1010" stroke-width="0.9"/>
<circle cx="81" cy="397.46" r="2.25" fill="#fff" stroke="#ff1010" stroke-width="0.9"/>
<circle cx="78" cy="397.47" r="2.25" fill="#fff" stroke="#ff1010" stroke-width="0.9"/>
<circle cx="75" cy="397.48" r="2.25" fill="#fff" stroke="#ff1010" stroke-width="0.9"/>
<circle cx="72" cy="397.49" r="2.25" fill="#fff" stroke="#ff1010" stroke-width="0.9"/>
<circle cx="69" cy="397.5" r="2.25" fill="#fff" stroke="#ff1010" stroke-width="0.9"/>
<circle cx="66" cy="397.51" r="2.25" fill="#fff" stroke="#ff1010" stroke-width="0.9"/>
<circle cx="63" cy="397.52" r="2.25" fill="#fff" stroke="#ff1010" stroke-width="0.9"/>
<circle cx="60" cy="397.53" r="2.25" fill="#fff" stroke="#ff1010" stroke-width="0.9"/>
<circle cx="57" cy="397.54" r="2.25" fill="#fff" stroke="#ff1010" stroke-width="0.9"/>
<circle cx="54" cy="397.55" r="2.25" fill="#fff" stroke="#ff1010" stroke-width="0.9"/>
<circle cx="51" cy="397.56" r="2.25" fill="#fff" stroke="#ff1010" stroke-width="0.9"/>
<circle cx="48" cy="397.57" r="2.25" fill="#fff" stroke="#ff1010" stroke-width="0.9"/>
<circle cx="45" cy="397.58" r="2.25" fill="#fff" stroke="#ff1010" stroke-width="0.9"/>
<circle cx="42" cy="397.59" r="2.25" fill="#fff" stroke="#ff1010" stroke-width="0.9"/>
<circle cx="39.1" cy="397.2" r="2.25" fill="#fff" stroke="#ff1010" stroke-width="0.9"/>
<circle cx="42.1" cy="397.19" r="2.25" fill="#fff" stroke="#ff1010" stroke-width="0.9"/>
<circle cx="45.1" cy="397.18" r="2.25" fill="#fff" stroke="#ff1010" stroke-width="0.9"/>
<circle cx="48.1" cy="397.17" r="2.25" fill="#fff" stroke="#ff1010" stroke-width="0.9"/>
<circle cx="51.1" cy="397.16" r="2.25" fill="#fff" stroke="#ff1010" stroke-width="0.9"/>
<circle cx="54.1" cy="397.15" r="2.25" fill="#fff" stroke="#ff1010" stroke-width="0.9"/>
<circle cx="57.1" cy="397.14" r="2.25" fill="#fff" stroke="#ff1010" stroke-width="0.9"/>
<circle cx="60.1" cy="397.13" r="2.25" fill="#fff" stroke="#ff1010" stroke-width="0.9"/>
<circle cx="63.1" cy="397.12" r="2.25" fill="#fff" stroke="#ff1010" stroke-width="0.9"/>
<circle cx="66.1" cy="397.11" r="2.25" fill="#fff" stroke="#ff1010" stroke-width="0.9"/>
<circle cx="69.1" cy="397.11" r="2.25" fill="#fff" stroke="#ff1010" stroke-width="0.9"/>
<circle cx="72.1" cy="397.1" r="2.25" fill="#fff" stroke="#ff1010" stroke-width="0.9"/>
<circle cx="75.1" cy="397.09" r="2.25" fill="#fff" stroke="#ff1010" stroke-width="0.9"/>
<circle cx="78.1" cy="397.08" r="2.25" fill="#fff" stroke="#ff1010" stroke-width="0.9"/>
<circle cx="81.1" cy="397.07" r="2.25" fill="#fff" stroke="#ff1010" stroke-width="0.9"/>
<circle cx="84.1" cy="397.06" r="2.25" fill="#fff" stroke="#ff1010" stroke-width="0.9"/>
<circle cx="87.1" cy="397.05" r="2.25" fill="#fff" stroke="#ff1010" stroke-width="0.9"/>
<circle cx="90.1" cy="397.04" r="2.25" fill="#fff" stroke="#ff1010" stroke-width="0.9"/>
<circle cx="93.1" cy="397.03" r="2.25" fill="#fff" stroke="#ff1010" stroke-width="0.9"/>
<circle cx="96.1" cy="397.02" r="2.25" fill="#fff" stroke="#ff1010" stroke-width="0.9"/>
<circle cx="99.1" cy="397.01" r="2.25" fill="#fff" stroke="#ff1010" stroke-width="0.9"/>
<circle cx="102.1" cy="397" r="2.25" fill="#fff" stroke="#ff1010" stroke-width="0.9"/>
<circle cx="105.1" cy="396.99" r="2.25" fill="#fff" stroke="#ff1010" stroke-width="0.9"/>
<circle cx="108.1" cy="396.98" r="2.25" fill="#fff" stroke="#ff1010" stroke-width="0.9"/>
<circle cx="111.1" cy="396.97" r="2.25" fill="#fff" stroke="#ff1010" stroke-width="0.9"/>
<circle cx="114.1" cy="396.96" r="2.25" fill="#fff" stroke="#ff1010" stroke-width="0.9"/>
<circle cx="117.1" cy="396.95" r="2.25" fill="#fff" stroke="#ff1010" stroke-width="0.9"/>
<circle cx="120.1" cy="396.94" r="2.25" fill="#fff" stroke="#ff1010" stroke-width="0.9"/>
<circle cx="123.1" cy="396.94" r="2.25" fill="#fff" stroke="#ff1010" stroke-width="0.9"/>
<circle cx="126.1" cy="396.93" r="2.25" fill="#fff" stroke="#ff1010" stroke-width="0.9"/>
<circle cx="129.1" cy="396.92" r="2.25" fill="#fff" stroke="#ff1010" stroke-width="0.9"/>
<circle cx="132.1" cy="396.91" r="2.25" fill="#fff" stroke="#ff1010" stroke-width="0.9"/>
<circle cx="135.1" cy="396.9" r="2.25" fill="#fff" stroke="#ff1010" stroke-width="0.9"/>
<circle cx="138.1" cy="396.89" r="2.25" fill="#fff" stroke="#ff1010" stroke-width="0.9"/>
<circle cx="141.1" cy="396.88" r="2.25" fill="#fff" stroke="#ff1010" stroke-width="0.9"/>
<circle cx="144.1" cy="396.87" r="2.25" fill="#fff" stroke="#ff1010" stroke-width="0.9"/>
<circle cx="147.1" cy="396.86" r="2.25" fill="#fff" stroke="#ff1010" stroke-width="0.9"/>
<circle cx="150.1" cy="396.85" r="2.25" fill="#fff" stroke="#ff1010" stroke-width="0.9"/>
<circle cx="153.1" cy="396.84" r="2.25" fill="#fff" stroke="#ff1010" stroke-width="0.9"/>
<circle cx="156.1" cy="396.83" r="2.25" fill="#fff" stroke="#ff1010" stroke-width="0.9"/>
<circle cx="159.1" cy="396.82" r="2.25" fill="#fff" stroke="#ff1010" stroke-width="0.9"/>
<circle cx="162.1" cy="396.81" r="2.25" fill="#fff" stroke="#ff1010" stroke-width="0.9"/>
<circle cx="165.1" cy="396.8" r="2.25" fill="#fff" stroke="#ff1010" stroke-width="0.9"/>
<circle cx="167.6" cy="302.6" r="2.25" fill="#fff" stroke="#ff1010" stroke-width="0.9"/>
<circle cx="170.6" cy="302.6" r="2.25" fill="#fff" stroke="#ff1010" stroke-width="0.9"/>
<circle cx="173.6" cy="302.6" r="2.25" fill="#fff" stroke="#ff1010" stroke-width="0.9"/>
<circle cx="176.6" cy="302.6" r="2.25" fill="#fff" stroke="#ff1010" stroke-width="0.9"/>
<circle cx="179.6" cy="302.6" r="2.25" fill="#fff" stroke="#ff1010" stroke-width="0.9"/>
<circle cx="182.6" cy="302.6" r="2.25" fill="#fff" stroke="#ff1010" stroke-width="0.9"/>
<circle cx="185.6" cy="302.6" r="2.25" fill="#fff" stroke="#ff1010" stroke-width="0.9"/>
<circle cx="188.6" cy="302.6" r="2.25" fill="#fff" stroke="#ff1010" stroke-width="0.9"/>
<circle cx="191.6" cy="302.6" r="2.25" fill="#fff" stroke="#ff1010" stroke-width="0.9"/>
<circle cx="194.6" cy="302.6" r="2.25" fill="#fff" stroke="#ff1010" stroke-width="0.9"/>
<circle cx="200.6" cy="271.6" r="2.25" fill="#fff" stroke="#ff1010" stroke-width="0.9"/>
<circle cx="203.6" cy="271.59" r="2.25" fill="#fff" stroke="#ff1010" stroke-width="0.9"/>
<circle cx="206.6" cy="271.58" r="2.25" fill="#fff" stroke="#ff1010" stroke-width="0.9"/>
<circle cx="209.6" cy="271.57" r="2.25" fill="#fff" stroke="#ff1010" stroke-width="0.9"/>
<circle cx="212.6" cy="271.56" r="2.25" fill="#fff" stroke="#ff1010" stroke-width="0.9"/>
<circle cx="215.6" cy="271.55" r="2.25" fill="#fff" stroke="#ff1010" stroke-width="0.9"/>
<circle cx="218.6" cy="271.54" r="2.25" fill="#fff" stroke="#ff1010" stroke-width="0.9"/>
<circle cx="221.6" cy="271.53" r="2.25" fill="#fff" stroke="#ff1010" stroke-width="0.9"/>
<circle cx="224.6" cy="271.52" r="2.25" fill="#fff" stroke="#ff1010" stroke-width="0.9"/>
<circle cx="227.6" cy="271.51" r="2.25" fill="#fff" stroke="#ff1010" stroke-width="0.9"/>
<circle cx="230.6" cy="271.5" r="2.25" fill="#fff" stroke="#ff1010" stroke-width="0.9"/>
<circle cx="233.6" cy="271.49" r="2.25" fill="#fff" stroke="#ff1010" stroke-width="0.9"/>
<circle cx="236.6" cy="271.48" r="2.25" fill="#fff" stroke="#ff1010" stroke-width="0.9"/>
<circle cx="239.6" cy="271.47" r="2.25" fill="#fff" stroke="#ff1010" stroke-width="0.9"/>
<circle cx="242.6" cy="271.46" r="2.25" fill="#fff" stroke="#ff1010" stroke-width="0.9"/>
<circle cx="245.6" cy="271.45" r="2.25" fill="#fff" stroke="#ff1010" stroke-width="0.9"/>
<circle cx="248.6" cy="271.44" r="2.25" fill="#fff" stroke="#ff1010" stroke-width="0.9"/>
<circle cx="251.6" cy="271.43" r="2.25" fill="#fff" stroke="#ff1010" stroke-width="0.9"/>
<circle cx="254.6" cy="271.42" r="2.25" fill="#fff" stroke="#ff1010" stroke-width="0.9"/>
<circle cx="257.6" cy="271.41" r="2.25" fill="#fff" stroke="#ff1010" stroke-width="0.9"/>
<circle cx="134" cy="272.2" r="2.25" fill="#fff" stroke="#ff1010" stroke-width="0.9"/>
<circle cx="165.6" cy="396.8" r="2.25" fill="#fff" stroke="#ff1010" stroke-width="0.9"/>
<polyline points="260.5,282.6 141.2,282.2" fill="none" stroke="#6464e6" stroke-width="1.45" stroke-linejoin="round"/>
<polyline points="141.2,282.2 141,360" fill="none" stroke="#6464e6" stroke-width="1.45" stroke-linejoin="round"/>
<polyline points="141,360.2 119.5,360.2" fill="none" stroke="#6464e6" stroke-width="1.45" stroke-linejoin="round"/>
<polyline points="118.5,360.2 118.5,386" fill="none" stroke="#6464e6" stroke-width="1.45" stroke-linejoin="round"/>
<polyline points="118.5,386 39.5,386.3" fill="none" stroke="#6464e6" stroke-width="1.45" stroke-linejoin="round"/>
<polyline points="39.1,386.4 158.4,386.8" fill="none" stroke="#6464e6" stroke-width="1.45" stroke-linejoin="round"/>
<polyline points="158.4,386.8 158.6,309" fill="none" stroke="#6464e6" stroke-width="1.45" stroke-linejoin="round"/>
<polyline points="158.6,308.8 180.1,308.8" fill="none" stroke="#6464e6" stroke-width="1.45" stroke-linejoin="round"/>
<polyline points="181.1,308.8 181.1,283" fill="none" stroke="#6464e6" stroke-width="1.45" stroke-linejoin="round"/>
<polyline points="181.1,283 260.1,282.7" fill="none" stroke="#6464e6" stroke-width="1.45" stroke-linejoin="round"/>
<polygon points="260.5,279.96 262.9,284.4 258.1,284.4" fill="#fff" stroke="#1010ff" stroke-width="0.9"/>
<polygon points="257.5,279.95 259.9,284.39 255.1,284.39" fill="#fff" stroke="#1010ff" stroke-width="0.9"/>
<polygon points="254.5,279.94 256.9,284.38 252.1,284.38" fill="#fff" stroke="#1010ff" stroke-width="0.9"/>
<polygon points="251.5,279.93 253.9,284.37 249.1,284.37" fill="#fff" stroke="#1010ff" stroke-width="0.9"/>
<polygon points="248.5,279.92 250.9,284.36 246.1,284.36" fill="#fff" stroke="#1010ff" stroke-width="0.9"/>
<polygon points="245.5,279.91 247.9,284.35 243.1,284.35" fill="#fff" stroke="#1010ff" stroke-width="0.9"/>
<polygon points="242.5,279.9 244.9,284.34 240.1,284.34" fill="#fff" stroke="#1010ff" stroke-width="0.9"/>
<polygon points="239.5,279.89 241.9,284.33 237.1,284.33" fill="#fff" stroke="#1010ff" stroke-width="0.9"/>
<polygon points="236.5,279.88 238.9,284.32 234.1,284.32" fill="#fff" stroke="#1010ff" stroke-width="0.9"/>
<polygon points="233.5,279.87 235.9,284.31 231.1,284.31" fill="#fff" stroke="#1010ff" stroke-width="0.9"/>
<polygon points="230.5,279.86 232.9,284.3 228.1,284.3" fill="#fff" stroke="#1010ff" stroke-width="0.9"/>
<polygon points="227.5,279.85 229.9,284.29 225.1,284.29" fill="#fff" stroke="#1010ff" stroke-width="0.9"/>
<polygon points="224.5,279.84 226.9,284.28 222.1,284.28" fill="#fff" stroke="#1010ff" stroke-width="0.9"/>
<polygon points="221.5,279.83 223.9,284.27 219.1,284.27" fill="#fff" stroke="#1010ff" stroke-width="0.9"/>
<polygon points="218.5,279.82 220.9,284.26 216.1,284.26" fill="#fff" stroke="#1010ff" stroke-width="0.9"/>
<polygon points="215.5,279.81 217.9,284.25 213.1,284.25" fill="#fff" stroke="#1010ff" stroke-width="0.9"/>
<polygon points="212.5,279.8 214.9,284.24 210.1,284.24" fill="#fff" stroke="#1010ff" stroke-width="0.9"/>
<polygon points="209.5,279.79 211.9,284.23 207.1,284.23" fill="#fff" stroke="#1010ff" stroke-width="0.9"/>
<polygon points="206.5,279.78 208.9,284.22 204.1,284.22" fill="#fff" stroke="#1010ff" stroke-width="0.9"/>
<polygon points="203.5,279.77 205.9,284.21 201.1,284.21" fill="#fff" stroke="#1010ff" stroke-width="0.9"/>
<polygon points="200.5,279.76 202.9,284.2 198.1,284.2" fill="#fff" stroke="#1010ff" stroke-width="0.9"/>
<polygon points="197.5,279.75 199.9,284.19 195.1,284.19" fill="#fff" stroke="#1010ff" stroke-width="0.9"/>
<polygon points="194.5,279.74 196.9,284.18 192.1,284.18" fill="#fff" stroke="#1010ff" stroke-width="0.9"/>
<polygon points="191.5,279.73 193.9,284.17 189.1,284.17" fill="#fff" stroke="#1010ff" stroke-width="0.9"/>
<polygon points="188.5,279.72 190.9,284.16 186.1,284.16" fill="#fff" stroke="#1010ff" stroke-width="0.9"/>
<polygon points="185.5,279.71 187.9,284.15 183.1,284.15" fill="#fff" stroke="#1010ff" stroke-width="0.9"/>
<polygon points="182.5,279.7 184.9,284.14 180.1,284.14" fill="#fff" stroke="#1010ff" stroke-width="0.9"/>
<polygon points="179.5,279.69 181.9,284.13 177.1,284.13" fill="#fff" stroke="#1010ff" stroke-width="0.9"/>
<polygon points="176.5,279.68 178.9,284.12 174.1,284.12" fill="#fff" stroke="#1010ff" stroke-width="0.9"/>
<polygon points="173.5,279.67 175.9,284.11 171.1,284.11" fill="#fff" stroke="#1010ff" stroke-width="0.9"/>
<polygon points="170.5,279.66 172.9,284.1 168.1,284.1" fill="#fff" stroke="#1010ff" stroke-width="0.9"/>
<polygon points="167.5,279.65 169.9,284.09 165.1,284.09" fill="#fff" stroke="#1010ff" stroke-width="0.9"/>
<polygon points="164.5,279.64 166.9,284.08 162.1,284.08" fill="#fff" stroke="#1010ff" stroke-width="0.9"/>
<polygon points="161.5,279.63 163.9,284.07 159.1,284.07" fill="#fff" stroke="#1010ff" stroke-width="0.9"/>
<polygon points="158.5,279.62 160.9,284.06 156.1,284.06" fill="#fff" stroke="#1010ff" stroke-width="0.9"/>
<polygon points="155.5,279.61 157.9,284.05 153.1,284.05" fill="#fff" stroke="#1010ff" stroke-width="0.9"/>
<polygon points="152.5,279.6 154.9,284.04 150.1,284.04" fill="#fff" stroke="#1010ff" stroke-width="0.9"/>
<polygon points="149.5,279.59 151.9,284.03 147.1,284.03" fill="#fff" stroke="#1010ff" stroke-width="0.9"/>
<polygon points="146.5,279.58 148.9,284.02 144.1,284.02" fill="#fff" stroke="#1010ff" stroke-width="0.9"/>
<polygon points="143.5,279.57 145.9,284.01 141.1,284.01" fill="#fff" stroke="#1010ff" stroke-width="0.9"/>
<polygon points="141,357.56 143.4,362 138.6,362" fill="#fff" stroke="#1010ff" stroke-width="0.9"/>
<polygon points="138,357.56 140.4,362 135.6,362" fill="#fff" stroke="#1010ff" stroke-width="0.9"/>
<polygon points="135,357.56 137.4,362 132.6,362" fill="#fff" stroke="#1010ff" stroke-width="0.9"/>
<polygon points="132,357.56 134.4,362 129.6,362" fill="#fff" stroke="#1010ff" stroke-width="0.9"/>
<polygon points="129,357.56 131.4,362 126.6,362" fill="#fff" stroke="#1010ff" stroke-width="0.9"/>
<polygon points="126,357.56 128.4,362 123.6,362" fill="#fff" stroke="#1010ff" stroke-width="0.9"/>
<polygon points="123,357.56 125.4,362 120.6,362" fill="#fff" stroke="#1010ff" stroke-width="0.9"/>
<polygon points="120,357.56 122.4,362 117.6,362" fill="#fff" stroke="#1010ff" stroke-width="0.9"/>
<polygon points="118.5,383.36 120.9,387.8 116.1,387.8" fill="#fff" stroke="#1010ff" stroke-width="0.9"/>
<polygon points="115.5,383.37 117.9,387.81 113.1,387.81" fill="#fff" stroke="#1010ff" stroke-width="0.9"/>
<polygon points="112.5,383.38 114.9,387.82 110.1,387.82" fill="#fff" stroke="#1010ff" stroke-width="0.9"/>
<polygon points="109.5,383.39 111.9,387.83 107.1,387.83" fill="#fff" stroke="#1010ff" stroke-width="0.9"/>
<polygon points="106.5,383.41 108.9,387.85 104.1,387.85" fill="#fff" stroke="#1010ff" stroke-width="0.9"/>
<polygon points="103.5,383.42 105.9,387.86 101.1,387.86" fill="#fff" stroke="#1010ff" stroke-width="0.9"/>
<polygon points="100.5,383.43 102.9,387.87 98.1,387.87" fill="#fff" stroke="#1010ff" stroke-width="0.9"/>
<polygon points="97.5,383.44 99.9,387.88 95.1,387.88" fill="#fff" stroke="#1010ff" stroke-width="0.9"/>
<polygon points="94.5,383.45 96.9,387.89 92.1,387.89" fill="#fff" stroke="#1010ff" stroke-width="0.9"/>
<polygon points="91.5,383.46 93.9,387.9 89.1,387.9" fill="#fff" stroke="#1010ff" stroke-width="0.9"/>
<polygon points="88.5,383.47 90.9,387.91 86.1,387.91" fill="#fff" stroke="#1010ff" stroke-width="0.9"/>
<polygon points="85.5,383.49 87.9,387.93 83.1,387.93" fill="#fff" stroke="#1010ff" stroke-width="0.9"/>
<polygon points="82.5,383.5 84.9,387.94 80.1,387.94" fill="#fff" stroke="#1010ff" stroke-width="0.9"/>
<polygon points="79.5,383.51 81.9,387.95 77.1,387.95" fill="#fff" stroke="#1010ff" stroke-width="0.9"/>
<polygon points="76.5,383.52 78.9,387.96 74.1,387.96" fill="#fff" stroke="#1010ff" stroke-width="0.9"/>
<polygon points="73.5,383.53 75.9,387.97 71.1,387.97" fill="#fff" stroke="#1010ff" stroke-width="0.9"/>
<polygon points="70.5,383.54 72.9,387.98 68.1,387.98" fill="#fff" stroke="#1010ff" stroke-width="0.9"/>
<polygon points="67.5,383.55 69.9,387.99 65.1,387.99" fill="#fff" stroke="#1010ff" stroke-width="0.9"/>
<polygon points="64.5,383.57 66.9,388.01 62.1,388.01" fill="#fff" stroke="#1010ff" stroke-width="0.9"/>
<polygon points="61.5,383.58 63.9,388.02 59.1,388.02" fill="#fff" stroke="#1010ff" stroke-width="0.9"/>
<polygon points="58.5,383.59 60.9,388.03 56.1,388.03" fill="#fff" stroke="#1010ff" stroke-width="0.9"/>
<polygon points="55.5,383.6 57.9,388.04 53.1,388.04" fill="#fff" stroke="#1010ff" stroke-width="0.9"/>
<polygon points="52.5,383.61 54.9,388.05 50.1,388.05" fill="#fff" stroke="#1010ff" stroke-width="0.9"/>
<polygon points="49.5,383.62 51.9,388.06 47.1,388.06" fill="#fff" stroke="#1010ff" stroke-width="0.9"/>
<polygon points="46.5,383.63 48.9,388.07 44.1,388.07" fill="#fff" stroke="#1010ff" stroke-width="0.9"/>
<polygon points="43.5,383.64 45.9,388.08 41.1,388.08" fill="#fff" stroke="#1010ff" stroke-width="0.9"/>
<polygon points="40.5,383.66 42.9,388.1 38.1,388.1" fill="#fff" stroke="#1010ff" stroke-width="0.9"/>
<polygon points="39.1,383.76 41.5,388.2 36.7,388.2" fill="#fff" stroke="#1010ff" stroke-width="0.9"/>
<polygon points="42.1,383.77 44.5,388.21 39.7,388.21" fill="#fff" stroke="#1010ff" stroke-width="0.9"/>
<polygon points="45.1,383.78 47.5,388.22 42.7,388.22" fill="#fff" stroke="#1010ff" stroke-width="0.9"/>
<polygon points="48.1,383.79 50.5,388.23 45.7,388.23" fill="#fff" stroke="#1010ff" stroke-width="0.9"/>
<polygon points="51.1,383.8 53.5,388.24 48.7,388.24" fill="#fff" stroke="#1010ff" stroke-width="0.9"/>
<polygon points="54.1,383.81 56.5,388.25 51.7,388.25" fill="#fff" stroke="#1010ff" stroke-width="0.9"/>
<polygon points="57.1,383.82 59.5,388.26 54.7,388.26" fill="#fff" stroke="#1010ff" stroke-width="0.9"/>
<polygon points="60.1,383.83 62.5,388.27 57.7,388.27" fill="#fff" stroke="#1010ff" stroke-width="0.9"/>
<polygon points="63.1,383.84 65.5,388.28 60.7,388.28" fill="#fff" stroke="#1010ff" stroke-width="0.9"/>
<polygon points="66.1,383.85 68.5,388.29 63.7,388.29" fill="#fff" stroke="#1010ff" stroke-width="0.9"/>
<polygon points="69.1,383.86 71.5,388.3 66.7,388.3" fill="#fff" stroke="#1010ff" stroke-width="0.9"/>
<polygon points="72.1,383.87 74.5,388.31 69.7,388.31" fill="#fff" stroke="#1010ff" stroke-width="0.9"/>
<polygon points="75.1,383.88 77.5,388.32 72.7,388.32" fill="#fff" stroke="#1010ff" stroke-width="0.9"/>
<polygon points="78.1,383.89 80.5,388.33 75.7,388.33" fill="#fff" stroke="#1010ff" stroke-width="0.9"/>
<polygon points="81.1,383.9 83.5,388.34 78.7,388.34" fill="#fff" stroke="#1010ff" stroke-width="0.9"/>
<polygon points="84.1,383.91 86.5,388.35 81.7,388.35" fill="#fff" stroke="#1010ff" stroke-width="0.9"/>
<polygon points="87.1,383.92 89.5,388.36 84.7,388.36" fill="#fff" stroke="#1010ff" stroke-width="0.9"/>
<polygon points="90.1,383.93 92.5,388.37 87.7,388.37" fill="#fff" stroke="#1010ff" stroke-width="0.9"/>
<polygon points="93.1,383.94 95.5,388.38 90.7,388.38" fill="#fff" stroke="#1010ff" stroke-width="0.9"/>
<polygon points="96.1,383.95 98.5,388.39 93.7,388.39" fill="#fff" stroke="#1010ff" stroke-width="0.9"/>
<polygon points="99.1,383.96 101.5,388.4 96.7,388.4" fill="#fff" stroke="#1010ff" stroke-width="0.9"/>
<polygon points="102.1,383.97 104.5,388.41 99.7,388.41" fill="#fff" stroke="#1010ff" stroke-width="0.9"/>
<polygon points="105.1,383.98 107.5,388.42 102.7,388.42" fill="#fff" stroke="#1010ff" stroke-width="0.9"/>
<polygon points="108.1,383.99 110.5,388.43 105.7,388.43" fill="#fff" stroke="#1010ff" stroke-width="0.9"/>
<polygon points="111.1,384 113.5,388.44 108.7,388.44" fill="#fff" stroke="#1010ff" stroke-width="0.9"/>
<polygon points="114.1,384.01 116.5,388.45 111.7,388.45" fill="#fff" stroke="#1010ff" stroke-width="0.9"/>
<polygon points="117.1,384.02 119.5,388.46 114.7,388.46" fill="#fff" stroke="#1010ff" stroke-width="0.9"/>
<polygon points="120.1,384.03 122.5,388.47 117.7,388.47" fill="#fff" stroke="#1010ff" stroke-width="0.9"/>
<polygon points="123.1,384.04 125.5,388.48 120.7,388.48" fill="#fff" stroke="#1010ff" stroke-width="0.9"/>
<polygon points="126.1,384.05 128.5,388.49 123.7,388.49" fill="#fff" stroke="#1010ff" stroke-width="0.9"/>
<polygon points="129.1,384.06 131.5,388.5 126.7,388.5" fill="#fff" stroke="#1010ff" stroke-width="0.9"/>
<polygon points="132.1,384.07 134.5,388.51 129.7,388.51" fill="#fff" stroke="#1010ff" stroke-width="0.9"/>
<polygon points="135.1,384.08 137.5,388.52 132.7,388.52" fill="#fff" stroke="#1010ff" stroke-width="0.9"/>
<polygon points="138.1,384.09 140.5,388.53 135.7,388.53" fill="#fff" stroke="#1010ff" stroke-width="0.9"/>
<polygon points="141.1,384.1 143.5,388.54 138.7,388.54" fill="#fff" stroke="#1010ff" stroke-width="0.9"/>
<polygon points="144.1,384.11 146.5,388.55 141.7,388.55" fill="#fff" stroke="#1010ff" stroke-width="0.9"/>
<polygon points="147.1,384.12 149.5,388.56 144.7,388.56" fill="#fff" stroke="#1010ff" stroke-width="0.9"/>
<polygon points="150.1,384.13 152.5,388.57 147.7,388.57" fill="#fff" stroke="#1010ff" stroke-width="0.9"/>
<polygon points="153.1,384.14 155.5,388.58 150.7,388.58" fill="#fff" stroke="#1010ff" stroke-width="0.9"/>
<polygon points="156.1,384.15 158.5,388.59 153.7,388.59" fill="#fff" stroke="#1010ff" stroke-width="0.9"/>
<polygon points="158.6,306.16 161,310.6 156.2,310.6" fill="#fff" stroke="#1010ff" stroke-width="0.9"/>
<polygon points="161.6,306.16 164,310.6 159.2,310.6" fill="#fff" stroke="#1010ff" stroke-width="0.9"/>
<polygon points="164.6,306.16 167,310.6 162.2,310.6" fill="#fff" stroke="#1010ff" stroke-width="0.9"/>
<polygon points="167.6,306.16 170,310.6 165.2,310.6" fill="#fff" stroke="#1010ff" stroke-width="0.9"/>
<polygon points="170.6,306.16 173,310.6 168.2,310.6" fill="#fff" stroke="#1010ff" stroke-width="0.9"/>
<polygon points="173.6,306.16 176,310.6 171.2,310.6" fill="#fff" stroke="#1010ff" stroke-width="0.9"/>
<polygon points="176.6,306.16 179,310.6 174.2,310.6" fill="#fff" stroke="#1010ff" stroke-width="0.9"/>
<polygon points="179.6,306.16 182,310.6 177.2,310.6" fill="#fff" stroke="#1010ff" stroke-width="0.9"/>
<polygon points="181.1,280.36 183.5,284.8 178.7,284.8" fill="#fff" stroke="#1010ff" stroke-width="0.9"/>
<polygon points="184.1,280.35 186.5,284.79 181.7,284.79" fill="#fff" stroke="#1010ff" stroke-width="0.9"/>
<polygon points="187.1,280.34 189.5,284.78 184.7,284.78" fill="#fff" stroke="#1010ff" stroke-width="0.9"/>
<polygon points="190.1,280.33 192.5,284.77 187.7,284.77" fill="#fff" stroke="#1010ff" stroke-width="0.9"/>
<polygon points="193.1,280.31 195.5,284.75 190.7,284.75" fill="#fff" stroke="#1010ff" stroke-width="0.9"/>
<polygon points="196.1,280.3 198.5,284.74 193.7,284.74" fill="#fff" stroke="#1010ff" stroke-width="0.9"/>
<polygon points="199.1,280.29 201.5,284.73 196.7,284.73" fill="#fff" stroke="#1010ff" stroke-width="0.9"/>
<polygon points="202.1,280.28 204.5,284.72 199.7,284.72" fill="#fff" stroke="#1010ff" stroke-width="0.9"/>
<polygon points="205.1,280.27 207.5,284.71 202.7,284.71" fill="#fff" stroke="#1010ff" stroke-width="0.9"/>
<polygon points="208.1,280.26 210.5,284.7 205.7,284.7" fill="#fff" stroke="#1010ff" stroke-width="0.9"/>
<polygon points="211.1,280.25 213.5,284.69 208.7,284.69" fill="#fff" stroke="#1010ff" stroke-width="0.9"/>
<polygon points="214.1,280.23 216.5,284.67 211.7,284.67" fill="#fff" stroke="#1010ff" stroke-width="0.9"/>
<polygon points="217.1,280.22 219.5,284.66 214.7,284.66" fill="#fff" stroke="#1010ff" stroke-width="0.9"/>
<polygon points="220.1,280.21 222.5,284.65 217.7,284.65" fill="#fff" stroke="#1010ff" stroke-width="0.9"/>
<polygon points="223.1,280.2 225.5,284.64 220.7,284.64" fill="#fff" stroke="#1010ff" stroke-width="0.9"/>
<polygon points="226.1,280.19 228.5,284.63 223.7,284.63" fill="#fff" stroke="#1010ff" stroke-width="0.9"/>
<polygon points="229.1,280.18 231.5,284.62 226.7,284.62" fill="#fff" stroke="#1010ff" stroke-width="0.9"/>
<polygon points="232.1,280.17 234.5,284.61 229.7,284.61" fill="#fff" stroke="#1010ff" stroke-width="0.9"/>
<polygon points="235.1,280.15 237.5,284.59 232.7,284.59" fill="#fff" stroke="#1010ff" stroke-width="0.9"/>
<polygon points="238.1,280.14 240.5,284.58 235.7,284.58" fill="#fff" stroke="#1010ff" stroke-width="0.9"/>
<polygon points="241.1,280.13 243.5,284.57 238.7,284.57" fill="#fff" stroke="#1010ff" stroke-width="0.9"/>
<polygon points="244.1,280.12 246.5,284.56 241.7,284.56" fill="#fff" stroke="#1010ff" stroke-width="0.9"/>
<polygon points="247.1,280.11 249.5,284.55 244.7,284.55" fill="#fff" stroke="#1010ff" stroke-width="0.9"/>
<polygon points="250.1,280.1 252.5,284.54 247.7,284.54" fill="#fff" stroke="#1010ff" stroke-width="0.9"/>
<polygon points="253.1,280.09 255.5,284.53 250.7,284.53" fill="#fff" stroke="#1010ff" stroke-width="0.9"/>
<polygon points="256.1,280.08 258.5,284.52 253.7,284.52" fill="#fff" stroke="#1010ff" stroke-width="0.9"/>
<polygon points="259.1,280.06 261.5,284.5 256.7,284.5" fill="#fff" stroke="#1010ff" stroke-width="0.9"/>
<polygon points="140,326.96 142.4,331.4 137.6,331.4" fill="#fff" stroke="#1010ff" stroke-width="0.9"/>
<polygon points="159.6,336.76 162,341.2 157.2,341.2" fill="#fff" stroke="#1010ff" stroke-width="0.9"/>
<polyline points="260.5,296.8 145.7,295.6" fill="none" stroke="#f064f0" stroke-width="1.45" stroke-linejoin="round"/>
<polyline points="145.7,295.6 145,372.8" fill="none" stroke="#f064f0" stroke-width="1.45" stroke-linejoin="round"/>
<polyline points="145,372.8 39.5,373.1" fill="none" stroke="#f064f0" stroke-width="1.45" stroke-linejoin="round"/>
<polyline points="39.1,372.2 153.9,373.4" fill="none" stroke="#f064f0" stroke-width="1.45" stroke-linejoin="round"/>
<polyline points="153.9,373.4 154.6,296.2" fill="none" stroke="#f064f0" stroke-width="1.45" stroke-linejoin="round"/>
<polyline points="154.6,296.2 260.1,295.9" fill="none" stroke="#f064f0" stroke-width="1.45" stroke-linejoin="round"/>
<polygon points="260.5,299.44 262.9,295 258.1,295" fill="#fff" stroke="#ff10ff" stroke-width="0.9"/>
<polygon points="257.5,299.41 259.9,294.97 255.1,294.97" fill="#fff" stroke="#ff10ff" stroke-width="0.9"/>
<polygon points="254.5,299.38 256.9,294.94 252.1,294.94" fill="#fff" stroke="#ff10ff" stroke-width="0.9"/>
<polygon points="251.5,299.35 253.9,294.91 249.1,294.91" fill="#fff" stroke="#ff10ff" stroke-width="0.9"/>
<polygon points="248.5,299.31 250.9,294.87 246.1,294.87" fill="#fff" stroke="#ff10ff" stroke-width="0.9"/>
<polygon points="245.5,299.28 247.9,294.84 243.1,294.84" fill="#fff" stroke="#ff10ff" stroke-width="0.9"/>
<polygon points="242.5,299.25 244.9,294.81 240.1,294.81" fill="#fff" stroke="#ff10ff" stroke-width="0.9"/>
<polygon points="239.5,299.22 241.9,294.78 237.1,294.78" fill="#fff" stroke="#ff10ff" stroke-width="0.9"/>
<polygon points="236.5,299.19 238.9,294.75 234.1,294.75" fill="#fff" stroke="#ff10ff" stroke-width="0.9"/>
<polygon points="233.5,299.16 235.9,294.72 231.1,294.72" fill="#fff" stroke="#ff10ff" stroke-width="0.9"/>
<polygon points="230.5,299.13 232.9,294.69 228.1,294.69" fill="#fff" stroke="#ff10ff" stroke-width="0.9"/>
<polygon points="227.5,299.1 229.9,294.66 225.1,294.66" fill="#fff" stroke="#ff10ff" stroke-width="0.9"/>
<polygon points="224.5,299.06 226.9,294.62 222.1,294.62" fill="#fff" stroke="#ff10ff" stroke-width="0.9"/>
<polygon points="221.5,299.03 223.9,294.59 219.1,294.59" fill="#fff" stroke="#ff10ff" stroke-width="0.9"/>
<polygon points="218.5,299 220.9,294.56 216.1,294.56" fill="#fff" stroke="#ff10ff" stroke-width="0.9"/>
<polygon points="215.5,298.97 217.9,294.53 213.1,294.53" fill="#fff" stroke="#ff10ff" stroke-width="0.9"/>
<polygon points="212.5,298.94 214.9,294.5 210.1,294.5" fill="#fff" stroke="#ff10ff" stroke-width="0.9"/>
<polygon points="209.5,298.91 211.9,294.47 207.1,294.47" fill="#fff" stroke="#ff10ff" stroke-width="0.9"/>
<polygon points="206.5,298.88 208.9,294.44 204.1,294.44" fill="#fff" stroke="#ff10ff" stroke-width="0.9"/>
<polygon points="203.5,298.84 205.9,294.4 201.1,294.4" fill="#fff" stroke="#ff10ff" stroke-width="0.9"/>
<polygon points="200.5,298.81 202.9,294.37 198.1,294.37" fill="#fff" stroke="#ff10ff" stroke-width="0.9"/>
<polygon points="197.5,298.78 199.9,294.34 195.1,294.34" fill="#fff" stroke="#ff10ff" stroke-width="0.9"/>
<polygon points="194.5,298.75 196.9,294.31 192.1,294.31" fill="#fff" stroke="#ff10ff" stroke-width="0.9"/>
<polygon points="191.5,298.72 193.9,294.28 189.1,294.28" fill="#fff" stroke="#ff10ff" stroke-width="0.9"/>
<polygon points="188.5,298.69 190.9,294.25 186.1,294.25" fill="#fff" stroke="#ff10ff" stroke-width="0.9"/>
<polygon points="185.5,298.66 187.9,294.22 183.1,294.22" fill="#fff" stroke="#ff10ff" stroke-width="0.9"/>
<polygon points="182.5,298.62 184.9,294.18 180.1,294.18" fill="#fff" stroke="#ff10ff" stroke-width="0.9"/>
<polygon points="179.5,298.59 181.9,294.15 177.1,294.15" fill="#fff" stroke="#ff10ff" stroke-width="0.9"/>
<polygon points="176.5,298.56 178.9,294.12 174.1,294.12" fill="#fff" stroke="#ff10ff" stroke-width="0.9"/>
<polygon points="173.5,298.53 175.9,294.09 171.1,294.09" fill="#fff" stroke="#ff10ff" stroke-width="0.9"/>
<polygon points="170.5,298.5 172.9,294.06 168.1,294.06" fill="#fff" stroke="#ff10ff" stroke-width="0.9"/>
<polygon points="167.51,298.47 169.91,294.03 165.11,294.03" fill="#fff" stroke="#ff10ff" stroke-width="0.9"/>
<polygon points="164.51,298.44 166.91,294 162.11,294" fill="#fff" stroke="#ff10ff" stroke-width="0.9"/>
<polygon points="161.51,298.41 163.91,293.97 159.11,293.97" fill="#fff" stroke="#ff10ff" stroke-width="0.9"/>
<polygon points="158.51,298.37 160.91,293.93 156.11,293.93" fill="#fff" stroke="#ff10ff" stroke-width="0.9"/>
<polygon points="155.51,298.34 157.91,293.9 153.11,293.9" fill="#fff" stroke="#ff10ff" stroke-width="0.9"/>
<polygon points="152.51,298.31 154.91,293.87 150.11,293.87" fill="#fff" stroke="#ff10ff" stroke-width="0.9"/>
<polygon points="149.51,298.28 151.91,293.84 147.11,293.84" fill="#fff" stroke="#ff10ff" stroke-width="0.9"/>
<polygon points="146.51,298.25 148.91,293.81 144.11,293.81" fill="#fff" stroke="#ff10ff" stroke-width="0.9"/>
<polygon points="145,375.44 147.4,371 142.6,371" fill="#fff" stroke="#ff10ff" stroke-width="0.9"/>
<polygon points="142,375.45 144.4,371.01 139.6,371.01" fill="#fff" stroke="#ff10ff" stroke-width="0.9"/>
<polygon points="139,375.46 141.4,371.02 136.6,371.02" fill="#fff" stroke="#ff10ff" stroke-width="0.9"/>
<polygon points="136,375.47 138.4,371.03 133.6,371.03" fill="#fff" stroke="#ff10ff" stroke-width="0.9"/>
<polygon points="133,375.47 135.4,371.03 130.6,371.03" fill="#fff" stroke="#ff10ff" stroke-width="0.9"/>
<polygon points="130,375.48 132.4,371.04 127.6,371.04" fill="#fff" stroke="#ff10ff" stroke-width="0.9"/>
<polygon points="127,375.49 129.4,371.05 124.6,371.05" fill="#fff" stroke="#ff10ff" stroke-width="0.9"/>
<polygon points="124,375.5 126.4,371.06 121.6,371.06" fill="#fff" stroke="#ff10ff" stroke-width="0.9"/>
<polygon points="121,375.51 123.4,371.07 118.6,371.07" fill="#fff" stroke="#ff10ff" stroke-width="0.9"/>
<polygon points="118,375.52 120.4,371.08 115.6,371.08" fill="#fff" stroke="#ff10ff" stroke-width="0.9"/>
<polygon points="115,375.53 117.4,371.09 112.6,371.09" fill="#fff" stroke="#ff10ff" stroke-width="0.9"/>
<polygon points="112,375.53 114.4,371.09 109.6,371.09" fill="#fff" stroke="#ff10ff" stroke-width="0.9"/>
<polygon points="109,375.54 111.4,371.1 106.6,371.1" fill="#fff" stroke="#ff10ff" stroke-width="0.9"/>
<polygon points="106,375.55 108.4,371.11 103.6,371.11" fill="#fff" stroke="#ff10ff" stroke-width="0.9"/>
<polygon points="103,375.56 105.4,371.12 100.6,371.12" fill="#fff" stroke="#ff10ff" stroke-width="0.9"/>
<polygon points="100,375.57 102.4,371.13 97.6,371.13" fill="#fff" stroke="#ff10ff" stroke-width="0.9"/>
<polygon points="97,375.58 99.4,371.14 94.6,371.14" fill="#fff" stroke="#ff10ff" stroke-width="0.9"/>
<polygon points="94,375.59 96.4,371.15 91.6,371.15" fill="#fff" stroke="#ff10ff" stroke-width="0.9"/>
<polygon points="91,375.59 93.4,371.15 88.6,371.15" fill="#fff" stroke="#ff10ff" stroke-width="0.9"/>
<polygon points="88,375.6 90.4,371.16 85.6,371.16" fill="#fff" stroke="#ff10ff" stroke-width="0.9"/>
<polygon points="85,375.61 87.4,371.17 82.6,371.17" fill="#fff" stroke="#ff10ff" stroke-width="0.9"/>
<polygon points="82,375.62 84.4,371.18 79.6,371.18" fill="#fff" stroke="#ff10ff" stroke-width="0.9"/>
<polygon points="79,375.63 81.4,371.19 76.6,371.19" fill="#fff" stroke="#ff10ff" stroke-width="0.9"/>
<polygon points="76,375.64 78.4,371.2 73.6,371.2" fill="#fff" stroke="#ff10ff" stroke-width="0.9"/>
<polygon points="73,375.64 75.4,371.2 70.6,371.2" fill="#fff" stroke="#ff10ff" stroke-width="0.9"/>
<polygon points="70,375.65 72.4,371.21 67.6,371.21" fill="#fff" stroke="#ff10ff" stroke-width="0.9"/>
<polygon points="67,375.66 69.4,371.22 64.6,371.22" fill="#fff" stroke="#ff10ff" stroke-width="0.9"/>
<polygon points="64,375.67 66.4,371.23 61.6,371.23" fill="#fff" stroke="#ff10ff" stroke-width="0.9"/>
<polygon points="61,375.68 63.4,371.24 58.6,371.24" fill="#fff" stroke="#ff10ff" stroke-width="0.9"/>
<polygon points="58,375.69 60.4,371.25 55.6,371.25" fill="#fff" stroke="#ff10ff" stroke-width="0.9"/>
<polygon points="55,375.7 57.4,371.26 52.6,371.26" fill="#fff" stroke="#ff10ff" stroke-width="0.9"/>
<polygon points="52,375.7 54.4,371.26 49.6,371.26" fill="#fff" stroke="#ff10ff" stroke-width="0.9"/>
<polygon points="49,375.71 51.4,371.27 46.6,371.27" fill="#fff" stroke="#ff10ff" stroke-width="0.9"/>
<polygon points="46,375.72 48.4,371.28 43.6,371.28" fill="#fff" stroke="#ff10ff" stroke-width="0.9"/>
<polygon points="43,375.73 45.4,371.29 40.6,371.29" fill="#fff" stroke="#ff10ff" stroke-width="0.9"/>
<polygon points="40,375.74 42.4,371.3 37.6,371.3" fill="#fff" stroke="#ff10ff" stroke-width="0.9"/>
<polygon points="39.1,374.84 41.5,370.4 36.7,370.4" fill="#fff" stroke="#ff10ff" stroke-width="0.9"/>
<polygon points="42.1,374.87 44.5,370.43 39.7,370.43" fill="#fff" stroke="#ff10ff" stroke-width="0.9"/>
<polygon points="45.1,374.9 47.5,370.46 42.7,370.46" fill="#fff" stroke="#ff10ff" stroke-width="0.9"/>
<polygon points="48.1,374.93 50.5,370.49 45.7,370.49" fill="#fff" stroke="#ff10ff" stroke-width="0.9"/>
<polygon points="51.1,374.97 53.5,370.53 48.7,370.53" fill="#fff" stroke="#ff10ff" stroke-width="0.9"/>
<polygon points="54.1,375 56.5,370.56 51.7,370.56" fill="#fff" stroke="#ff10ff" stroke-width="0.9"/>
<polygon points="57.1,375.03 59.5,370.59 54.7,370.59" fill="#fff" stroke="#ff10ff" stroke-width="0.9"/>
<polygon points="60.1,375.06 62.5,370.62 57.7,370.62" fill="#fff" stroke="#ff10ff" stroke-width="0.9"/>
<polygon points="63.1,375.09 65.5,370.65 60.7,370.65" fill="#fff" stroke="#ff10ff" stroke-width="0.9"/>
<polygon points="66.1,375.12 68.5,370.68 63.7,370.68" fill="#fff" stroke="#ff10ff" stroke-width="0.9"/>
<polygon points="69.1,375.15 71.5,370.71 66.7,370.71" fill="#fff" stroke="#ff10ff" stroke-width="0.9"/>
<polygon points="72.1,375.18 74.5,370.74 69.7,370.74" fill="#fff" stroke="#ff10ff" stroke-width="0.9"/>
<polygon points="75.1,375.22 77.5,370.78 72.7,370.78" fill="#fff" stroke="#ff10ff" stroke-width="0.9"/>
<polygon points="78.1,375.25 80.5,370.81 75.7,370.81" fill="#fff" stroke="#ff10ff" stroke-width="0.9"/>
<polygon points="81.1,375.28 83.5,370.84 78.7,370.84" fill="#fff" stroke="#ff10ff" stroke-width="0.9"/>
<polygon points="84.1,375.31 86.5,370.87 81.7,370.87" fill="#fff" stroke="#ff10ff" stroke-width="0.9"/>
<polygon points="87.1,375.34 89.5,370.9 84.7,370.9" fill="#fff" stroke="#ff10ff" stroke-width="0.9"/>
<polygon points="90.1,375.37 92.5,370.93 87.7,370.93" fill="#fff" stroke="#ff10ff" stroke-width="0.9"/>
<polygon points="93.1,375.4 95.5,370.96 90.7,370.96" fill="#fff" stroke="#ff10ff" stroke-width="0.9"/>
<polygon points="96.1,375.44 98.5,371 93.7,371" fill="#fff" stroke="#ff10ff" stroke-width="0.9"/>
<polygon points="99.1,375.47 101.5,371.03 96.7,371.03" fill="#fff" stroke="#ff10ff" stroke-width="0.9"/>
<polygon points="102.1,375.5 104.5,371.06 99.7,371.06" fill="#fff" stroke="#ff10ff" stroke-width="0.9"/>
<polygon points="105.1,375.53 107.5,371.09 102.7,371.09" fill="#fff" stroke="#ff10ff" stroke-width="0.9"/>
<polygon points="108.1,375.56 110.5,371.12 105.7,371.12" fill="#fff" stroke="#ff10ff" stroke-width="0.9"/>
<polygon points="111.1,375.59 113.5,371.15 108.7,371.15" fill="#fff" stroke="#ff10ff" stroke-width="0.9"/>
<polygon points="114.1,375.62 116.5,371.18 111.7,371.18" fill="#fff" stroke="#ff10ff" stroke-width="0.9"/>
<polygon points="117.1,375.66 119.5,371.22 114.7,371.22" fill="#fff" stroke="#ff10ff" stroke-width="0.9"/>
<polygon points="120.1,375.69 122.5,371.25 117.7,371.25" fill="#fff" stroke="#ff10ff" stroke-width="0.9"/>
<polygon points="123.1,375.72 125.5,371.28 120.7,371.28" fill="#fff" stroke="#ff10ff" stroke-width="0.9"/>
<polygon points="126.1,375.75 128.5,371.31 123.7,371.31" fill="#fff" stroke="#ff10ff" stroke-width="0.9"/>
<polygon points="129.1,375.78 131.5,371.34 126.7,371.34" fill="#fff" stroke="#ff10ff" stroke-width="0.9"/>
<polygon points="132.09,375.81 134.49,371.37 129.69,371.37" fill="#fff" stroke="#ff10ff" stroke-width="0.9"/>
<polygon points="135.09,375.84 137.49,371.4 132.69,371.4" fill="#fff" stroke="#ff10ff" stroke-width="0.9"/>
<polygon points="138.09,375.87 140.49,371.43 135.69,371.43" fill="#fff" stroke="#ff10ff" stroke-width="0.9"/>
<polygon points="141.09,375.91 143.49,371.47 138.69,371.47" fill="#fff" stroke="#ff10ff" stroke-width="0.9"/>
<polygon points="144.09,375.94 146.49,371.5 141.69,371.5" fill="#fff" stroke="#ff10ff" stroke-width="0.9"/>
<polygon points="147.09,375.97 149.49,371.53 144.69,371.53" fill="#fff" stroke="#ff10ff" stroke-width="0.9"/>
<polygon points="150.09,376 152.49,371.56 147.69,371.56" fill="#fff" stroke="#ff10ff" stroke-width="0.9"/>
<polygon points="153.09,376.03 155.49,371.59 150.69,371.59" fill="#fff" stroke="#ff10ff" stroke-width="0.9"/>
<polygon points="154.6,298.84 157,294.4 152.2,294.4" fill="#fff" stroke="#ff10ff" stroke-width="0.9"/>
<polygon points="157.6,298.83 160,294.39 155.2,294.39" fill="#fff" stroke="#ff10ff" stroke-width="0.9"/>
<polygon points="160.6,298.82 163,294.38 158.2,294.38" fill="#fff" stroke="#ff10ff" stroke-width="0.9"/>
<polygon points="163.6,298.81 166,294.37 161.2,294.37" fill="#fff" stroke="#ff10ff" stroke-width="0.9"/>
<polygon points="166.6,298.81 169,294.37 164.2,294.37" fill="#fff" stroke="#ff10ff" stroke-width="0.9"/>
<polygon points="169.6,298.8 172,294.36 167.2,294.36" fill="#fff" stroke="#ff10ff" stroke-width="0.9"/>
<polygon points="172.6,298.79 175,294.35 170.2,294.35" fill="#fff" stroke="#ff10ff" stroke-width="0.9"/>
<polygon points="175.6,298.78 178,294.34 173.2,294.34" fill="#fff" stroke="#ff10ff" stroke-width="0.9"/>
<polygon points="178.6,298.77 181,294.33 176.2,294.33" fill="#fff" stroke="#ff10ff" stroke-width="0.9"/>
<polygon points="181.6,298.76 184,294.32 179.2,294.32" fill="#fff" stroke="#ff10ff" stroke-width="0.9"/>
<polygon points="184.6,298.75 187,294.31 182.2,294.31" fill="#fff" stroke="#ff10ff" stroke-width="0.9"/>
<polygon points="187.6,298.75 190,294.31 185.2,294.31" fill="#fff" stroke="#ff10ff" stroke-width="0.9"/>
<polygon points="190.6,298.74 193,294.3 188.2,294.3" fill="#fff" stroke="#ff10ff" stroke-width="0.9"/>
<polygon points="193.6,298.73 196,294.29 191.2,294.29" fill="#fff" stroke="#ff10ff" stroke-width="0.9"/>
<polygon points="196.6,298.72 199,294.28 194.2,294.28" fill="#fff" stroke="#ff10ff" stroke-width="0.9"/>
<polygon points="199.6,298.71 202,294.27 197.2,294.27" fill="#fff" stroke="#ff10ff" stroke-width="0.9"/>
<polygon points="202.6,298.7 205,294.26 200.2,294.26" fill="#fff" stroke="#ff10ff" stroke-width="0.9"/>
<polygon points="205.6,298.69 208,294.25 203.2,294.25" fill="#fff" stroke="#ff10ff" stroke-width="0.9"/>
<polygon points="208.6,298.69 211,294.25 206.2,294.25" fill="#fff" stroke="#ff10ff" stroke-width="0.9"/>
<polygon points="211.6,298.68 214,294.24 209.2,294.24" fill="#fff" stroke="#ff10ff" stroke-width="0.9"/>
<polygon points="214.6,298.67 217,294.23 212.2,294.23" fill="#fff" stroke="#ff10ff" stroke-width="0.9"/>
<polygon points="217.6,298.66 220,294.22 215.2,294.22" fill="#fff" stroke="#ff10ff" stroke-width="0.9"/>
<polygon points="220.6,298.65 223,294.21 218.2,294.21" fill="#fff" stroke="#ff10ff" stroke-width="0.9"/>
<polygon points="223.6,298.64 226,294.2 221.2,294.2" fill="#fff" stroke="#ff10ff" stroke-width="0.9"/>
<polygon points="226.6,298.64 229,294.2 224.2,294.2" fill="#fff" stroke="#ff10ff" stroke-width="0.9"/>
<polygon points="229.6,298.63 232,294.19 227.2,294.19" fill="#fff" stroke="#ff10ff" stroke-width="0.9"/>
<polygon points="232.6,298.62 235,294.18 230.2,294.18" fill="#fff" stroke="#ff10ff" stroke-width="0.9"/>
<polygon points="235.6,298.61 238,294.17 233.2,294.17" fill="#fff" stroke="#ff10ff" stroke-width="0.9"/>
<polygon points="238.6,298.6 241,294.16 236.2,294.16" fill="#fff" stroke="#ff10ff" stroke-width="0.9"/>
<polygon points="241.6,298.59 244,294.15 239.2,294.15" fill="#fff" stroke="#ff10ff" stroke-width="0.9"/>
<polygon points="244.6,298.58 247,294.14 242.2,294.14" fill="#fff" stroke="#ff10ff" stroke-width="0.9"/>
<polygon points="247.6,298.58 250,294.14 245.2,294.14" fill="#fff" stroke="#ff10ff" stroke-width="0.9"/>
<polygon points="250.6,298.57 253,294.13 248.2,294.13" fill="#fff" stroke="#ff10ff" stroke-width="0.9"/>
<polygon points="253.6,298.56 256,294.12 251.2,294.12" fill="#fff" stroke="#ff10ff" stroke-width="0.9"/>
<polygon points="256.6,298.55 259,294.11 254.2,294.11" fill="#fff" stroke="#ff10ff" stroke-width="0.9"/>
<polygon points="259.6,298.54 262,294.1 257.2,294.1" fill="#fff" stroke="#ff10ff" stroke-width="0.9"/>
<polygon points="145.5,307.64 147.9,303.2 143.1,303.2" fill="#fff" stroke="#ff10ff" stroke-width="0.9"/>
<polygon points="154.1,366.64 156.5,362.2 151.7,362.2" fill="#fff" stroke="#ff10ff" stroke-width="0.9"/>
<polyline points="260.5,314.6 180,316.6 165,318 156.2,319.6 143.3,333" fill="none" stroke="#40a840" stroke-width="1.45" stroke-linejoin="round"/>
<polyline points="143.3,333 143.3,345" fill="none" stroke="#40a840" stroke-width="1.45" stroke-linejoin="round"/>
<polyline points="143.3,345 137,350.2 100,352.5 39.5,354.5" fill="none" stroke="#40a840" stroke-width="1.45" stroke-linejoin="round"/>
<polyline points="39.1,354.4 119.6,352.4 134.6,351 143.4,349.4 156.3,336" fill="none" stroke="#40a840" stroke-width="1.45" stroke-linejoin="round"/>
<polyline points="156.3,336 156.3,324" fill="none" stroke="#40a840" stroke-width="1.45" stroke-linejoin="round"/>
<polyline points="156.3,324 162.6,318.8 199.6,316.5 260.1,314.5" fill="none" stroke="#40a840" stroke-width="1.45" stroke-linejoin="round"/>
<circle cx="260.5" cy="314.6" r="2.34" fill="#fff" stroke="#009000" stroke-width="0.9"/>
<circle cx="257.5" cy="314.67" r="2.34" fill="#fff" stroke="#009000" stroke-width="0.9"/>
<circle cx="254.5" cy="314.75" r="2.34" fill="#fff" stroke="#009000" stroke-width="0.9"/>
<circle cx="251.5" cy="314.82" r="2.34" fill="#fff" stroke="#009000" stroke-width="0.9"/>
<circle cx="248.5" cy="314.9" r="2.34" fill="#fff" stroke="#009000" stroke-width="0.9"/>
<circle cx="245.5" cy="314.97" r="2.34" fill="#fff" stroke="#009000" stroke-width="0.9"/>
<circle cx="242.51" cy="315.05" r="2.34" fill="#fff" stroke="#009000" stroke-width="0.9"/>
<circle cx="239.51" cy="315.12" r="2.34" fill="#fff" stroke="#009000" stroke-width="0.9"/>
<circle cx="236.51" cy="315.2" r="2.34" fill="#fff" stroke="#009000" stroke-width="0.9"/>
<circle cx="233.51" cy="315.27" r="2.34" fill="#fff" stroke="#009000" stroke-width="0.9"/>
<circle cx="230.51" cy="315.35" r="2.34" fill="#fff" stroke="#009000" stroke-width="0.9"/>
<circle cx="227.51" cy="315.42" r="2.34" fill="#fff" stroke="#009000" stroke-width="0.9"/>
<circle cx="224.51" cy="315.49" r="2.34" fill="#fff" stroke="#009000" stroke-width="0.9"/>
<circle cx="221.51" cy="315.57" r="2.34" fill="#fff" stroke="#009000" stroke-width="0.9"/>
<circle cx="218.51" cy="315.64" r="2.34" fill="#fff" stroke="#009000" stroke-width="0.9"/>
<circle cx="215.51" cy="315.72" r="2.34" fill="#fff" stroke="#009000" stroke-width="0.9"/>
<circle cx="212.51" cy="315.79" r="2.34" fill="#fff" stroke="#009000" stroke-width="0.9"/>
<circle cx="209.52" cy="315.87" r="2.34" fill="#fff" stroke="#009000" stroke-width="0.9"/>
<circle cx="206.52" cy="315.94" r="2.34" fill="#fff" stroke="#009000" stroke-width="0.9"/>
<circle cx="203.52" cy="316.02" r="2.34" fill="#fff" stroke="#009000" stroke-width="0.9"/>
<circle cx="200.52" cy="316.09" r="2.34" fill="#fff" stroke="#009000" stroke-width="0.9"/>
<circle cx="197.52" cy="316.16" r="2.34" fill="#fff" stroke="#009000" stroke-width="0.9"/>
<circle cx="194.52" cy="316.24" r="2.34" fill="#fff" stroke="#009000" stroke-width="0.9"/>
<circle cx="191.52" cy="316.31" r="2.34" fill="#fff" stroke="#009000" stroke-width="0.9"/>
<circle cx="188.52" cy="316.39" r="2.34" fill="#fff" stroke="#009000" stroke-width="0.9"/>
<circle cx="185.52" cy="316.46" r="2.34" fill="#fff" stroke="#009000" stroke-width="0.9"/>
<circle cx="182.52" cy="316.54" r="2.34" fill="#fff" stroke="#009000" stroke-width="0.9"/>
<circle cx="179.53" cy="316.64" r="2.34" fill="#fff" stroke="#009000" stroke-width="0.9"/>
<circle cx="176.54" cy="316.92" r="2.34" fill="#fff" stroke="#009000" stroke-width="0.9"/>
<circle cx="173.55" cy="317.2" r="2.34" fill="#fff" stroke="#009000" stroke-width="0.9"/>
<circle cx="170.57" cy="317.48" r="2.34" fill="#fff" stroke="#009000" stroke-width="0.9"/>
<circle cx="167.58" cy="317.76" r="2.34" fill="#fff" stroke="#009000" stroke-width="0.9"/>
<circle cx="164.6" cy="318.07" r="2.34" fill="#fff" stroke="#009000" stroke-width="0.9"/>
<circle cx="161.65" cy="318.61" r="2.34" fill="#fff" stroke="#009000" stroke-width="0.9"/>
<circle cx="158.69" cy="319.15" r="2.34" fill="#fff" stroke="#009000" stroke-width="0.9"/>
<circle cx="155.88" cy="319.94" r="2.34" fill="#fff" stroke="#009000" stroke-width="0.9"/>
<circle cx="153.8" cy="322.1" r="2.34" fill="#fff" stroke="#009000" stroke-width="0.9"/>
<circle cx="151.72" cy="324.26" r="2.34" fill="#fff" stroke="#009000" stroke-width="0.9"/>
<circle cx="149.64" cy="326.42" r="2.34" fill="#fff" stroke="#009000" stroke-width="0.9"/>
<circle cx="147.55" cy="328.58" r="2.34" fill="#fff" stroke="#009000" stroke-width="0.9"/>
<circle cx="145.47" cy="330.74" r="2.34" fill="#fff" stroke="#009000" stroke-width="0.9"/>
<circle cx="143.39" cy="332.9" r="2.34" fill="#fff" stroke="#009000" stroke-width="0.9"/>
<circle cx="143.3" cy="345" r="2.34" fill="#fff" stroke="#009000" stroke-width="0.9"/>
<circle cx="140.99" cy="346.91" r="2.34" fill="#fff" stroke="#009000" stroke-width="0.9"/>
<circle cx="138.67" cy="348.82" r="2.34" fill="#fff" stroke="#009000" stroke-width="0.9"/>
<circle cx="136.17" cy="350.25" r="2.34" fill="#fff" stroke="#009000" stroke-width="0.9"/>
<circle cx="133.18" cy="350.44" r="2.34" fill="#fff" stroke="#009000" stroke-width="0.9"/>
<circle cx="130.18" cy="350.62" r="2.34" fill="#fff" stroke="#009000" stroke-width="0.9"/>
<circle cx="127.19" cy="350.81" r="2.34" fill="#fff" stroke="#009000" stroke-width="0.9"/>
<circle cx="124.19" cy="351" r="2.34" fill="#fff" stroke="#009000" stroke-width="0.9"/>
<circle cx="121.2" cy="351.18" r="2.34" fill="#fff" stroke="#009000" stroke-width="0.9"/>
<circle cx="118.21" cy="351.37" r="2.34" fill="#fff" stroke="#009000" stroke-width="0.9"/>
<circle cx="115.21" cy="351.55" r="2.34" fill="#fff" stroke="#009000" stroke-width="0.9"/>
<circle cx="112.22" cy="351.74" r="2.34" fill="#fff" stroke="#009000" stroke-width="0.9"/>
<circle cx="109.22" cy="351.93" r="2.34" fill="#fff" stroke="#009000" stroke-width="0.9"/>
<circle cx="106.23" cy="352.11" r="2.34" fill="#fff" stroke="#009000" stroke-width="0.9"/>
<circle cx="103.23" cy="352.3" r="2.34" fill="#fff" stroke="#009000" stroke-width="0.9"/>
<circle cx="100.24" cy="352.49" r="2.34" fill="#fff" stroke="#009000" stroke-width="0.9"/>
<circle cx="97.24" cy="352.59" r="2.34" fill="#fff" stroke="#009000" stroke-width="0.9"/>
<circle cx="94.24" cy="352.69" r="2.34" fill="#fff" stroke="#009000" stroke-width="0.9"/>
<circle cx="91.25" cy="352.79" r="2.34" fill="#fff" stroke="#009000" stroke-width="0.9"/>
<circle cx="88.25" cy="352.89" r="2.34" fill="#fff" stroke="#009000" stroke-width="0.9"/>
<circle cx="85.25" cy="352.99" r="2.34" fill="#fff" stroke="#009000" stroke-width="0.9"/>
<circle cx="82.25" cy="353.09" r="2.34" fill="#fff" stroke="#009000" stroke-width="0.9"/>
<circle cx="79.25" cy="353.19" r="2.34" fill="#fff" stroke="#009000" stroke-width="0.9"/>
<circle cx="76.25" cy="353.29" r="2.34" fill="#fff" stroke="#009000" stroke-width="0.9"/>
<circle cx="73.25" cy="353.38" r="2.34" fill="#fff" stroke="#009000" stroke-width="0.9"/>
<circle cx="70.26" cy="353.48" r="2.34" fill="#fff" stroke="#009000" stroke-width="0.9"/>
<circle cx="67.26" cy="353.58" r="2.34" fill="#fff" stroke="#009000" stroke-width="0.9"/>
<circle cx="64.26" cy="353.68" r="2.34" fill="#fff" stroke="#009000" stroke-width="0.9"/>
<circle cx="61.26" cy="353.78" r="2.34" fill="#fff" stroke="#009000" stroke-width="0.9"/>
<circle cx="58.26" cy="353.88" r="2.34" fill="#fff" stroke="#009000" stroke-width="0.9"/>
<circle cx="55.26" cy="353.98" r="2.34" fill="#fff" stroke="#009000" stroke-width="0.9"/>
<circle cx="52.27" cy="354.08" r="2.34" fill="#fff" stroke="#009000" stroke-width="0.9"/>
<circle cx="49.27" cy="354.18" r="2.34" fill="#fff" stroke="#009000" stroke-width="0.9"/>
<circle cx="46.27" cy="354.28" r="2.34" fill="#fff" stroke="#009000" stroke-width="0.9"/>
<circle cx="43.27" cy="354.38" r="2.34" fill="#fff" stroke="#009000" stroke-width="0.9"/>
<circle cx="40.27" cy="354.47" r="2.34" fill="#fff" stroke="#009000" stroke-width="0.9"/>
<circle cx="39.1" cy="354.4" r="2.34" fill="#fff" stroke="#009000" stroke-width="0.9"/>
<circle cx="42.1" cy="354.33" r="2.34" fill="#fff" stroke="#009000" stroke-width="0.9"/>
<circle cx="45.1" cy="354.25" r="2.34" fill="#fff" stroke="#009000" stroke-width="0.9"/>
<circle cx="48.1" cy="354.18" r="2.34" fill="#fff" stroke="#009000" stroke-width="0.9"/>
<circle cx="51.1" cy="354.1" r="2.34" fill="#fff" stroke="#009000" stroke-width="0.9"/>
<circle cx="54.1" cy="354.03" r="2.34" fill="#fff" stroke="#009000" stroke-width="0.9"/>
<circle cx="57.09" cy="353.95" r="2.34" fill="#fff" stroke="#009000" stroke-width="0.9"/>
<circle cx="60.09" cy="353.88" r="2.34" fill="#fff" stroke="#009000" stroke-width="0.9"/>
<circle cx="63.09" cy="353.8" r="2.34" fill="#fff" stroke="#009000" stroke-width="0.9"/>
<circle cx="66.09" cy="353.73" r="2.34" fill="#fff" stroke="#009000" stroke-width="0.9"/>
<circle cx="69.09" cy="353.65" r="2.34" fill="#fff" stroke="#009000" stroke-width="0.9"/>
<circle cx="72.09" cy="353.58" r="2.34" fill="#fff" stroke="#009000" stroke-width="0.9"/>
<circle cx="75.09" cy="353.51" r="2.34" fill="#fff" stroke="#009000" stroke-width="0.9"/>
<circle cx="78.09" cy="353.43" r="2.34" fill="#fff" stroke="#009000" stroke-width="0.9"/>
<circle cx="81.09" cy="353.36" r="2.34" fill="#fff" stroke="#009000" stroke-width="0.9"/>
<circle cx="84.09" cy="353.28" r="2.34" fill="#fff" stroke="#009000" stroke-width="0.9"/>
<circle cx="87.09" cy="353.21" r="2.34" fill="#fff" stroke="#009000" stroke-width="0.9"/>
<circle cx="90.08" cy="353.13" r="2.34" fill="#fff" stroke="#009000" stroke-width="0.9"/>
<circle cx="93.08" cy="353.06" r="2.34" fill="#fff" stroke="#009000" stroke-width="0.9"/>
<circle cx="96.08" cy="352.98" r="2.34" fill="#fff" stroke="#009000" stroke-width="0.9"/>
<circle cx="99.08" cy="352.91" r="2.34" fill="#fff" stroke="#009000" stroke-width="0.9"/>
<circle cx="102.08" cy="352.84" r="2.34" fill="#fff" stroke="#009000" stroke-width="0.9"/>
<circle cx="105.08" cy="352.76" r="2.34" fill="#fff" stroke="#009000" stroke-width="0.9"/>
<circle cx="108.08" cy="352.69" r="2.34" fill="#fff" stroke="#009000" stroke-width="0.9"/>
<circle cx="111.08" cy="352.61" r="2.34" fill="#fff" stroke="#009000" stroke-width="0.9"/>
<circle cx="114.08" cy="352.54" r="2.34" fill="#fff" stroke="#009000" stroke-width="0.9"/>
<circle cx="117.08" cy="352.46" r="2.34" fill="#fff" stroke="#009000" stroke-width="0.9"/>
<circle cx="120.07" cy="352.36" r="2.34" fill="#fff" stroke="#009000" stroke-width="0.9"/>
<circle cx="123.06" cy="352.08" r="2.34" fill="#fff" stroke="#009000" stroke-width="0.9"/>
<circle cx="126.05" cy="351.8" r="2.34" fill="#fff" stroke="#009000" stroke-width="0.9"/>
<circle cx="129.03" cy="351.52" r="2.34" fill="#fff" stroke="#009000" stroke-width="0.9"/>
<circle cx="132.02" cy="351.24" r="2.34" fill="#fff" stroke="#009000" stroke-width="0.9"/>
<circle cx="135" cy="350.93" r="2.34" fill="#fff" stroke="#009000" stroke-width="0.9"/>
<circle cx="137.95" cy="350.39" r="2.34" fill="#fff" stroke="#009000" stroke-width="0.9"/>
<circle cx="140.91" cy="349.85" r="2.34" fill="#fff" stroke="#009000" stroke-width="0.9"/>
<circle cx="143.72" cy="349.06" r="2.34" fill="#fff" stroke="#009000" stroke-width="0.9"/>
<circle cx="145.8" cy="346.9" r="2.34" fill="#fff" stroke="#009000" stroke-width="0.9"/>
<circle cx="147.88" cy="344.74" r="2.34" fill="#fff" stroke="#009000" stroke-width="0.9"/>
<circle cx="149.96" cy="342.58" r="2.34" fill="#fff" stroke="#009000" stroke-width="0.9"/>
<circle cx="152.05" cy="340.42" r="2.34" fill="#fff" stroke="#009000" stroke-width="0.9"/>
<circle cx="154.13" cy="338.26" r="2.34" fill="#fff" stroke="#009000" stroke-width="0.9"/>
<circle cx="156.21" cy="336.1" r="2.34" fill="#fff" stroke="#009000" stroke-width="0.9"/>
<circle cx="156.3" cy="324" r="2.34" fill="#fff" stroke="#009000" stroke-width="0.9"/>
<circle cx="158.61" cy="322.09" r="2.34" fill="#fff" stroke="#009000" stroke-width="0.9"/>
<circle cx="160.93" cy="320.18" r="2.34" fill="#fff" stroke="#009000" stroke-width="0.9"/>
<circle cx="163.43" cy="318.75" r="2.34" fill="#fff" stroke="#009000" stroke-width="0.9"/>
<circle cx="166.42" cy="318.56" r="2.34" fill="#fff" stroke="#009000" stroke-width="0.9"/>
<circle cx="169.42" cy="318.38" r="2.34" fill="#fff" stroke="#009000" stroke-width="0.9"/>
<circle cx="172.41" cy="318.19" r="2.34" fill="#fff" stroke="#009000" stroke-width="0.9"/>
<circle cx="175.41" cy="318" r="2.34" fill="#fff" stroke="#009000" stroke-width="0.9"/>
<circle cx="178.4" cy="317.82" r="2.34" fill="#fff" stroke="#009000" stroke-width="0.9"/>
<circle cx="181.39" cy="317.63" r="2.34" fill="#fff" stroke="#009000" stroke-width="0.9"/>
<circle cx="184.39" cy="317.45" r="2.34" fill="#fff" stroke="#009000" stroke-width="0.9"/>
<circle cx="187.38" cy="317.26" r="2.34" fill="#fff" stroke="#009000" stroke-width="0.9"/>
<circle cx="190.38" cy="317.07" r="2.34" fill="#fff" stroke="#009000" stroke-width="0.9"/>
<circle cx="193.37" cy="316.89" r="2.34" fill="#fff" stroke="#009000" stroke-width="0.9"/>
<circle cx="196.37" cy="316.7" r="2.34" fill="#fff" stroke="#009000" stroke-width="0.9"/>
<circle cx="199.36" cy="316.51" r="2.34" fill="#fff" stroke="#009000" stroke-width="0.9"/>
<circle cx="202.36" cy="316.41" r="2.34" fill="#fff" stroke="#009000" stroke-width="0.9"/>
<circle cx="205.36" cy="316.31" r="2.34" fill="#fff" stroke="#009000" stroke-width="0.9"/>
<circle cx="208.35" cy="316.21" r="2.34" fill="#fff" stroke="#009000" stroke-width="0.9"/>
<circle cx="211.35" cy="316.11" r="2.34" fill="#fff" stroke="#009000" stroke-width="0.9"/>
<circle cx="214.35" cy="316.01" r="2.34" fill="#fff" stroke="#009000" stroke-width="0.9"/>
<circle cx="217.35" cy="315.91" r="2.34" fill="#fff" stroke="#009000" stroke-width="0.9"/>
<circle cx="220.35" cy="315.81" r="2.34" fill="#fff" stroke="#009000" stroke-width="0.9"/>
<circle cx="223.35" cy="315.71" r="2.34" fill="#fff" stroke="#009000" stroke-width="0.9"/>
<circle cx="226.35" cy="315.62" r="2.34" fill="#fff" stroke="#009000" stroke-width="0.9"/>
<circle cx="229.34" cy="315.52" r="2.34" fill="#fff" stroke="#009000" stroke-width="0.9"/>
<circle cx="232.34" cy="315.42" r="2.34" fill="#fff" stroke="#009000" stroke-width="0.9"/>
<circle cx="235.34" cy="315.32" r="2.34" fill="#fff" stroke="#009000" stroke-width="0.9"/>
<circle cx="238.34" cy="315.22" r="2.34" fill="#fff" stroke="#009000" stroke-width="0.9"/>
<circle cx="241.34" cy="315.12" r="2.34" fill="#fff" stroke="#009000" stroke-width="0.9"/>
<circle cx="244.34" cy="315.02" r="2.34" fill="#fff" stroke="#009000" stroke-width="0.9"/>
<circle cx="247.33" cy="314.92" r="2.34" fill="#fff" stroke="#009000" stroke-width="0.9"/>
<circle cx="250.33" cy="314.82" r="2.34" fill="#fff" stroke="#009000" stroke-width="0.9"/>
<circle cx="253.33" cy="314.72" r="2.34" fill="#fff" stroke="#009000" stroke-width="0.9"/>
<circle cx="256.33" cy="314.62" r="2.34" fill="#fff" stroke="#009000" stroke-width="0.9"/>
<circle cx="259.33" cy="314.53" r="2.34" fill="#fff" stroke="#009000" stroke-width="0.9"/>
<line x1="205.9" y1="362.4" x2="229.2" y2="362.4" stroke="#555555" stroke-width="1.3"/>
<rect x="216.48" y="360.78" width="3.23" height="3.23" fill="#fff" stroke="#000000" stroke-width="0.9"/>
<text x="255.5" y="366.3" font-size="11.5" text-anchor="end" >5 K</text>
<line x1="205.9" y1="376.6" x2="229.2" y2="376.6" stroke="#ee6464" stroke-width="1.3"/>
<circle cx="218.1" cy="376.6" r="1.71" fill="#fff" stroke="#ff1010" stroke-width="0.9"/>
<text x="255.5" y="380.5" font-size="11.5" text-anchor="end" >10 K</text>
<line x1="205.9" y1="390.8" x2="229.2" y2="390.8" stroke="#6464e6" stroke-width="1.3"/>
<polygon points="218.1,388.71 220,392.23 216.2,392.23" fill="#fff" stroke="#1010ff" stroke-width="0.9"/>
<text x="255.5" y="394.7" font-size="11.5" text-anchor="end" >20 K</text>
<line x1="205.9" y1="405" x2="229.2" y2="405" stroke="#f064f0" stroke-width="1.3"/>
<polygon points="218.1,407.09 220,403.57 216.2,403.57" fill="#fff" stroke="#ff10ff" stroke-width="0.9"/>
<text x="255.5" y="408.9" font-size="11.5" text-anchor="end" >30 K</text>
<line x1="205.9" y1="419.2" x2="229.2" y2="419.2" stroke="#40a840" stroke-width="1.3"/>
<circle cx="218.1" cy="419.2" r="1.71" fill="#fff" stroke="#009000" stroke-width="0.9"/>
<text x="255.5" y="423.1" font-size="11.5" text-anchor="end" >40 K</text>
<line x1="228.4" y1="261.3" x2="228.4" y2="252.1" stroke="#000" stroke-width="1.6"/><polygon points="226.2,252.6 230.6,252.6 228.4,246.1" fill="#000"/>
<line x1="235" y1="261.3" x2="235" y2="250.7" stroke="#800080" stroke-width="2.4"/><polygon points="231.5,251.2 238.5,251.2 235,240.2" fill="#800080"/>
<line x1="105.5" y1="363.1" x2="105.5" y2="354.6" stroke="#000" stroke-width="1.6"/><polygon points="103.3,355.1 107.7,355.1 105.5,348.6" fill="#000"/>
<line x1="112.1" y1="342.8" x2="112.1" y2="352.6" stroke="#800080" stroke-width="2.4"/><polygon points="108.6,352.1 115.6,352.1 112.1,363.1" fill="#800080"/>
<line x1="189.8" y1="307.8" x2="189.8" y2="315.3" stroke="#000" stroke-width="1.6"/><polygon points="187.6,314.8 192,314.8 189.8,321.3" fill="#000"/>
<line x1="196.2" y1="328.1" x2="196.2" y2="318.3" stroke="#800080" stroke-width="2.4"/><polygon points="192.7,318.8 199.7,318.8 196.2,307.8" fill="#800080"/>
<line x1="54.2" y1="407.7" x2="54.2" y2="414.3" stroke="#000" stroke-width="1.6"/><polygon points="52,413.8 56.4,413.8 54.2,420.3" fill="#000"/>
<line x1="61.3" y1="406.7" x2="61.3" y2="414.5" stroke="#800080" stroke-width="2.4"/><polygon points="57.8,414 64.8,414 61.3,425" fill="#800080"/>
<text x="242" y="252" font-size="13.5" text-anchor="start" >(d)</text>
<text x="46.6" y="251.9" font-size="10.6">t<tspan dy="3.6">top</tspan><tspan dy="-3.6">= 20 nm</tspan></text>
<polyline points="510.5,268.2 480,268.9 450,269.6 420,270.3 390,270.9 379,271.2" fill="none" stroke="#555555" stroke-width="1.45" stroke-linejoin="round"/>
<polyline points="378,270.6 375.3,279 373.5,330 373,396" fill="none" stroke="#555555" stroke-width="1.45" stroke-linejoin="round"/>
<polyline points="290.1,399.2 320.6,398.5 350.6,397.8 380.6,397.1 410.6,396.5 421.6,396.2" fill="none" stroke="#555555" stroke-width="1.45" stroke-linejoin="round"/>
<polyline points="422.6,396.8 425.3,388.4 427.1,337.4 427.6,271.4" fill="none" stroke="#555555" stroke-width="1.45" stroke-linejoin="round"/>
<rect x="508.76" y="266.46" width="3.48" height="3.48" fill="#fff" stroke="#000000" stroke-width="1.1"/>
<rect x="506.16" y="266.52" width="3.48" height="3.48" fill="#fff" stroke="#000000" stroke-width="1.1"/>
<rect x="503.56" y="266.58" width="3.48" height="3.48" fill="#fff" stroke="#000000" stroke-width="1.1"/>
<rect x="500.96" y="266.64" width="3.48" height="3.48" fill="#fff" stroke="#000000" stroke-width="1.1"/>
<rect x="498.36" y="266.7" width="3.48" height="3.48" fill="#fff" stroke="#000000" stroke-width="1.1"/>
<rect x="495.76" y="266.76" width="3.48" height="3.48" fill="#fff" stroke="#000000" stroke-width="1.1"/>
<rect x="493.16" y="266.82" width="3.48" height="3.48" fill="#fff" stroke="#000000" stroke-width="1.1"/>
<rect x="490.56" y="266.88" width="3.48" height="3.48" fill="#fff" stroke="#000000" stroke-width="1.1"/>
<rect x="487.96" y="266.93" width="3.48" height="3.48" fill="#fff" stroke="#000000" stroke-width="1.1"/>
<rect x="485.36" y="266.99" width="3.48" height="3.48" fill="#fff" stroke="#000000" stroke-width="1.1"/>
<rect x="482.76" y="267.05" width="3.48" height="3.48" fill="#fff" stroke="#000000" stroke-width="1.1"/>
<rect x="480.17" y="267.11" width="3.48" height="3.48" fill="#fff" stroke="#000000" stroke-width="1.1"/>
<rect x="477.57" y="267.17" width="3.48" height="3.48" fill="#fff" stroke="#000000" stroke-width="1.1"/>
<rect x="474.97" y="267.23" width="3.48" height="3.48" fill="#fff" stroke="#000000" stroke-width="1.1"/>
<rect x="472.37" y="267.29" width="3.48" height="3.48" fill="#fff" stroke="#000000" stroke-width="1.1"/>
<rect x="469.77" y="267.36" width="3.48" height="3.48" fill="#fff" stroke="#000000" stroke-width="1.1"/>
<rect x="467.17" y="267.42" width="3.48" height="3.48" fill="#fff" stroke="#000000" stroke-width="1.1"/>
<rect x="464.57" y="267.48" width="3.48" height="3.48" fill="#fff" stroke="#000000" stroke-width="1.1"/>
<rect x="461.97" y="267.54" width="3.48" height="3.48" fill="#fff" stroke="#000000" stroke-width="1.1"/>
<rect x="459.37" y="267.6" width="3.48" height="3.48" fill="#fff" stroke="#000000" stroke-width="1.1"/>
<rect x="456.77" y="267.66" width="3.48" height="3.48" fill="#fff" stroke="#000000" stroke-width="1.1"/>
<rect x="454.17" y="267.72" width="3.48" height="3.48" fill="#fff" stroke="#000000" stroke-width="1.1"/>
<rect x="451.57" y="267.78" width="3.48" height="3.48" fill="#fff" stroke="#000000" stroke-width="1.1"/>
<rect x="448.97" y="267.84" width="3.48" height="3.48" fill="#fff" stroke="#000000" stroke-width="1.1"/>
<rect x="446.37" y="267.9" width="3.48" height="3.48" fill="#fff" stroke="#000000" stroke-width="1.1"/>
<rect x="443.77" y="267.96" width="3.48" height="3.48" fill="#fff" stroke="#000000" stroke-width="1.1"/>
<rect x="441.18" y="268.02" width="3.48" height="3.48" fill="#fff" stroke="#000000" stroke-width="1.1"/>
<rect x="438.58" y="268.08" width="3.48" height="3.48" fill="#fff" stroke="#000000" stroke-width="1.1"/>
<rect x="435.98" y="268.14" width="3.48" height="3.48" fill="#fff" stroke="#000000" stroke-width="1.1"/>
<rect x="433.38" y="268.2" width="3.48" height="3.48" fill="#fff" stroke="#000000" stroke-width="1.1"/>
<rect x="430.78" y="268.27" width="3.48" height="3.48" fill="#fff" stroke="#000000" stroke-width="1.1"/>
<rect x="428.18" y="268.33" width="3.48" height="3.48" fill="#fff" stroke="#000000" stroke-width="1.1"/>
<rect x="425.58" y="268.39" width="3.48" height="3.48" fill="#fff" stroke="#000000" stroke-width="1.1"/>
<rect x="422.98" y="268.45" width="3.48" height="3.48" fill="#fff" stroke="#000000" stroke-width="1.1"/>
<rect x="420.38" y="268.51" width="3.48" height="3.48" fill="#fff" stroke="#000000" stroke-width="1.1"/>
<rect x="417.78" y="268.57" width="3.48" height="3.48" fill="#fff" stroke="#000000" stroke-width="1.1"/>
<rect x="415.18" y="268.62" width="3.48" height="3.48" fill="#fff" stroke="#000000" stroke-width="1.1"/>
<rect x="412.58" y="268.67" width="3.48" height="3.48" fill="#fff" stroke="#000000" stroke-width="1.1"/>
<rect x="409.98" y="268.72" width="3.48" height="3.48" fill="#fff" stroke="#000000" stroke-width="1.1"/>
<rect x="407.38" y="268.77" width="3.48" height="3.48" fill="#fff" stroke="#000000" stroke-width="1.1"/>
<rect x="404.78" y="268.83" width="3.48" height="3.48" fill="#fff" stroke="#000000" stroke-width="1.1"/>
<rect x="402.19" y="268.88" width="3.48" height="3.48" fill="#fff" stroke="#000000" stroke-width="1.1"/>
<rect x="399.59" y="268.93" width="3.48" height="3.48" fill="#fff" stroke="#000000" stroke-width="1.1"/>
<rect x="396.99" y="268.98" width="3.48" height="3.48" fill="#fff" stroke="#000000" stroke-width="1.1"/>
<rect x="394.39" y="269.03" width="3.48" height="3.48" fill="#fff" stroke="#000000" stroke-width="1.1"/>
<rect x="391.79" y="269.09" width="3.48" height="3.48" fill="#fff" stroke="#000000" stroke-width="1.1"/>
<rect x="389.19" y="269.14" width="3.48" height="3.48" fill="#fff" stroke="#000000" stroke-width="1.1"/>
<rect x="386.59" y="269.2" width="3.48" height="3.48" fill="#fff" stroke="#000000" stroke-width="1.1"/>
<rect x="383.99" y="269.27" width="3.48" height="3.48" fill="#fff" stroke="#000000" stroke-width="1.1"/>
<rect x="381.39" y="269.34" width="3.48" height="3.48" fill="#fff" stroke="#000000" stroke-width="1.1"/>
<rect x="378.79" y="269.42" width="3.48" height="3.48" fill="#fff" stroke="#000000" stroke-width="1.1"/>
<polyline points="510.5,268.2 470,269.1" fill="none" stroke="#000000" stroke-width="3.4" stroke-linejoin="round" stroke-linecap="butt"/>
<polyline points="510.5,268.2 470,269.1" fill="none" stroke="#fff" stroke-opacity="0.3" stroke-width="1.02" stroke-dasharray="0.9 2.1" stroke-linejoin="round"/>
<rect x="288.36" y="397.46" width="3.48" height="3.48" fill="#fff" stroke="#000000" stroke-width="1.1"/>
<rect x="290.96" y="397.4" width="3.48" height="3.48" fill="#fff" stroke="#000000" stroke-width="1.1"/>
<rect x="293.56" y="397.34" width="3.48" height="3.48" fill="#fff" stroke="#000000" stroke-width="1.1"/>
<rect x="296.16" y="397.28" width="3.48" height="3.48" fill="#fff" stroke="#000000" stroke-width="1.1"/>
<rect x="298.75" y="397.22" width="3.48" height="3.48" fill="#fff" stroke="#000000" stroke-width="1.1"/>
<rect x="301.35" y="397.16" width="3.48" height="3.48" fill="#fff" stroke="#000000" stroke-width="1.1"/>
<rect x="303.95" y="397.1" width="3.48" height="3.48" fill="#fff" stroke="#000000" stroke-width="1.1"/>
<rect x="306.55" y="397.04" width="3.48" height="3.48" fill="#fff" stroke="#000000" stroke-width="1.1"/>
<rect x="309.15" y="396.98" width="3.48" height="3.48" fill="#fff" stroke="#000000" stroke-width="1.1"/>
<rect x="311.75" y="396.92" width="3.48" height="3.48" fill="#fff" stroke="#000000" stroke-width="1.1"/>
<rect x="314.35" y="396.86" width="3.48" height="3.48" fill="#fff" stroke="#000000" stroke-width="1.1"/>
<rect x="316.95" y="396.8" width="3.48" height="3.48" fill="#fff" stroke="#000000" stroke-width="1.1"/>
<rect x="319.55" y="396.74" width="3.48" height="3.48" fill="#fff" stroke="#000000" stroke-width="1.1"/>
<rect x="322.15" y="396.68" width="3.48" height="3.48" fill="#fff" stroke="#000000" stroke-width="1.1"/>
<rect x="324.75" y="396.62" width="3.48" height="3.48" fill="#fff" stroke="#000000" stroke-width="1.1"/>
<rect x="327.35" y="396.56" width="3.48" height="3.48" fill="#fff" stroke="#000000" stroke-width="1.1"/>
<rect x="329.95" y="396.5" width="3.48" height="3.48" fill="#fff" stroke="#000000" stroke-width="1.1"/>
<rect x="332.55" y="396.44" width="3.48" height="3.48" fill="#fff" stroke="#000000" stroke-width="1.1"/>
<rect x="335.15" y="396.38" width="3.48" height="3.48" fill="#fff" stroke="#000000" stroke-width="1.1"/>
<rect x="337.74" y="396.32" width="3.48" height="3.48" fill="#fff" stroke="#000000" stroke-width="1.1"/>
<rect x="340.34" y="396.26" width="3.48" height="3.48" fill="#fff" stroke="#000000" stroke-width="1.1"/>
<rect x="342.94" y="396.2" width="3.48" height="3.48" fill="#fff" stroke="#000000" stroke-width="1.1"/>
<rect x="345.54" y="396.13" width="3.48" height="3.48" fill="#fff" stroke="#000000" stroke-width="1.1"/>
<rect x="348.14" y="396.07" width="3.48" height="3.48" fill="#fff" stroke="#000000" stroke-width="1.1"/>
<rect x="350.74" y="396.01" width="3.48" height="3.48" fill="#fff" stroke="#000000" stroke-width="1.1"/>
<rect x="353.34" y="395.95" width="3.48" height="3.48" fill="#fff" stroke="#000000" stroke-width="1.1"/>
<rect x="355.94" y="395.89" width="3.48" height="3.48" fill="#fff" stroke="#000000" stroke-width="1.1"/>
<rect x="358.54" y="395.83" width="3.48" height="3.48" fill="#fff" stroke="#000000" stroke-width="1.1"/>
<rect x="361.14" y="395.77" width="3.48" height="3.48" fill="#fff" stroke="#000000" stroke-width="1.1"/>
<rect x="363.74" y="395.71" width="3.48" height="3.48" fill="#fff" stroke="#000000" stroke-width="1.1"/>
<rect x="366.34" y="395.65" width="3.48" height="3.48" fill="#fff" stroke="#000000" stroke-width="1.1"/>
<rect x="368.94" y="395.59" width="3.48" height="3.48" fill="#fff" stroke="#000000" stroke-width="1.1"/>
<rect x="371.54" y="395.53" width="3.48" height="3.48" fill="#fff" stroke="#000000" stroke-width="1.1"/>
<rect x="374.13" y="395.47" width="3.48" height="3.48" fill="#fff" stroke="#000000" stroke-width="1.1"/>
<rect x="376.73" y="395.41" width="3.48" height="3.48" fill="#fff" stroke="#000000" stroke-width="1.1"/>
<rect x="379.33" y="395.35" width="3.48" height="3.48" fill="#fff" stroke="#000000" stroke-width="1.1"/>
<rect x="381.93" y="395.3" width="3.48" height="3.48" fill="#fff" stroke="#000000" stroke-width="1.1"/>
<rect x="384.53" y="395.24" width="3.48" height="3.48" fill="#fff" stroke="#000000" stroke-width="1.1"/>
<rect x="387.13" y="395.19" width="3.48" height="3.48" fill="#fff" stroke="#000000" stroke-width="1.1"/>
<rect x="389.73" y="395.14" width="3.48" height="3.48" fill="#fff" stroke="#000000" stroke-width="1.1"/>
<rect x="392.33" y="395.09" width="3.48" height="3.48" fill="#fff" stroke="#000000" stroke-width="1.1"/>
<rect x="394.93" y="395.04" width="3.48" height="3.48" fill="#fff" stroke="#000000" stroke-width="1.1"/>
<rect x="397.53" y="394.98" width="3.48" height="3.48" fill="#fff" stroke="#000000" stroke-width="1.1"/>
<rect x="400.13" y="394.93" width="3.48" height="3.48" fill="#fff" stroke="#000000" stroke-width="1.1"/>
<rect x="402.73" y="394.88" width="3.48" height="3.48" fill="#fff" stroke="#000000" stroke-width="1.1"/>
<rect x="405.33" y="394.83" width="3.48" height="3.48" fill="#fff" stroke="#000000" stroke-width="1.1"/>
<rect x="407.93" y="394.78" width="3.48" height="3.48" fill="#fff" stroke="#000000" stroke-width="1.1"/>
<rect x="410.53" y="394.71" width="3.48" height="3.48" fill="#fff" stroke="#000000" stroke-width="1.1"/>
<rect x="413.13" y="394.64" width="3.48" height="3.48" fill="#fff" stroke="#000000" stroke-width="1.1"/>
<rect x="415.72" y="394.57" width="3.48" height="3.48" fill="#fff" stroke="#000000" stroke-width="1.1"/>
<rect x="418.32" y="394.5" width="3.48" height="3.48" fill="#fff" stroke="#000000" stroke-width="1.1"/>
<polyline points="290.1,399.2 330.6,398.3" fill="none" stroke="#000000" stroke-width="3.4" stroke-linejoin="round" stroke-linecap="butt"/>
<polyline points="290.1,399.2 330.6,398.3" fill="none" stroke="#fff" stroke-opacity="0.3" stroke-width="1.02" stroke-dasharray="0.9 2.1" stroke-linejoin="round"/>
<rect x="373.36" y="279.56" width="3.48" height="3.48" fill="#fff" stroke="#000000" stroke-width="1.1"/>
<rect x="423.76" y="384.36" width="3.48" height="3.48" fill="#fff" stroke="#000000" stroke-width="1.1"/>
<polyline points="510.5,274.4 450,273.9 400,273.4 386,273.3 383.5,275.5" fill="none" stroke="#ee6464" stroke-width="1.45" stroke-linejoin="round"/>
<polyline points="383.3,275 383,300 381.7,368 381.5,393" fill="none" stroke="#ee6464" stroke-width="1.45" stroke-linejoin="round"/>
<polyline points="290.1,393 350.6,393.5 400.6,394 414.6,394.1 417.1,391.9" fill="none" stroke="#ee6464" stroke-width="1.45" stroke-linejoin="round"/>
<polyline points="417.3,392.4 417.6,367.4 418.9,299.4 419.1,274.4" fill="none" stroke="#ee6464" stroke-width="1.45" stroke-linejoin="round"/>
<circle cx="510.5" cy="274.4" r="1.84" fill="#fff" stroke="#ff1010" stroke-width="1.1"/>
<circle cx="507.9" cy="274.38" r="1.84" fill="#fff" stroke="#ff1010" stroke-width="1.1"/>
<circle cx="505.3" cy="274.36" r="1.84" fill="#fff" stroke="#ff1010" stroke-width="1.1"/>
<circle cx="502.7" cy="274.34" r="1.84" fill="#fff" stroke="#ff1010" stroke-width="1.1"/>
<circle cx="500.1" cy="274.31" r="1.84" fill="#fff" stroke="#ff1010" stroke-width="1.1"/>
<circle cx="497.5" cy="274.29" r="1.84" fill="#fff" stroke="#ff1010" stroke-width="1.1"/>
<circle cx="494.9" cy="274.27" r="1.84" fill="#fff" stroke="#ff1010" stroke-width="1.1"/>
<circle cx="492.3" cy="274.25" r="1.84" fill="#fff" stroke="#ff1010" stroke-width="1.1"/>
<circle cx="489.7" cy="274.23" r="1.84" fill="#fff" stroke="#ff1010" stroke-width="1.1"/>
<circle cx="487.1" cy="274.21" r="1.84" fill="#fff" stroke="#ff1010" stroke-width="1.1"/>
<circle cx="484.5" cy="274.19" r="1.84" fill="#fff" stroke="#ff1010" stroke-width="1.1"/>
<circle cx="481.9" cy="274.16" r="1.84" fill="#fff" stroke="#ff1010" stroke-width="1.1"/>
<circle cx="479.3" cy="274.14" r="1.84" fill="#fff" stroke="#ff1010" stroke-width="1.1"/>
<circle cx="476.7" cy="274.12" r="1.84" fill="#fff" stroke="#ff1010" stroke-width="1.1"/>
<circle cx="474.1" cy="274.1" r="1.84" fill="#fff" stroke="#ff1010" stroke-width="1.1"/>
<circle cx="471.5" cy="274.08" r="1.84" fill="#fff" stroke="#ff1010" stroke-width="1.1"/>
<circle cx="468.9" cy="274.06" r="1.84" fill="#fff" stroke="#ff1010" stroke-width="1.1"/>
<circle cx="466.3" cy="274.03" r="1.84" fill="#fff" stroke="#ff1010" stroke-width="1.1"/>
<circle cx="463.7" cy="274.01" r="1.84" fill="#fff" stroke="#ff1010" stroke-width="1.1"/>
<circle cx="461.1" cy="273.99" r="1.84" fill="#fff" stroke="#ff1010" stroke-width="1.1"/>
<circle cx="458.5" cy="273.97" r="1.84" fill="#fff" stroke="#ff1010" stroke-width="1.1"/>
<circle cx="455.9" cy="273.95" r="1.84" fill="#fff" stroke="#ff1010" stroke-width="1.1"/>
<circle cx="453.3" cy="273.93" r="1.84" fill="#fff" stroke="#ff1010" stroke-width="1.1"/>
<circle cx="450.7" cy="273.91" r="1.84" fill="#fff" stroke="#ff1010" stroke-width="1.1"/>
<circle cx="448.1" cy="273.88" r="1.84" fill="#fff" stroke="#ff1010" stroke-width="1.1"/>
<circle cx="445.5" cy="273.86" r="1.84" fill="#fff" stroke="#ff1010" stroke-width="1.1"/>
<circle cx="442.9" cy="273.83" r="1.84" fill="#fff" stroke="#ff1010" stroke-width="1.1"/>
<circle cx="440.3" cy="273.8" r="1.84" fill="#fff" stroke="#ff1010" stroke-width="1.1"/>
<circle cx="437.7" cy="273.78" r="1.84" fill="#fff" stroke="#ff1010" stroke-width="1.1"/>
<circle cx="435.1" cy="273.75" r="1.84" fill="#fff" stroke="#ff1010" stroke-width="1.1"/>
<circle cx="432.5" cy="273.73" r="1.84" fill="#fff" stroke="#ff1010" stroke-width="1.1"/>
<circle cx="429.9" cy="273.7" r="1.84" fill="#fff" stroke="#ff1010" stroke-width="1.1"/>
<circle cx="427.3" cy="273.67" r="1.84" fill="#fff" stroke="#ff1010" stroke-width="1.1"/>
<circle cx="424.7" cy="273.65" r="1.84" fill="#fff" stroke="#ff1010" stroke-width="1.1"/>
<circle cx="422.1" cy="273.62" r="1.84" fill="#fff" stroke="#ff1010" stroke-width="1.1"/>
<circle cx="419.5" cy="273.6" r="1.84" fill="#fff" stroke="#ff1010" stroke-width="1.1"/>
<circle cx="416.9" cy="273.57" r="1.84" fill="#fff" stroke="#ff1010" stroke-width="1.1"/>
<circle cx="414.3" cy="273.54" r="1.84" fill="#fff" stroke="#ff1010" stroke-width="1.1"/>
<circle cx="411.7" cy="273.52" r="1.84" fill="#fff" stroke="#ff1010" stroke-width="1.1"/>
<circle cx="409.1" cy="273.49" r="1.84" fill="#fff" stroke="#ff1010" stroke-width="1.1"/>
<circle cx="406.5" cy="273.47" r="1.84" fill="#fff" stroke="#ff1010" stroke-width="1.1"/>
<circle cx="403.9" cy="273.44" r="1.84" fill="#fff" stroke="#ff1010" stroke-width="1.1"/>
<circle cx="401.3" cy="273.41" r="1.84" fill="#fff" stroke="#ff1010" stroke-width="1.1"/>
<circle cx="398.7" cy="273.39" r="1.84" fill="#fff" stroke="#ff1010" stroke-width="1.1"/>
<circle cx="396.1" cy="273.37" r="1.84" fill="#fff" stroke="#ff1010" stroke-width="1.1"/>
<circle cx="393.5" cy="273.35" r="1.84" fill="#fff" stroke="#ff1010" stroke-width="1.1"/>
<circle cx="390.9" cy="273.34" r="1.84" fill="#fff" stroke="#ff1010" stroke-width="1.1"/>
<circle cx="388.3" cy="273.32" r="1.84" fill="#fff" stroke="#ff1010" stroke-width="1.1"/>
<circle cx="385.78" cy="273.49" r="1.84" fill="#fff" stroke="#ff1010" stroke-width="1.1"/>
<circle cx="383.83" cy="275.21" r="1.84" fill="#fff" stroke="#ff1010" stroke-width="1.1"/>
<circle cx="290.1" cy="393" r="1.84" fill="#fff" stroke="#ff1010" stroke-width="1.1"/>
<circle cx="292.7" cy="393.02" r="1.84" fill="#fff" stroke="#ff1010" stroke-width="1.1"/>
<circle cx="295.3" cy="393.04" r="1.84" fill="#fff" stroke="#ff1010" stroke-width="1.1"/>
<circle cx="297.9" cy="393.06" r="1.84" fill="#fff" stroke="#ff1010" stroke-width="1.1"/>
<circle cx="300.5" cy="393.09" r="1.84" fill="#fff" stroke="#ff1010" stroke-width="1.1"/>
<circle cx="303.1" cy="393.11" r="1.84" fill="#fff" stroke="#ff1010" stroke-width="1.1"/>
<circle cx="305.7" cy="393.13" r="1.84" fill="#fff" stroke="#ff1010" stroke-width="1.1"/>
<circle cx="308.3" cy="393.15" r="1.84" fill="#fff" stroke="#ff1010" stroke-width="1.1"/>
<circle cx="310.9" cy="393.17" r="1.84" fill="#fff" stroke="#ff1010" stroke-width="1.1"/>
<circle cx="313.5" cy="393.19" r="1.84" fill="#fff" stroke="#ff1010" stroke-width="1.1"/>
<circle cx="316.1" cy="393.21" r="1.84" fill="#fff" stroke="#ff1010" stroke-width="1.1"/>
<circle cx="318.7" cy="393.24" r="1.84" fill="#fff" stroke="#ff1010" stroke-width="1.1"/>
<circle cx="321.3" cy="393.26" r="1.84" fill="#fff" stroke="#ff1010" stroke-width="1.1"/>
<circle cx="323.9" cy="393.28" r="1.84" fill="#fff" stroke="#ff1010" stroke-width="1.1"/>
<circle cx="326.5" cy="393.3" r="1.84" fill="#fff" stroke="#ff1010" stroke-width="1.1"/>
<circle cx="329.1" cy="393.32" r="1.84" fill="#fff" stroke="#ff1010" stroke-width="1.1"/>
<circle cx="331.7" cy="393.34" r="1.84" fill="#fff" stroke="#ff1010" stroke-width="1.1"/>
<circle cx="334.3" cy="393.37" r="1.84" fill="#fff" stroke="#ff1010" stroke-width="1.1"/>
<circle cx="336.9" cy="393.39" r="1.84" fill="#fff" stroke="#ff1010" stroke-width="1.1"/>
<circle cx="339.5" cy="393.41" r="1.84" fill="#fff" stroke="#ff1010" stroke-width="1.1"/>
<circle cx="342.1" cy="393.43" r="1.84" fill="#fff" stroke="#ff1010" stroke-width="1.1"/>
<circle cx="344.7" cy="393.45" r="1.84" fill="#fff" stroke="#ff1010" stroke-width="1.1"/>
<circle cx="347.3" cy="393.47" r="1.84" fill="#fff" stroke="#ff1010" stroke-width="1.1"/>
<circle cx="349.9" cy="393.49" r="1.84" fill="#fff" stroke="#ff1010" stroke-width="1.1"/>
<circle cx="352.5" cy="393.52" r="1.84" fill="#fff" stroke="#ff1010" stroke-width="1.1"/>
<circle cx="355.1" cy="393.54" r="1.84" fill="#fff" stroke="#ff1010" stroke-width="1.1"/>
<circle cx="357.7" cy="393.57" r="1.84" fill="#fff" stroke="#ff1010" stroke-width="1.1"/>
<circle cx="360.3" cy="393.6" r="1.84" fill="#fff" stroke="#ff1010" stroke-width="1.1"/>
<circle cx="362.9" cy="393.62" r="1.84" fill="#fff" stroke="#ff1010" stroke-width="1.1"/>
<circle cx="365.5" cy="393.65" r="1.84" fill="#fff" stroke="#ff1010" stroke-width="1.1"/>
<circle cx="368.1" cy="393.67" r="1.84" fill="#fff" stroke="#ff1010" stroke-width="1.1"/>
<circle cx="370.7" cy="393.7" r="1.84" fill="#fff" stroke="#ff1010" stroke-width="1.1"/>
<circle cx="373.3" cy="393.73" r="1.84" fill="#fff" stroke="#ff1010" stroke-width="1.1"/>
<circle cx="375.9" cy="393.75" r="1.84" fill="#fff" stroke="#ff1010" stroke-width="1.1"/>
<circle cx="378.5" cy="393.78" r="1.84" fill="#fff" stroke="#ff1010" stroke-width="1.1"/>
<circle cx="381.1" cy="393.8" r="1.84" fill="#fff" stroke="#ff1010" stroke-width="1.1"/>
<circle cx="383.7" cy="393.83" r="1.84" fill="#fff" stroke="#ff1010" stroke-width="1.1"/>
<circle cx="386.3" cy="393.86" r="1.84" fill="#fff" stroke="#ff1010" stroke-width="1.1"/>
<circle cx="388.9" cy="393.88" r="1.84" fill="#fff" stroke="#ff1010" stroke-width="1.1"/>
<circle cx="391.5" cy="393.91" r="1.84" fill="#fff" stroke="#ff1010" stroke-width="1.1"/>
<circle cx="394.1" cy="393.93" r="1.84" fill="#fff" stroke="#ff1010" stroke-width="1.1"/>
<circle cx="396.7" cy="393.96" r="1.84" fill="#fff" stroke="#ff1010" stroke-width="1.1"/>
<circle cx="399.3" cy="393.99" r="1.84" fill="#fff" stroke="#ff1010" stroke-width="1.1"/>
<circle cx="401.9" cy="394.01" r="1.84" fill="#fff" stroke="#ff1010" stroke-width="1.1"/>
<circle cx="404.5" cy="394.03" r="1.84" fill="#fff" stroke="#ff1010" stroke-width="1.1"/>
<circle cx="407.1" cy="394.05" r="1.84" fill="#fff" stroke="#ff1010" stroke-width="1.1"/>
<circle cx="409.7" cy="394.06" r="1.84" fill="#fff" stroke="#ff1010" stroke-width="1.1"/>
<circle cx="412.3" cy="394.08" r="1.84" fill="#fff" stroke="#ff1010" stroke-width="1.1"/>
<circle cx="414.82" cy="393.91" r="1.84" fill="#fff" stroke="#ff1010" stroke-width="1.1"/>
<circle cx="416.77" cy="392.19" r="1.84" fill="#fff" stroke="#ff1010" stroke-width="1.1"/>
<circle cx="381.8" cy="368" r="1.84" fill="#fff" stroke="#ff1010" stroke-width="1.1"/>
<circle cx="418.8" cy="299.4" r="1.84" fill="#fff" stroke="#ff1010" stroke-width="1.1"/>
<polyline points="510.5,278.8 450,278 400,277.2 389,277 386.4,279.5" fill="none" stroke="#6464e6" stroke-width="1.45" stroke-linejoin="round"/>
<polyline points="386.2,279 385.4,389" fill="none" stroke="#6464e6" stroke-width="1.45" stroke-linejoin="round"/>
<polyline points="290.1,388.6 350.6,389.4 400.6,390.2 411.6,390.4 414.2,387.9" fill="none" stroke="#6464e6" stroke-width="1.45" stroke-linejoin="round"/>
<polyline points="414.4,388.4 415.2,278.4" fill="none" stroke="#6464e6" stroke-width="1.45" stroke-linejoin="round"/>
<polygon points="510.5,276.55 512.55,280.34 508.45,280.34" fill="#fff" stroke="#1010ff" stroke-width="1.1"/>
<polygon points="507.9,276.51 509.95,280.3 505.85,280.3" fill="#fff" stroke="#1010ff" stroke-width="1.1"/>
<polygon points="505.3,276.48 507.35,280.27 503.25,280.27" fill="#fff" stroke="#1010ff" stroke-width="1.1"/>
<polygon points="502.7,276.44 504.75,280.23 500.65,280.23" fill="#fff" stroke="#1010ff" stroke-width="1.1"/>
<polygon points="500.1,276.41 502.15,280.2 498.05,280.2" fill="#fff" stroke="#1010ff" stroke-width="1.1"/>
<polygon points="497.5,276.37 499.55,280.17 495.45,280.17" fill="#fff" stroke="#1010ff" stroke-width="1.1"/>
<polygon points="494.9,276.34 496.95,280.13 492.85,280.13" fill="#fff" stroke="#1010ff" stroke-width="1.1"/>
<polygon points="492.3,276.3 494.35,280.1 490.25,280.1" fill="#fff" stroke="#1010ff" stroke-width="1.1"/>
<polygon points="489.7,276.27 491.75,280.06 487.65,280.06" fill="#fff" stroke="#1010ff" stroke-width="1.1"/>
<polygon points="487.1,276.24 489.15,280.03 485.05,280.03" fill="#fff" stroke="#1010ff" stroke-width="1.1"/>
<polygon points="484.5,276.2 486.55,279.99 482.45,279.99" fill="#fff" stroke="#1010ff" stroke-width="1.1"/>
<polygon points="481.9,276.17 483.95,279.96 479.85,279.96" fill="#fff" stroke="#1010ff" stroke-width="1.1"/>
<polygon points="479.3,276.13 481.35,279.92 477.25,279.92" fill="#fff" stroke="#1010ff" stroke-width="1.1"/>
<polygon points="476.7,276.1 478.75,279.89 474.65,279.89" fill="#fff" stroke="#1010ff" stroke-width="1.1"/>
<polygon points="474.1,276.06 476.15,279.86 472.05,279.86" fill="#fff" stroke="#1010ff" stroke-width="1.1"/>
<polygon points="471.5,276.03 473.55,279.82 469.45,279.82" fill="#fff" stroke="#1010ff" stroke-width="1.1"/>
<polygon points="468.9,275.99 470.95,279.79 466.85,279.79" fill="#fff" stroke="#1010ff" stroke-width="1.1"/>
<polygon points="466.3,275.96 468.35,279.75 464.25,279.75" fill="#fff" stroke="#1010ff" stroke-width="1.1"/>
<polygon points="463.7,275.93 465.75,279.72 461.65,279.72" fill="#fff" stroke="#1010ff" stroke-width="1.1"/>
<polygon points="461.1,275.89 463.15,279.68 459.05,279.68" fill="#fff" stroke="#1010ff" stroke-width="1.1"/>
<polygon points="458.5,275.86 460.55,279.65 456.45,279.65" fill="#fff" stroke="#1010ff" stroke-width="1.1"/>
<polygon points="455.9,275.82 457.95,279.62 453.85,279.62" fill="#fff" stroke="#1010ff" stroke-width="1.1"/>
<polygon points="453.31,275.79 455.36,279.58 451.26,279.58" fill="#fff" stroke="#1010ff" stroke-width="1.1"/>
<polygon points="450.71,275.75 452.76,279.55 448.66,279.55" fill="#fff" stroke="#1010ff" stroke-width="1.1"/>
<polygon points="448.11,275.71 450.16,279.51 446.06,279.51" fill="#fff" stroke="#1010ff" stroke-width="1.1"/>
<polygon points="445.51,275.67 447.56,279.47 443.46,279.47" fill="#fff" stroke="#1010ff" stroke-width="1.1"/>
<polygon points="442.91,275.63 444.96,279.42 440.86,279.42" fill="#fff" stroke="#1010ff" stroke-width="1.1"/>
<polygon points="440.31,275.59 442.36,279.38 438.26,279.38" fill="#fff" stroke="#1010ff" stroke-width="1.1"/>
<polygon points="437.71,275.55 439.76,279.34 435.66,279.34" fill="#fff" stroke="#1010ff" stroke-width="1.1"/>
<polygon points="435.11,275.51 437.16,279.3 433.06,279.3" fill="#fff" stroke="#1010ff" stroke-width="1.1"/>
<polygon points="432.51,275.47 434.56,279.26 430.46,279.26" fill="#fff" stroke="#1010ff" stroke-width="1.1"/>
<polygon points="429.91,275.42 431.96,279.22 427.86,279.22" fill="#fff" stroke="#1010ff" stroke-width="1.1"/>
<polygon points="427.31,275.38 429.36,279.17 425.26,279.17" fill="#fff" stroke="#1010ff" stroke-width="1.1"/>
<polygon points="424.71,275.34 426.76,279.13 422.66,279.13" fill="#fff" stroke="#1010ff" stroke-width="1.1"/>
<polygon points="422.11,275.3 424.16,279.09 420.06,279.09" fill="#fff" stroke="#1010ff" stroke-width="1.1"/>
<polygon points="419.51,275.26 421.56,279.05 417.46,279.05" fill="#fff" stroke="#1010ff" stroke-width="1.1"/>
<polygon points="416.91,275.22 418.96,279.01 414.86,279.01" fill="#fff" stroke="#1010ff" stroke-width="1.1"/>
<polygon points="414.31,275.17 416.36,278.97 412.26,278.97" fill="#fff" stroke="#1010ff" stroke-width="1.1"/>
<polygon points="411.71,275.13 413.76,278.92 409.66,278.92" fill="#fff" stroke="#1010ff" stroke-width="1.1"/>
<polygon points="409.11,275.09 411.16,278.88 407.06,278.88" fill="#fff" stroke="#1010ff" stroke-width="1.1"/>
<polygon points="406.51,275.05 408.56,278.84 404.46,278.84" fill="#fff" stroke="#1010ff" stroke-width="1.1"/>
<polygon points="403.91,275.01 405.96,278.8 401.86,278.8" fill="#fff" stroke="#1010ff" stroke-width="1.1"/>
<polygon points="401.31,274.97 403.36,278.76 399.26,278.76" fill="#fff" stroke="#1010ff" stroke-width="1.1"/>
<polygon points="398.71,274.92 400.76,278.71 396.66,278.71" fill="#fff" stroke="#1010ff" stroke-width="1.1"/>
<polygon points="396.11,274.87 398.16,278.67 394.06,278.67" fill="#fff" stroke="#1010ff" stroke-width="1.1"/>
<polygon points="393.51,274.83 395.56,278.62 391.46,278.62" fill="#fff" stroke="#1010ff" stroke-width="1.1"/>
<polygon points="390.91,274.78 392.96,278.57 388.86,278.57" fill="#fff" stroke="#1010ff" stroke-width="1.1"/>
<polygon points="388.51,275.22 390.56,279.01 386.46,279.01" fill="#fff" stroke="#1010ff" stroke-width="1.1"/>
<polygon points="386.63,277.02 388.68,280.82 384.58,280.82" fill="#fff" stroke="#1010ff" stroke-width="1.1"/>
<polygon points="290.1,386.34 292.15,390.14 288.05,390.14" fill="#fff" stroke="#1010ff" stroke-width="1.1"/>
<polygon points="292.7,386.38 294.75,390.17 290.65,390.17" fill="#fff" stroke="#1010ff" stroke-width="1.1"/>
<polygon points="295.3,386.41 297.35,390.21 293.25,390.21" fill="#fff" stroke="#1010ff" stroke-width="1.1"/>
<polygon points="297.9,386.45 299.95,390.24 295.85,390.24" fill="#fff" stroke="#1010ff" stroke-width="1.1"/>
<polygon points="300.5,386.48 302.55,390.28 298.45,390.28" fill="#fff" stroke="#1010ff" stroke-width="1.1"/>
<polygon points="303.1,386.52 305.15,390.31 301.05,390.31" fill="#fff" stroke="#1010ff" stroke-width="1.1"/>
<polygon points="305.7,386.55 307.75,390.34 303.65,390.34" fill="#fff" stroke="#1010ff" stroke-width="1.1"/>
<polygon points="308.3,386.59 310.35,390.38 306.25,390.38" fill="#fff" stroke="#1010ff" stroke-width="1.1"/>
<polygon points="310.9,386.62 312.95,390.41 308.85,390.41" fill="#fff" stroke="#1010ff" stroke-width="1.1"/>
<polygon points="313.5,386.65 315.55,390.45 311.45,390.45" fill="#fff" stroke="#1010ff" stroke-width="1.1"/>
<polygon points="316.1,386.69 318.15,390.48 314.05,390.48" fill="#fff" stroke="#1010ff" stroke-width="1.1"/>
<polygon points="318.7,386.72 320.75,390.52 316.65,390.52" fill="#fff" stroke="#1010ff" stroke-width="1.1"/>
<polygon points="321.3,386.76 323.35,390.55 319.25,390.55" fill="#fff" stroke="#1010ff" stroke-width="1.1"/>
<polygon points="323.9,386.79 325.95,390.58 321.85,390.58" fill="#fff" stroke="#1010ff" stroke-width="1.1"/>
<polygon points="326.5,386.83 328.55,390.62 324.45,390.62" fill="#fff" stroke="#1010ff" stroke-width="1.1"/>
<polygon points="329.1,386.86 331.15,390.65 327.05,390.65" fill="#fff" stroke="#1010ff" stroke-width="1.1"/>
<polygon points="331.7,386.9 333.75,390.69 329.65,390.69" fill="#fff" stroke="#1010ff" stroke-width="1.1"/>
<polygon points="334.3,386.93 336.35,390.72 332.25,390.72" fill="#fff" stroke="#1010ff" stroke-width="1.1"/>
<polygon points="336.9,386.96 338.95,390.76 334.85,390.76" fill="#fff" stroke="#1010ff" stroke-width="1.1"/>
<polygon points="339.5,387 341.55,390.79 337.45,390.79" fill="#fff" stroke="#1010ff" stroke-width="1.1"/>
<polygon points="342.1,387.03 344.15,390.83 340.05,390.83" fill="#fff" stroke="#1010ff" stroke-width="1.1"/>
<polygon points="344.7,387.07 346.75,390.86 342.65,390.86" fill="#fff" stroke="#1010ff" stroke-width="1.1"/>
<polygon points="347.29,387.1 349.34,390.89 345.24,390.89" fill="#fff" stroke="#1010ff" stroke-width="1.1"/>
<polygon points="349.89,387.14 351.94,390.93 347.84,390.93" fill="#fff" stroke="#1010ff" stroke-width="1.1"/>
<polygon points="352.49,387.18 354.54,390.97 350.44,390.97" fill="#fff" stroke="#1010ff" stroke-width="1.1"/>
<polygon points="355.09,387.22 357.14,391.01 353.04,391.01" fill="#fff" stroke="#1010ff" stroke-width="1.1"/>
<polygon points="357.69,387.26 359.74,391.05 355.64,391.05" fill="#fff" stroke="#1010ff" stroke-width="1.1"/>
<polygon points="360.29,387.3 362.34,391.09 358.24,391.09" fill="#fff" stroke="#1010ff" stroke-width="1.1"/>
<polygon points="362.89,387.34 364.94,391.13 360.84,391.13" fill="#fff" stroke="#1010ff" stroke-width="1.1"/>
<polygon points="365.49,387.38 367.54,391.18 363.44,391.18" fill="#fff" stroke="#1010ff" stroke-width="1.1"/>
<polygon points="368.09,387.42 370.14,391.22 366.04,391.22" fill="#fff" stroke="#1010ff" stroke-width="1.1"/>
<polygon points="370.69,387.47 372.74,391.26 368.64,391.26" fill="#fff" stroke="#1010ff" stroke-width="1.1"/>
<polygon points="373.29,387.51 375.34,391.3 371.24,391.3" fill="#fff" stroke="#1010ff" stroke-width="1.1"/>
<polygon points="375.89,387.55 377.94,391.34 373.84,391.34" fill="#fff" stroke="#1010ff" stroke-width="1.1"/>
<polygon points="378.49,387.59 380.54,391.38 376.44,391.38" fill="#fff" stroke="#1010ff" stroke-width="1.1"/>
<polygon points="381.09,387.63 383.14,391.43 379.04,391.43" fill="#fff" stroke="#1010ff" stroke-width="1.1"/>
<polygon points="383.69,387.67 385.74,391.47 381.64,391.47" fill="#fff" stroke="#1010ff" stroke-width="1.1"/>
<polygon points="386.29,387.72 388.34,391.51 384.24,391.51" fill="#fff" stroke="#1010ff" stroke-width="1.1"/>
<polygon points="388.89,387.76 390.94,391.55 386.84,391.55" fill="#fff" stroke="#1010ff" stroke-width="1.1"/>
<polygon points="391.49,387.8 393.54,391.59 389.44,391.59" fill="#fff" stroke="#1010ff" stroke-width="1.1"/>
<polygon points="394.09,387.84 396.14,391.63 392.04,391.63" fill="#fff" stroke="#1010ff" stroke-width="1.1"/>
<polygon points="396.69,387.88 398.74,391.67 394.64,391.67" fill="#fff" stroke="#1010ff" stroke-width="1.1"/>
<polygon points="399.29,387.92 401.34,391.72 397.24,391.72" fill="#fff" stroke="#1010ff" stroke-width="1.1"/>
<polygon points="401.89,387.97 403.94,391.76 399.84,391.76" fill="#fff" stroke="#1010ff" stroke-width="1.1"/>
<polygon points="404.49,388.02 406.54,391.81 402.44,391.81" fill="#fff" stroke="#1010ff" stroke-width="1.1"/>
<polygon points="407.09,388.06 409.14,391.86 405.04,391.86" fill="#fff" stroke="#1010ff" stroke-width="1.1"/>
<polygon points="409.69,388.11 411.74,391.9 407.64,391.9" fill="#fff" stroke="#1010ff" stroke-width="1.1"/>
<polygon points="412.09,387.67 414.14,391.46 410.04,391.46" fill="#fff" stroke="#1010ff" stroke-width="1.1"/>
<polygon points="413.97,385.87 416.02,389.66 411.92,389.66" fill="#fff" stroke="#1010ff" stroke-width="1.1"/>
<polyline points="510.5,283.2 450,282.2 400,281.2 392,281 389.4,283.5" fill="none" stroke="#f064f0" stroke-width="1.45" stroke-linejoin="round"/>
<polyline points="389.2,283 389.2,385" fill="none" stroke="#f064f0" stroke-width="1.45" stroke-linejoin="round"/>
<polyline points="290.1,384.2 350.6,385.2 400.6,386.2 408.6,386.4 411.2,383.9" fill="none" stroke="#f064f0" stroke-width="1.45" stroke-linejoin="round"/>
<polyline points="411.4,384.4 411.4,282.4" fill="none" stroke="#f064f0" stroke-width="1.45" stroke-linejoin="round"/>
<polygon points="510.5,285.45 512.55,281.66 508.45,281.66" fill="#fff" stroke="#ff10ff" stroke-width="1.1"/>
<polygon points="507.9,285.41 509.95,281.62 505.85,281.62" fill="#fff" stroke="#ff10ff" stroke-width="1.1"/>
<polygon points="505.3,285.37 507.35,281.58 503.25,281.58" fill="#fff" stroke="#ff10ff" stroke-width="1.1"/>
<polygon points="502.7,285.33 504.75,281.53 500.65,281.53" fill="#fff" stroke="#ff10ff" stroke-width="1.1"/>
<polygon points="500.1,285.28 502.15,281.49 498.05,281.49" fill="#fff" stroke="#ff10ff" stroke-width="1.1"/>
<polygon points="497.5,285.24 499.55,281.45 495.45,281.45" fill="#fff" stroke="#ff10ff" stroke-width="1.1"/>
<polygon points="494.9,285.2 496.95,281.4 492.85,281.4" fill="#fff" stroke="#ff10ff" stroke-width="1.1"/>
<polygon points="492.3,285.15 494.35,281.36 490.25,281.36" fill="#fff" stroke="#ff10ff" stroke-width="1.1"/>
<polygon points="489.7,285.11 491.75,281.32 487.65,281.32" fill="#fff" stroke="#ff10ff" stroke-width="1.1"/>
<polygon points="487.1,285.07 489.15,281.28 485.05,281.28" fill="#fff" stroke="#ff10ff" stroke-width="1.1"/>
<polygon points="484.5,285.03 486.55,281.23 482.45,281.23" fill="#fff" stroke="#ff10ff" stroke-width="1.1"/>
<polygon points="481.9,284.98 483.95,281.19 479.85,281.19" fill="#fff" stroke="#ff10ff" stroke-width="1.1"/>
<polygon points="479.3,284.94 481.35,281.15 477.25,281.15" fill="#fff" stroke="#ff10ff" stroke-width="1.1"/>
<polygon points="476.7,284.9 478.75,281.1 474.65,281.1" fill="#fff" stroke="#ff10ff" stroke-width="1.1"/>
<polygon points="474.1,284.85 476.15,281.06 472.05,281.06" fill="#fff" stroke="#ff10ff" stroke-width="1.1"/>
<polygon points="471.51,284.81 473.56,281.02 469.46,281.02" fill="#fff" stroke="#ff10ff" stroke-width="1.1"/>
<polygon points="468.91,284.77 470.96,280.97 466.86,280.97" fill="#fff" stroke="#ff10ff" stroke-width="1.1"/>
<polygon points="466.31,284.72 468.36,280.93 464.26,280.93" fill="#fff" stroke="#ff10ff" stroke-width="1.1"/>
<polygon points="463.71,284.68 465.76,280.89 461.66,280.89" fill="#fff" stroke="#ff10ff" stroke-width="1.1"/>
<polygon points="461.11,284.64 463.16,280.85 459.06,280.85" fill="#fff" stroke="#ff10ff" stroke-width="1.1"/>
<polygon points="458.51,284.6 460.56,280.8 456.46,280.8" fill="#fff" stroke="#ff10ff" stroke-width="1.1"/>
<polygon points="455.91,284.55 457.96,280.76 453.86,280.76" fill="#fff" stroke="#ff10ff" stroke-width="1.1"/>
<polygon points="453.31,284.51 455.36,280.72 451.26,280.72" fill="#fff" stroke="#ff10ff" stroke-width="1.1"/>
<polygon points="450.71,284.47 452.76,280.67 448.66,280.67" fill="#fff" stroke="#ff10ff" stroke-width="1.1"/>
<polygon points="448.11,284.42 450.16,280.62 446.06,280.62" fill="#fff" stroke="#ff10ff" stroke-width="1.1"/>
<polygon points="445.51,284.37 447.56,280.57 443.46,280.57" fill="#fff" stroke="#ff10ff" stroke-width="1.1"/>
<polygon points="442.91,284.31 444.96,280.52 440.86,280.52" fill="#fff" stroke="#ff10ff" stroke-width="1.1"/>
<polygon points="440.31,284.26 442.36,280.47 438.26,280.47" fill="#fff" stroke="#ff10ff" stroke-width="1.1"/>
<polygon points="437.71,284.21 439.76,280.42 435.66,280.42" fill="#fff" stroke="#ff10ff" stroke-width="1.1"/>
<polygon points="435.11,284.16 437.16,280.36 433.06,280.36" fill="#fff" stroke="#ff10ff" stroke-width="1.1"/>
<polygon points="432.51,284.11 434.56,280.31 430.46,280.31" fill="#fff" stroke="#ff10ff" stroke-width="1.1"/>
<polygon points="429.91,284.05 431.96,280.26 427.86,280.26" fill="#fff" stroke="#ff10ff" stroke-width="1.1"/>
<polygon points="427.31,284 429.36,280.21 425.26,280.21" fill="#fff" stroke="#ff10ff" stroke-width="1.1"/>
<polygon points="424.71,283.95 426.76,280.16 422.66,280.16" fill="#fff" stroke="#ff10ff" stroke-width="1.1"/>
<polygon points="422.11,283.9 424.16,280.1 420.06,280.1" fill="#fff" stroke="#ff10ff" stroke-width="1.1"/>
<polygon points="419.51,283.85 421.56,280.05 417.46,280.05" fill="#fff" stroke="#ff10ff" stroke-width="1.1"/>
<polygon points="416.91,283.79 418.96,280 414.86,280" fill="#fff" stroke="#ff10ff" stroke-width="1.1"/>
<polygon points="414.32,283.74 416.37,279.95 412.27,279.95" fill="#fff" stroke="#ff10ff" stroke-width="1.1"/>
<polygon points="411.72,283.69 413.77,279.9 409.67,279.9" fill="#fff" stroke="#ff10ff" stroke-width="1.1"/>
<polygon points="409.12,283.64 411.17,279.84 407.07,279.84" fill="#fff" stroke="#ff10ff" stroke-width="1.1"/>
<polygon points="406.52,283.59 408.57,279.79 404.47,279.79" fill="#fff" stroke="#ff10ff" stroke-width="1.1"/>
<polygon points="403.92,283.53 405.97,279.74 401.87,279.74" fill="#fff" stroke="#ff10ff" stroke-width="1.1"/>
<polygon points="401.32,283.48 403.37,279.69 399.27,279.69" fill="#fff" stroke="#ff10ff" stroke-width="1.1"/>
<polygon points="398.72,283.42 400.77,279.63 396.67,279.63" fill="#fff" stroke="#ff10ff" stroke-width="1.1"/>
<polygon points="396.12,283.36 398.17,279.57 394.07,279.57" fill="#fff" stroke="#ff10ff" stroke-width="1.1"/>
<polygon points="393.52,283.29 395.57,279.5 391.47,279.5" fill="#fff" stroke="#ff10ff" stroke-width="1.1"/>
<polygon points="391.22,284 393.27,280.21 389.17,280.21" fill="#fff" stroke="#ff10ff" stroke-width="1.1"/>
<polygon points="290.1,386.45 292.15,382.66 288.05,382.66" fill="#fff" stroke="#ff10ff" stroke-width="1.1"/>
<polygon points="292.7,386.5 294.75,382.71 290.65,382.71" fill="#fff" stroke="#ff10ff" stroke-width="1.1"/>
<polygon points="295.3,386.54 297.35,382.75 293.25,382.75" fill="#fff" stroke="#ff10ff" stroke-width="1.1"/>
<polygon points="297.9,386.58 299.95,382.79 295.85,382.79" fill="#fff" stroke="#ff10ff" stroke-width="1.1"/>
<polygon points="300.5,386.63 302.55,382.83 298.45,382.83" fill="#fff" stroke="#ff10ff" stroke-width="1.1"/>
<polygon points="303.1,386.67 305.15,382.88 301.05,382.88" fill="#fff" stroke="#ff10ff" stroke-width="1.1"/>
<polygon points="305.7,386.71 307.75,382.92 303.65,382.92" fill="#fff" stroke="#ff10ff" stroke-width="1.1"/>
<polygon points="308.3,386.76 310.35,382.96 306.25,382.96" fill="#fff" stroke="#ff10ff" stroke-width="1.1"/>
<polygon points="310.9,386.8 312.95,383.01 308.85,383.01" fill="#fff" stroke="#ff10ff" stroke-width="1.1"/>
<polygon points="313.5,386.84 315.55,383.05 311.45,383.05" fill="#fff" stroke="#ff10ff" stroke-width="1.1"/>
<polygon points="316.1,386.88 318.15,383.09 314.05,383.09" fill="#fff" stroke="#ff10ff" stroke-width="1.1"/>
<polygon points="318.7,386.93 320.75,383.14 316.65,383.14" fill="#fff" stroke="#ff10ff" stroke-width="1.1"/>
<polygon points="321.3,386.97 323.35,383.18 319.25,383.18" fill="#fff" stroke="#ff10ff" stroke-width="1.1"/>
<polygon points="323.9,387.01 325.95,383.22 321.85,383.22" fill="#fff" stroke="#ff10ff" stroke-width="1.1"/>
<polygon points="326.5,387.06 328.55,383.26 324.45,383.26" fill="#fff" stroke="#ff10ff" stroke-width="1.1"/>
<polygon points="329.09,387.1 331.14,383.31 327.04,383.31" fill="#fff" stroke="#ff10ff" stroke-width="1.1"/>
<polygon points="331.69,387.14 333.74,383.35 329.64,383.35" fill="#fff" stroke="#ff10ff" stroke-width="1.1"/>
<polygon points="334.29,387.19 336.34,383.39 332.24,383.39" fill="#fff" stroke="#ff10ff" stroke-width="1.1"/>
<polygon points="336.89,387.23 338.94,383.44 334.84,383.44" fill="#fff" stroke="#ff10ff" stroke-width="1.1"/>
<polygon points="339.49,387.27 341.54,383.48 337.44,383.48" fill="#fff" stroke="#ff10ff" stroke-width="1.1"/>
<polygon points="342.09,387.31 344.14,383.52 340.04,383.52" fill="#fff" stroke="#ff10ff" stroke-width="1.1"/>
<polygon points="344.69,387.36 346.74,383.56 342.64,383.56" fill="#fff" stroke="#ff10ff" stroke-width="1.1"/>
<polygon points="347.29,387.4 349.34,383.61 345.24,383.61" fill="#fff" stroke="#ff10ff" stroke-width="1.1"/>
<polygon points="349.89,387.44 351.94,383.65 347.84,383.65" fill="#fff" stroke="#ff10ff" stroke-width="1.1"/>
<polygon points="352.49,387.49 354.54,383.7 350.44,383.7" fill="#fff" stroke="#ff10ff" stroke-width="1.1"/>
<polygon points="355.09,387.54 357.14,383.75 353.04,383.75" fill="#fff" stroke="#ff10ff" stroke-width="1.1"/>
<polygon points="357.69,387.6 359.74,383.8 355.64,383.8" fill="#fff" stroke="#ff10ff" stroke-width="1.1"/>
<polygon points="360.29,387.65 362.34,383.86 358.24,383.86" fill="#fff" stroke="#ff10ff" stroke-width="1.1"/>
<polygon points="362.89,387.7 364.94,383.91 360.84,383.91" fill="#fff" stroke="#ff10ff" stroke-width="1.1"/>
<polygon points="365.49,387.75 367.54,383.96 363.44,383.96" fill="#fff" stroke="#ff10ff" stroke-width="1.1"/>
<polygon points="368.09,387.8 370.14,384.01 366.04,384.01" fill="#fff" stroke="#ff10ff" stroke-width="1.1"/>
<polygon points="370.69,387.86 372.74,384.06 368.64,384.06" fill="#fff" stroke="#ff10ff" stroke-width="1.1"/>
<polygon points="373.29,387.91 375.34,384.12 371.24,384.12" fill="#fff" stroke="#ff10ff" stroke-width="1.1"/>
<polygon points="375.89,387.96 377.94,384.17 373.84,384.17" fill="#fff" stroke="#ff10ff" stroke-width="1.1"/>
<polygon points="378.49,388.01 380.54,384.22 376.44,384.22" fill="#fff" stroke="#ff10ff" stroke-width="1.1"/>
<polygon points="381.09,388.06 383.14,384.27 379.04,384.27" fill="#fff" stroke="#ff10ff" stroke-width="1.1"/>
<polygon points="383.69,388.12 385.74,384.32 381.64,384.32" fill="#fff" stroke="#ff10ff" stroke-width="1.1"/>
<polygon points="386.28,388.17 388.33,384.38 384.23,384.38" fill="#fff" stroke="#ff10ff" stroke-width="1.1"/>
<polygon points="388.88,388.22 390.93,384.43 386.83,384.43" fill="#fff" stroke="#ff10ff" stroke-width="1.1"/>
<polygon points="391.48,388.27 393.53,384.48 389.43,384.48" fill="#fff" stroke="#ff10ff" stroke-width="1.1"/>
<polygon points="394.08,388.32 396.13,384.53 392.03,384.53" fill="#fff" stroke="#ff10ff" stroke-width="1.1"/>
<polygon points="396.68,388.38 398.73,384.58 394.63,384.58" fill="#fff" stroke="#ff10ff" stroke-width="1.1"/>
<polygon points="399.28,388.43 401.33,384.64 397.23,384.64" fill="#fff" stroke="#ff10ff" stroke-width="1.1"/>
<polygon points="401.88,388.49 403.93,384.69 399.83,384.69" fill="#fff" stroke="#ff10ff" stroke-width="1.1"/>
<polygon points="404.48,388.55 406.53,384.76 402.43,384.76" fill="#fff" stroke="#ff10ff" stroke-width="1.1"/>
<polygon points="407.08,388.62 409.13,384.82 405.03,384.82" fill="#fff" stroke="#ff10ff" stroke-width="1.1"/>
<polygon points="409.38,387.91 411.43,384.11 407.33,384.11" fill="#fff" stroke="#ff10ff" stroke-width="1.1"/>
<polyline points="510.5,288.7 450,287.6 400,286.3 395.5,286 392.6,289" fill="none" stroke="#40a840" stroke-width="1.45" stroke-linejoin="round"/>
<polyline points="392.5,288.5 392,377" fill="none" stroke="#40a840" stroke-width="1.45" stroke-linejoin="round"/>
<polyline points="290.1,378.7 350.6,379.8 400.6,381.1 405.1,381.4 408,378.4" fill="none" stroke="#40a840" stroke-width="1.45" stroke-linejoin="round"/>
<polyline points="408.1,378.9 408.6,290.4" fill="none" stroke="#40a840" stroke-width="1.45" stroke-linejoin="round"/>
<polygon points="510.5,286.34 512.45,288.7 510.5,291.06 508.55,288.7" fill="#fff" stroke="#009000" stroke-width="1.1"/>
<polygon points="507.9,286.3 509.85,288.65 507.9,291.01 505.95,288.65" fill="#fff" stroke="#009000" stroke-width="1.1"/>
<polygon points="505.3,286.25 507.25,288.61 505.3,290.96 503.35,288.61" fill="#fff" stroke="#009000" stroke-width="1.1"/>
<polygon points="502.7,286.2 504.65,288.56 502.7,290.92 500.75,288.56" fill="#fff" stroke="#009000" stroke-width="1.1"/>
<polygon points="500.1,286.15 502.05,288.51 500.1,290.87 498.15,288.51" fill="#fff" stroke="#009000" stroke-width="1.1"/>
<polygon points="497.5,286.11 499.45,288.46 497.5,290.82 495.55,288.46" fill="#fff" stroke="#009000" stroke-width="1.1"/>
<polygon points="494.9,286.06 496.85,288.42 494.9,290.77 492.96,288.42" fill="#fff" stroke="#009000" stroke-width="1.1"/>
<polygon points="492.3,286.01 494.25,288.37 492.3,290.73 490.36,288.37" fill="#fff" stroke="#009000" stroke-width="1.1"/>
<polygon points="489.7,285.96 491.65,288.32 489.7,290.68 487.76,288.32" fill="#fff" stroke="#009000" stroke-width="1.1"/>
<polygon points="487.1,285.92 489.05,288.27 487.1,290.63 485.16,288.27" fill="#fff" stroke="#009000" stroke-width="1.1"/>
<polygon points="484.5,285.87 486.45,288.23 484.5,290.58 482.56,288.23" fill="#fff" stroke="#009000" stroke-width="1.1"/>
<polygon points="481.9,285.82 483.85,288.18 481.9,290.54 479.96,288.18" fill="#fff" stroke="#009000" stroke-width="1.1"/>
<polygon points="479.31,285.78 481.25,288.13 479.31,290.49 477.36,288.13" fill="#fff" stroke="#009000" stroke-width="1.1"/>
<polygon points="476.71,285.73 478.65,288.09 476.71,290.44 474.76,288.09" fill="#fff" stroke="#009000" stroke-width="1.1"/>
<polygon points="474.11,285.68 476.05,288.04 474.11,290.4 472.16,288.04" fill="#fff" stroke="#009000" stroke-width="1.1"/>
<polygon points="471.51,285.63 473.45,287.99 471.51,290.35 469.56,287.99" fill="#fff" stroke="#009000" stroke-width="1.1"/>
<polygon points="468.91,285.59 470.85,287.94 468.91,290.3 466.96,287.94" fill="#fff" stroke="#009000" stroke-width="1.1"/>
<polygon points="466.31,285.54 468.25,287.9 466.31,290.25 464.36,287.9" fill="#fff" stroke="#009000" stroke-width="1.1"/>
<polygon points="463.71,285.49 465.66,287.85 463.71,290.21 461.76,287.85" fill="#fff" stroke="#009000" stroke-width="1.1"/>
<polygon points="461.11,285.44 463.06,287.8 461.11,290.16 459.16,287.8" fill="#fff" stroke="#009000" stroke-width="1.1"/>
<polygon points="458.51,285.4 460.46,287.75 458.51,290.11 456.56,287.75" fill="#fff" stroke="#009000" stroke-width="1.1"/>
<polygon points="455.91,285.35 457.86,287.71 455.91,290.06 453.96,287.71" fill="#fff" stroke="#009000" stroke-width="1.1"/>
<polygon points="453.31,285.3 455.26,287.66 453.31,290.02 451.36,287.66" fill="#fff" stroke="#009000" stroke-width="1.1"/>
<polygon points="450.71,285.26 452.66,287.61 450.71,289.97 448.76,287.61" fill="#fff" stroke="#009000" stroke-width="1.1"/>
<polygon points="448.11,285.19 450.06,287.55 448.11,289.91 446.16,287.55" fill="#fff" stroke="#009000" stroke-width="1.1"/>
<polygon points="445.51,285.13 447.46,287.48 445.51,289.84 443.56,287.48" fill="#fff" stroke="#009000" stroke-width="1.1"/>
<polygon points="442.91,285.06 444.86,287.42 442.91,289.77 440.96,287.42" fill="#fff" stroke="#009000" stroke-width="1.1"/>
<polygon points="440.31,284.99 442.26,287.35 440.31,289.71 438.37,287.35" fill="#fff" stroke="#009000" stroke-width="1.1"/>
<polygon points="437.71,284.92 439.66,287.28 437.71,289.64 435.77,287.28" fill="#fff" stroke="#009000" stroke-width="1.1"/>
<polygon points="435.12,284.86 437.06,287.21 435.12,289.57 433.17,287.21" fill="#fff" stroke="#009000" stroke-width="1.1"/>
<polygon points="432.52,284.79 434.46,287.15 432.52,289.5 430.57,287.15" fill="#fff" stroke="#009000" stroke-width="1.1"/>
<polygon points="429.92,284.72 431.86,287.08 429.92,289.44 427.97,287.08" fill="#fff" stroke="#009000" stroke-width="1.1"/>
<polygon points="427.32,284.65 429.27,287.01 427.32,289.37 425.37,287.01" fill="#fff" stroke="#009000" stroke-width="1.1"/>
<polygon points="424.72,284.59 426.67,286.94 424.72,289.3 422.77,286.94" fill="#fff" stroke="#009000" stroke-width="1.1"/>
<polygon points="422.12,284.52 424.07,286.88 422.12,289.23 420.17,286.88" fill="#fff" stroke="#009000" stroke-width="1.1"/>
<polygon points="419.52,284.45 421.47,286.81 419.52,289.17 417.57,286.81" fill="#fff" stroke="#009000" stroke-width="1.1"/>
<polygon points="416.92,284.38 418.87,286.74 416.92,289.1 414.97,286.74" fill="#fff" stroke="#009000" stroke-width="1.1"/>
<polygon points="414.32,284.31 416.27,286.67 414.32,289.03 412.37,286.67" fill="#fff" stroke="#009000" stroke-width="1.1"/>
<polygon points="411.72,284.25 413.67,286.6 411.72,288.96 409.78,286.6" fill="#fff" stroke="#009000" stroke-width="1.1"/>
<polygon points="409.12,284.18 411.07,286.54 409.12,288.89 407.18,286.54" fill="#fff" stroke="#009000" stroke-width="1.1"/>
<polygon points="406.52,284.11 408.47,286.47 406.52,288.83 404.58,286.47" fill="#fff" stroke="#009000" stroke-width="1.1"/>
<polygon points="403.93,284.04 405.87,286.4 403.93,288.76 401.98,286.4" fill="#fff" stroke="#009000" stroke-width="1.1"/>
<polygon points="401.33,283.98 403.27,286.33 401.33,288.69 399.38,286.33" fill="#fff" stroke="#009000" stroke-width="1.1"/>
<polygon points="398.73,283.86 400.68,286.22 398.73,288.57 396.78,286.22" fill="#fff" stroke="#009000" stroke-width="1.1"/>
<polygon points="396.14,283.68 398.08,286.04 396.14,288.4 394.19,286.04" fill="#fff" stroke="#009000" stroke-width="1.1"/>
<polygon points="394.14,285.05 396.08,287.41 394.14,289.77 392.19,287.41" fill="#fff" stroke="#009000" stroke-width="1.1"/>
<polygon points="290.1,376.34 292.05,378.7 290.1,381.06 288.15,378.7" fill="#fff" stroke="#009000" stroke-width="1.1"/>
<polygon points="292.7,376.39 294.65,378.75 292.7,381.1 290.75,378.75" fill="#fff" stroke="#009000" stroke-width="1.1"/>
<polygon points="295.3,376.44 297.25,378.79 295.3,381.15 293.35,378.79" fill="#fff" stroke="#009000" stroke-width="1.1"/>
<polygon points="297.9,376.48 299.85,378.84 297.9,381.2 295.95,378.84" fill="#fff" stroke="#009000" stroke-width="1.1"/>
<polygon points="300.5,376.53 302.45,378.89 300.5,381.25 298.55,378.89" fill="#fff" stroke="#009000" stroke-width="1.1"/>
<polygon points="303.1,376.58 305.05,378.94 303.1,381.29 301.15,378.94" fill="#fff" stroke="#009000" stroke-width="1.1"/>
<polygon points="305.7,376.63 307.64,378.98 305.7,381.34 303.75,378.98" fill="#fff" stroke="#009000" stroke-width="1.1"/>
<polygon points="308.3,376.67 310.24,379.03 308.3,381.39 306.35,379.03" fill="#fff" stroke="#009000" stroke-width="1.1"/>
<polygon points="310.9,376.72 312.84,379.08 310.9,381.44 308.95,379.08" fill="#fff" stroke="#009000" stroke-width="1.1"/>
<polygon points="313.5,376.77 315.44,379.13 313.5,381.48 311.55,379.13" fill="#fff" stroke="#009000" stroke-width="1.1"/>
<polygon points="316.1,376.82 318.04,379.17 316.1,381.53 314.15,379.17" fill="#fff" stroke="#009000" stroke-width="1.1"/>
<polygon points="318.7,376.86 320.64,379.22 318.7,381.58 316.75,379.22" fill="#fff" stroke="#009000" stroke-width="1.1"/>
<polygon points="321.29,376.91 323.24,379.27 321.29,381.62 319.35,379.27" fill="#fff" stroke="#009000" stroke-width="1.1"/>
<polygon points="323.89,376.96 325.84,379.31 323.89,381.67 321.95,379.31" fill="#fff" stroke="#009000" stroke-width="1.1"/>
<polygon points="326.49,377 328.44,379.36 326.49,381.72 324.55,379.36" fill="#fff" stroke="#009000" stroke-width="1.1"/>
<polygon points="329.09,377.05 331.04,379.41 329.09,381.77 327.15,379.41" fill="#fff" stroke="#009000" stroke-width="1.1"/>
<polygon points="331.69,377.1 333.64,379.46 331.69,381.81 329.75,379.46" fill="#fff" stroke="#009000" stroke-width="1.1"/>
<polygon points="334.29,377.15 336.24,379.5 334.29,381.86 332.35,379.5" fill="#fff" stroke="#009000" stroke-width="1.1"/>
<polygon points="336.89,377.19 338.84,379.55 336.89,381.91 334.94,379.55" fill="#fff" stroke="#009000" stroke-width="1.1"/>
<polygon points="339.49,377.24 341.44,379.6 339.49,381.96 337.54,379.6" fill="#fff" stroke="#009000" stroke-width="1.1"/>
<polygon points="342.09,377.29 344.04,379.65 342.09,382 340.14,379.65" fill="#fff" stroke="#009000" stroke-width="1.1"/>
<polygon points="344.69,377.34 346.64,379.69 344.69,382.05 342.74,379.69" fill="#fff" stroke="#009000" stroke-width="1.1"/>
<polygon points="347.29,377.38 349.24,379.74 347.29,382.1 345.34,379.74" fill="#fff" stroke="#009000" stroke-width="1.1"/>
<polygon points="349.89,377.43 351.84,379.79 349.89,382.14 347.94,379.79" fill="#fff" stroke="#009000" stroke-width="1.1"/>
<polygon points="352.49,377.49 354.44,379.85 352.49,382.21 350.54,379.85" fill="#fff" stroke="#009000" stroke-width="1.1"/>
<polygon points="355.09,377.56 357.04,379.92 355.09,382.27 353.14,379.92" fill="#fff" stroke="#009000" stroke-width="1.1"/>
<polygon points="357.69,377.63 359.64,379.98 357.69,382.34 355.74,379.98" fill="#fff" stroke="#009000" stroke-width="1.1"/>
<polygon points="360.29,377.69 362.23,380.05 360.29,382.41 358.34,380.05" fill="#fff" stroke="#009000" stroke-width="1.1"/>
<polygon points="362.89,377.76 364.83,380.12 362.89,382.48 360.94,380.12" fill="#fff" stroke="#009000" stroke-width="1.1"/>
<polygon points="365.48,377.83 367.43,380.19 365.48,382.54 363.54,380.19" fill="#fff" stroke="#009000" stroke-width="1.1"/>
<polygon points="368.08,377.9 370.03,380.25 368.08,382.61 366.14,380.25" fill="#fff" stroke="#009000" stroke-width="1.1"/>
<polygon points="370.68,377.96 372.63,380.32 370.68,382.68 368.74,380.32" fill="#fff" stroke="#009000" stroke-width="1.1"/>
<polygon points="373.28,378.03 375.23,380.39 373.28,382.75 371.33,380.39" fill="#fff" stroke="#009000" stroke-width="1.1"/>
<polygon points="375.88,378.1 377.83,380.46 375.88,382.81 373.93,380.46" fill="#fff" stroke="#009000" stroke-width="1.1"/>
<polygon points="378.48,378.17 380.43,380.52 378.48,382.88 376.53,380.52" fill="#fff" stroke="#009000" stroke-width="1.1"/>
<polygon points="381.08,378.23 383.03,380.59 381.08,382.95 379.13,380.59" fill="#fff" stroke="#009000" stroke-width="1.1"/>
<polygon points="383.68,378.3 385.63,380.66 383.68,383.02 381.73,380.66" fill="#fff" stroke="#009000" stroke-width="1.1"/>
<polygon points="386.28,378.37 388.23,380.73 386.28,383.09 384.33,380.73" fill="#fff" stroke="#009000" stroke-width="1.1"/>
<polygon points="388.88,378.44 390.82,380.8 388.88,383.15 386.93,380.8" fill="#fff" stroke="#009000" stroke-width="1.1"/>
<polygon points="391.48,378.51 393.42,380.86 391.48,383.22 389.53,380.86" fill="#fff" stroke="#009000" stroke-width="1.1"/>
<polygon points="394.08,378.57 396.02,380.93 394.08,383.29 392.13,380.93" fill="#fff" stroke="#009000" stroke-width="1.1"/>
<polygon points="396.67,378.64 398.62,381 396.67,383.36 394.73,381" fill="#fff" stroke="#009000" stroke-width="1.1"/>
<polygon points="399.27,378.71 401.22,381.07 399.27,383.42 397.33,381.07" fill="#fff" stroke="#009000" stroke-width="1.1"/>
<polygon points="401.87,378.83 403.82,381.18 401.87,383.54 399.92,381.18" fill="#fff" stroke="#009000" stroke-width="1.1"/>
<polygon points="404.46,379 406.41,381.36 404.46,383.72 402.52,381.36" fill="#fff" stroke="#009000" stroke-width="1.1"/>
<polygon points="406.46,377.63 408.41,379.99 406.46,382.35 404.52,379.99" fill="#fff" stroke="#009000" stroke-width="1.1"/>
<polygon points="391.5,369.64 393.45,372 391.5,374.36 389.55,372" fill="#fff" stroke="#009000" stroke-width="1.1"/>
<polygon points="409.1,293.04 411.05,295.4 409.1,297.76 407.15,295.4" fill="#fff" stroke="#009000" stroke-width="1.1"/>
<line x1="454.9" y1="360.8" x2="477.7" y2="360.8" stroke="#555555" stroke-width="1.3"/>
<circle cx="466.8" cy="360.8" r="1.71" fill="#fff" stroke="#000000" stroke-width="0.9"/>
<text x="504.6" y="364.7" font-size="11.5" text-anchor="end" >5 K</text>
<line x1="454.9" y1="375.3" x2="477.7" y2="375.3" stroke="#ee6464" stroke-width="1.3"/>
<circle cx="466.8" cy="375.3" r="1.71" fill="#fff" stroke="#ff1010" stroke-width="0.9"/>
<text x="504.6" y="379.2" font-size="11.5" text-anchor="end" >10 K</text>
<line x1="454.9" y1="389.6" x2="477.7" y2="389.6" stroke="#6464e6" stroke-width="1.3"/>
<polygon points="466.8,387.51 468.7,391.03 464.9,391.03" fill="#fff" stroke="#1010ff" stroke-width="0.9"/>
<text x="504.6" y="393.5" font-size="11.5" text-anchor="end" >15 K</text>
<line x1="454.9" y1="403.9" x2="477.7" y2="403.9" stroke="#f064f0" stroke-width="1.3"/>
<polygon points="466.8,405.99 468.7,402.47 464.9,402.47" fill="#fff" stroke="#ff10ff" stroke-width="0.9"/>
<text x="504.6" y="407.8" font-size="11.5" text-anchor="end" >20 K</text>
<line x1="454.9" y1="418.4" x2="477.7" y2="418.4" stroke="#40a840" stroke-width="1.3"/>
<polygon points="466.8,416.21 468.61,418.4 466.8,420.58 465,418.4" fill="#fff" stroke="#009000" stroke-width="0.9"/>
<text x="504.6" y="422.3" font-size="11.5" text-anchor="end" >25 K</text>
<line x1="476.6" y1="263.8" x2="476.6" y2="255.2" stroke="#000" stroke-width="1.6"/><polygon points="474.4,255.7 478.8,255.7 476.6,249.2" fill="#000"/>
<line x1="483.1" y1="263.8" x2="483.1" y2="253.3" stroke="#800080" stroke-width="2.4"/><polygon points="479.6,253.8 486.6,253.8 483.1,242.8" fill="#800080"/>
<line x1="435.6" y1="286.8" x2="435.6" y2="295.8" stroke="#000" stroke-width="1.6"/><polygon points="433.4,295.3 437.8,295.3 435.6,301.8" fill="#000"/>
<line x1="442.1" y1="308.4" x2="442.1" y2="299.2" stroke="#800080" stroke-width="2.4"/><polygon points="438.6,299.7 445.6,299.7 442.1,288.7" fill="#800080"/>
<line x1="354.5" y1="380.3" x2="354.5" y2="372.2" stroke="#000" stroke-width="1.6"/><polygon points="352.3,372.7 356.7,372.7 354.5,366.2" fill="#000"/>
<line x1="361.1" y1="359.7" x2="361.1" y2="369.8" stroke="#800080" stroke-width="2.4"/><polygon points="357.6,369.3 364.6,369.3 361.1,380.3" fill="#800080"/>
<line x1="310.3" y1="404.5" x2="310.3" y2="412.7" stroke="#000" stroke-width="1.6"/><polygon points="308.1,412.2 312.5,412.2 310.3,418.7" fill="#000"/>
<line x1="317.5" y1="403.7" x2="317.5" y2="413.8" stroke="#800080" stroke-width="2.4"/><polygon points="314,413.3 321,413.3 317.5,424.3" fill="#800080"/>
<text x="493.3" y="251.5" font-size="13.5" text-anchor="start" >(e)</text>
<text x="298.4" y="251" font-size="10.5">t<tspan dy="3.6">top</tspan><tspan dy="-3.6">= 10 nm</tspan></text>
<polyline points="755,269 700,269 640,269.2 622.7,269.2 618.9,272.4" fill="none" stroke="#555555" stroke-width="1.45" stroke-linejoin="round"/>
<polyline points="618.4,272.4 616.2,356.8 614.5,390" fill="none" stroke="#555555" stroke-width="1.45" stroke-linejoin="round"/>
<polyline points="535.8,398.2 590.8,398.2 650.8,398 668.1,398 671.9,394.8" fill="none" stroke="#555555" stroke-width="1.45" stroke-linejoin="round"/>
<polyline points="672.4,394.8 674.6,310.4 676.3,277.2" fill="none" stroke="#555555" stroke-width="1.45" stroke-linejoin="round"/>
<rect x="753.04" y="267.05" width="3.91" height="3.91" fill="#fff" stroke="#000000" stroke-width="1.05"/>
<rect x="749.94" y="267.05" width="3.91" height="3.91" fill="#fff" stroke="#000000" stroke-width="1.05"/>
<rect x="746.84" y="267.05" width="3.91" height="3.91" fill="#fff" stroke="#000000" stroke-width="1.05"/>
<rect x="743.75" y="267.05" width="3.91" height="3.91" fill="#fff" stroke="#000000" stroke-width="1.05"/>
<rect x="740.64" y="267.05" width="3.91" height="3.91" fill="#fff" stroke="#000000" stroke-width="1.05"/>
<rect x="737.54" y="267.05" width="3.91" height="3.91" fill="#fff" stroke="#000000" stroke-width="1.05"/>
<rect x="734.44" y="267.05" width="3.91" height="3.91" fill="#fff" stroke="#000000" stroke-width="1.05"/>
<rect x="731.34" y="267.05" width="3.91" height="3.91" fill="#fff" stroke="#000000" stroke-width="1.05"/>
<rect x="728.25" y="267.05" width="3.91" height="3.91" fill="#fff" stroke="#000000" stroke-width="1.05"/>
<rect x="725.14" y="267.05" width="3.91" height="3.91" fill="#fff" stroke="#000000" stroke-width="1.05"/>
<rect x="722.04" y="267.05" width="3.91" height="3.91" fill="#fff" stroke="#000000" stroke-width="1.05"/>
<rect x="718.94" y="267.05" width="3.91" height="3.91" fill="#fff" stroke="#000000" stroke-width="1.05"/>
<rect x="715.84" y="267.05" width="3.91" height="3.91" fill="#fff" stroke="#000000" stroke-width="1.05"/>
<rect x="712.75" y="267.05" width="3.91" height="3.91" fill="#fff" stroke="#000000" stroke-width="1.05"/>
<rect x="709.64" y="267.05" width="3.91" height="3.91" fill="#fff" stroke="#000000" stroke-width="1.05"/>
<rect x="706.54" y="267.05" width="3.91" height="3.91" fill="#fff" stroke="#000000" stroke-width="1.05"/>
<rect x="703.44" y="267.05" width="3.91" height="3.91" fill="#fff" stroke="#000000" stroke-width="1.05"/>
<rect x="700.34" y="267.05" width="3.91" height="3.91" fill="#fff" stroke="#000000" stroke-width="1.05"/>
<rect x="697.25" y="267.05" width="3.91" height="3.91" fill="#fff" stroke="#000000" stroke-width="1.05"/>
<rect x="694.15" y="267.06" width="3.91" height="3.91" fill="#fff" stroke="#000000" stroke-width="1.05"/>
<rect x="691.05" y="267.07" width="3.91" height="3.91" fill="#fff" stroke="#000000" stroke-width="1.05"/>
<rect x="687.95" y="267.08" width="3.91" height="3.91" fill="#fff" stroke="#000000" stroke-width="1.05"/>
<rect x="684.85" y="267.09" width="3.91" height="3.91" fill="#fff" stroke="#000000" stroke-width="1.05"/>
<rect x="681.75" y="267.1" width="3.91" height="3.91" fill="#fff" stroke="#000000" stroke-width="1.05"/>
<rect x="678.65" y="267.11" width="3.91" height="3.91" fill="#fff" stroke="#000000" stroke-width="1.05"/>
<rect x="675.55" y="267.12" width="3.91" height="3.91" fill="#fff" stroke="#000000" stroke-width="1.05"/>
<rect x="672.45" y="267.13" width="3.91" height="3.91" fill="#fff" stroke="#000000" stroke-width="1.05"/>
<rect x="669.35" y="267.14" width="3.91" height="3.91" fill="#fff" stroke="#000000" stroke-width="1.05"/>
<rect x="666.25" y="267.15" width="3.91" height="3.91" fill="#fff" stroke="#000000" stroke-width="1.05"/>
<rect x="663.15" y="267.16" width="3.91" height="3.91" fill="#fff" stroke="#000000" stroke-width="1.05"/>
<rect x="660.05" y="267.17" width="3.91" height="3.91" fill="#fff" stroke="#000000" stroke-width="1.05"/>
<rect x="656.95" y="267.18" width="3.91" height="3.91" fill="#fff" stroke="#000000" stroke-width="1.05"/>
<rect x="653.85" y="267.19" width="3.91" height="3.91" fill="#fff" stroke="#000000" stroke-width="1.05"/>
<rect x="650.75" y="267.2" width="3.91" height="3.91" fill="#fff" stroke="#000000" stroke-width="1.05"/>
<rect x="647.65" y="267.21" width="3.91" height="3.91" fill="#fff" stroke="#000000" stroke-width="1.05"/>
<rect x="644.55" y="267.22" width="3.91" height="3.91" fill="#fff" stroke="#000000" stroke-width="1.05"/>
<rect x="641.45" y="267.23" width="3.91" height="3.91" fill="#fff" stroke="#000000" stroke-width="1.05"/>
<rect x="638.35" y="267.24" width="3.91" height="3.91" fill="#fff" stroke="#000000" stroke-width="1.05"/>
<rect x="635.25" y="267.25" width="3.91" height="3.91" fill="#fff" stroke="#000000" stroke-width="1.05"/>
<rect x="632.15" y="267.25" width="3.91" height="3.91" fill="#fff" stroke="#000000" stroke-width="1.05"/>
<rect x="629.05" y="267.25" width="3.91" height="3.91" fill="#fff" stroke="#000000" stroke-width="1.05"/>
<rect x="625.95" y="267.25" width="3.91" height="3.91" fill="#fff" stroke="#000000" stroke-width="1.05"/>
<rect x="622.85" y="267.25" width="3.91" height="3.91" fill="#fff" stroke="#000000" stroke-width="1.05"/>
<rect x="619.98" y="267.89" width="3.91" height="3.91" fill="#fff" stroke="#000000" stroke-width="1.05"/>
<rect x="617.61" y="269.89" width="3.91" height="3.91" fill="#fff" stroke="#000000" stroke-width="1.05"/>
<rect x="533.84" y="396.25" width="3.91" height="3.91" fill="#fff" stroke="#000000" stroke-width="1.05"/>
<rect x="536.94" y="396.25" width="3.91" height="3.91" fill="#fff" stroke="#000000" stroke-width="1.05"/>
<rect x="540.04" y="396.25" width="3.91" height="3.91" fill="#fff" stroke="#000000" stroke-width="1.05"/>
<rect x="543.14" y="396.25" width="3.91" height="3.91" fill="#fff" stroke="#000000" stroke-width="1.05"/>
<rect x="546.24" y="396.25" width="3.91" height="3.91" fill="#fff" stroke="#000000" stroke-width="1.05"/>
<rect x="549.34" y="396.25" width="3.91" height="3.91" fill="#fff" stroke="#000000" stroke-width="1.05"/>
<rect x="552.44" y="396.25" width="3.91" height="3.91" fill="#fff" stroke="#000000" stroke-width="1.05"/>
<rect x="555.54" y="396.25" width="3.91" height="3.91" fill="#fff" stroke="#000000" stroke-width="1.05"/>
<rect x="558.64" y="396.25" width="3.91" height="3.91" fill="#fff" stroke="#000000" stroke-width="1.05"/>
<rect x="561.74" y="396.25" width="3.91" height="3.91" fill="#fff" stroke="#000000" stroke-width="1.05"/>
<rect x="564.84" y="396.25" width="3.91" height="3.91" fill="#fff" stroke="#000000" stroke-width="1.05"/>
<rect x="567.94" y="396.25" width="3.91" height="3.91" fill="#fff" stroke="#000000" stroke-width="1.05"/>
<rect x="571.04" y="396.25" width="3.91" height="3.91" fill="#fff" stroke="#000000" stroke-width="1.05"/>
<rect x="574.14" y="396.25" width="3.91" height="3.91" fill="#fff" stroke="#000000" stroke-width="1.05"/>
<rect x="577.24" y="396.25" width="3.91" height="3.91" fill="#fff" stroke="#000000" stroke-width="1.05"/>
<rect x="580.34" y="396.25" width="3.91" height="3.91" fill="#fff" stroke="#000000" stroke-width="1.05"/>
<rect x="583.44" y="396.25" width="3.91" height="3.91" fill="#fff" stroke="#000000" stroke-width="1.05"/>
<rect x="586.54" y="396.25" width="3.91" height="3.91" fill="#fff" stroke="#000000" stroke-width="1.05"/>
<rect x="589.64" y="396.24" width="3.91" height="3.91" fill="#fff" stroke="#000000" stroke-width="1.05"/>
<rect x="592.74" y="396.23" width="3.91" height="3.91" fill="#fff" stroke="#000000" stroke-width="1.05"/>
<rect x="595.84" y="396.22" width="3.91" height="3.91" fill="#fff" stroke="#000000" stroke-width="1.05"/>
<rect x="598.94" y="396.21" width="3.91" height="3.91" fill="#fff" stroke="#000000" stroke-width="1.05"/>
<rect x="602.04" y="396.2" width="3.91" height="3.91" fill="#fff" stroke="#000000" stroke-width="1.05"/>
<rect x="605.14" y="396.19" width="3.91" height="3.91" fill="#fff" stroke="#000000" stroke-width="1.05"/>
<rect x="608.24" y="396.18" width="3.91" height="3.91" fill="#fff" stroke="#000000" stroke-width="1.05"/>
<rect x="611.34" y="396.17" width="3.91" height="3.91" fill="#fff" stroke="#000000" stroke-width="1.05"/>
<rect x="614.44" y="396.16" width="3.91" height="3.91" fill="#fff" stroke="#000000" stroke-width="1.05"/>
<rect x="617.54" y="396.15" width="3.91" height="3.91" fill="#fff" stroke="#000000" stroke-width="1.05"/>
<rect x="620.64" y="396.14" width="3.91" height="3.91" fill="#fff" stroke="#000000" stroke-width="1.05"/>
<rect x="623.74" y="396.13" width="3.91" height="3.91" fill="#fff" stroke="#000000" stroke-width="1.05"/>
<rect x="626.84" y="396.12" width="3.91" height="3.91" fill="#fff" stroke="#000000" stroke-width="1.05"/>
<rect x="629.94" y="396.11" width="3.91" height="3.91" fill="#fff" stroke="#000000" stroke-width="1.05"/>
<rect x="633.04" y="396.1" width="3.91" height="3.91" fill="#fff" stroke="#000000" stroke-width="1.05"/>
<rect x="636.14" y="396.09" width="3.91" height="3.91" fill="#fff" stroke="#000000" stroke-width="1.05"/>
<rect x="639.24" y="396.08" width="3.91" height="3.91" fill="#fff" stroke="#000000" stroke-width="1.05"/>
<rect x="642.34" y="396.07" width="3.91" height="3.91" fill="#fff" stroke="#000000" stroke-width="1.05"/>
<rect x="645.44" y="396.06" width="3.91" height="3.91" fill="#fff" stroke="#000000" stroke-width="1.05"/>
<rect x="648.54" y="396.05" width="3.91" height="3.91" fill="#fff" stroke="#000000" stroke-width="1.05"/>
<rect x="651.64" y="396.05" width="3.91" height="3.91" fill="#fff" stroke="#000000" stroke-width="1.05"/>
<rect x="654.74" y="396.05" width="3.91" height="3.91" fill="#fff" stroke="#000000" stroke-width="1.05"/>
<rect x="657.84" y="396.05" width="3.91" height="3.91" fill="#fff" stroke="#000000" stroke-width="1.05"/>
<rect x="660.94" y="396.05" width="3.91" height="3.91" fill="#fff" stroke="#000000" stroke-width="1.05"/>
<rect x="664.04" y="396.05" width="3.91" height="3.91" fill="#fff" stroke="#000000" stroke-width="1.05"/>
<rect x="666.91" y="395.4" width="3.91" height="3.91" fill="#fff" stroke="#000000" stroke-width="1.05"/>
<rect x="669.28" y="393.4" width="3.91" height="3.91" fill="#fff" stroke="#000000" stroke-width="1.05"/>
<rect x="614.25" y="354.85" width="3.91" height="3.91" fill="#fff" stroke="#000000" stroke-width="1.05"/>
<rect x="672.64" y="308.45" width="3.91" height="3.91" fill="#fff" stroke="#000000" stroke-width="1.05"/>
<polyline points="755,273.4 627.8,273.4 625.8,276" fill="none" stroke="#ee6464" stroke-width="1.45" stroke-linejoin="round"/>
<polyline points="625.6,276 624.2,390" fill="none" stroke="#ee6464" stroke-width="1.45" stroke-linejoin="round"/>
<polyline points="535.8,393.8 663,393.8 665,391.2" fill="none" stroke="#ee6464" stroke-width="1.45" stroke-linejoin="round"/>
<polyline points="665.2,391.2 666.6,277.2" fill="none" stroke="#ee6464" stroke-width="1.45" stroke-linejoin="round"/>
<circle cx="755" cy="273.4" r="2.07" fill="#fff" stroke="#ff1010" stroke-width="1.05"/>
<circle cx="751.9" cy="273.4" r="2.07" fill="#fff" stroke="#ff1010" stroke-width="1.05"/>
<circle cx="748.8" cy="273.4" r="2.07" fill="#fff" stroke="#ff1010" stroke-width="1.05"/>
<circle cx="745.7" cy="273.4" r="2.07" fill="#fff" stroke="#ff1010" stroke-width="1.05"/>
<circle cx="742.6" cy="273.4" r="2.07" fill="#fff" stroke="#ff1010" stroke-width="1.05"/>
<circle cx="739.5" cy="273.4" r="2.07" fill="#fff" stroke="#ff1010" stroke-width="1.05"/>
<circle cx="736.4" cy="273.4" r="2.07" fill="#fff" stroke="#ff1010" stroke-width="1.05"/>
<circle cx="733.3" cy="273.4" r="2.07" fill="#fff" stroke="#ff1010" stroke-width="1.05"/>
<circle cx="730.2" cy="273.4" r="2.07" fill="#fff" stroke="#ff1010" stroke-width="1.05"/>
<circle cx="727.1" cy="273.4" r="2.07" fill="#fff" stroke="#ff1010" stroke-width="1.05"/>
<circle cx="724" cy="273.4" r="2.07" fill="#fff" stroke="#ff1010" stroke-width="1.05"/>
<circle cx="720.9" cy="273.4" r="2.07" fill="#fff" stroke="#ff1010" stroke-width="1.05"/>
<circle cx="717.8" cy="273.4" r="2.07" fill="#fff" stroke="#ff1010" stroke-width="1.05"/>
<circle cx="714.7" cy="273.4" r="2.07" fill="#fff" stroke="#ff1010" stroke-width="1.05"/>
<circle cx="711.6" cy="273.4" r="2.07" fill="#fff" stroke="#ff1010" stroke-width="1.05"/>
<circle cx="708.5" cy="273.4" r="2.07" fill="#fff" stroke="#ff1010" stroke-width="1.05"/>
<circle cx="705.4" cy="273.4" r="2.07" fill="#fff" stroke="#ff1010" stroke-width="1.05"/>
<circle cx="702.3" cy="273.4" r="2.07" fill="#fff" stroke="#ff1010" stroke-width="1.05"/>
<circle cx="699.2" cy="273.4" r="2.07" fill="#fff" stroke="#ff1010" stroke-width="1.05"/>
<circle cx="696.1" cy="273.4" r="2.07" fill="#fff" stroke="#ff1010" stroke-width="1.05"/>
<circle cx="693" cy="273.4" r="2.07" fill="#fff" stroke="#ff1010" stroke-width="1.05"/>
<circle cx="689.9" cy="273.4" r="2.07" fill="#fff" stroke="#ff1010" stroke-width="1.05"/>
<circle cx="686.8" cy="273.4" r="2.07" fill="#fff" stroke="#ff1010" stroke-width="1.05"/>
<circle cx="683.7" cy="273.4" r="2.07" fill="#fff" stroke="#ff1010" stroke-width="1.05"/>
<circle cx="680.6" cy="273.4" r="2.07" fill="#fff" stroke="#ff1010" stroke-width="1.05"/>
<circle cx="677.5" cy="273.4" r="2.07" fill="#fff" stroke="#ff1010" stroke-width="1.05"/>
<circle cx="674.4" cy="273.4" r="2.07" fill="#fff" stroke="#ff1010" stroke-width="1.05"/>
<circle cx="671.3" cy="273.4" r="2.07" fill="#fff" stroke="#ff1010" stroke-width="1.05"/>
<circle cx="668.2" cy="273.4" r="2.07" fill="#fff" stroke="#ff1010" stroke-width="1.05"/>
<circle cx="665.1" cy="273.4" r="2.07" fill="#fff" stroke="#ff1010" stroke-width="1.05"/>
<circle cx="662" cy="273.4" r="2.07" fill="#fff" stroke="#ff1010" stroke-width="1.05"/>
<circle cx="658.9" cy="273.4" r="2.07" fill="#fff" stroke="#ff1010" stroke-width="1.05"/>
<circle cx="655.8" cy="273.4" r="2.07" fill="#fff" stroke="#ff1010" stroke-width="1.05"/>
<circle cx="652.7" cy="273.4" r="2.07" fill="#fff" stroke="#ff1010" stroke-width="1.05"/>
<circle cx="649.6" cy="273.4" r="2.07" fill="#fff" stroke="#ff1010" stroke-width="1.05"/>
<circle cx="646.5" cy="273.4" r="2.07" fill="#fff" stroke="#ff1010" stroke-width="1.05"/>
<circle cx="643.4" cy="273.4" r="2.07" fill="#fff" stroke="#ff1010" stroke-width="1.05"/>
<circle cx="640.3" cy="273.4" r="2.07" fill="#fff" stroke="#ff1010" stroke-width="1.05"/>
<circle cx="637.2" cy="273.4" r="2.07" fill="#fff" stroke="#ff1010" stroke-width="1.05"/>
<circle cx="634.1" cy="273.4" r="2.07" fill="#fff" stroke="#ff1010" stroke-width="1.05"/>
<circle cx="631" cy="273.4" r="2.07" fill="#fff" stroke="#ff1010" stroke-width="1.05"/>
<circle cx="627.9" cy="273.4" r="2.07" fill="#fff" stroke="#ff1010" stroke-width="1.05"/>
<circle cx="625.97" cy="275.78" r="2.07" fill="#fff" stroke="#ff1010" stroke-width="1.05"/>
<circle cx="535.8" cy="393.8" r="2.07" fill="#fff" stroke="#ff1010" stroke-width="1.05"/>
<circle cx="538.9" cy="393.8" r="2.07" fill="#fff" stroke="#ff1010" stroke-width="1.05"/>
<circle cx="542" cy="393.8" r="2.07" fill="#fff" stroke="#ff1010" stroke-width="1.05"/>
<circle cx="545.1" cy="393.8" r="2.07" fill="#fff" stroke="#ff1010" stroke-width="1.05"/>
<circle cx="548.2" cy="393.8" r="2.07" fill="#fff" stroke="#ff1010" stroke-width="1.05"/>
<circle cx="551.3" cy="393.8" r="2.07" fill="#fff" stroke="#ff1010" stroke-width="1.05"/>
<circle cx="554.4" cy="393.8" r="2.07" fill="#fff" stroke="#ff1010" stroke-width="1.05"/>
<circle cx="557.5" cy="393.8" r="2.07" fill="#fff" stroke="#ff1010" stroke-width="1.05"/>
<circle cx="560.6" cy="393.8" r="2.07" fill="#fff" stroke="#ff1010" stroke-width="1.05"/>
<circle cx="563.7" cy="393.8" r="2.07" fill="#fff" stroke="#ff1010" stroke-width="1.05"/>
<circle cx="566.8" cy="393.8" r="2.07" fill="#fff" stroke="#ff1010" stroke-width="1.05"/>
<circle cx="569.9" cy="393.8" r="2.07" fill="#fff" stroke="#ff1010" stroke-width="1.05"/>
<circle cx="573" cy="393.8" r="2.07" fill="#fff" stroke="#ff1010" stroke-width="1.05"/>
<circle cx="576.1" cy="393.8" r="2.07" fill="#fff" stroke="#ff1010" stroke-width="1.05"/>
<circle cx="579.2" cy="393.8" r="2.07" fill="#fff" stroke="#ff1010" stroke-width="1.05"/>
<circle cx="582.3" cy="393.8" r="2.07" fill="#fff" stroke="#ff1010" stroke-width="1.05"/>
<circle cx="585.4" cy="393.8" r="2.07" fill="#fff" stroke="#ff1010" stroke-width="1.05"/>
<circle cx="588.5" cy="393.8" r="2.07" fill="#fff" stroke="#ff1010" stroke-width="1.05"/>
<circle cx="591.6" cy="393.8" r="2.07" fill="#fff" stroke="#ff1010" stroke-width="1.05"/>
<circle cx="594.7" cy="393.8" r="2.07" fill="#fff" stroke="#ff1010" stroke-width="1.05"/>
<circle cx="597.8" cy="393.8" r="2.07" fill="#fff" stroke="#ff1010" stroke-width="1.05"/>
<circle cx="600.9" cy="393.8" r="2.07" fill="#fff" stroke="#ff1010" stroke-width="1.05"/>
<circle cx="604" cy="393.8" r="2.07" fill="#fff" stroke="#ff1010" stroke-width="1.05"/>
<circle cx="607.1" cy="393.8" r="2.07" fill="#fff" stroke="#ff1010" stroke-width="1.05"/>
<circle cx="610.2" cy="393.8" r="2.07" fill="#fff" stroke="#ff1010" stroke-width="1.05"/>
<circle cx="613.3" cy="393.8" r="2.07" fill="#fff" stroke="#ff1010" stroke-width="1.05"/>
<circle cx="616.4" cy="393.8" r="2.07" fill="#fff" stroke="#ff1010" stroke-width="1.05"/>
<circle cx="619.5" cy="393.8" r="2.07" fill="#fff" stroke="#ff1010" stroke-width="1.05"/>
<circle cx="622.6" cy="393.8" r="2.07" fill="#fff" stroke="#ff1010" stroke-width="1.05"/>
<circle cx="625.7" cy="393.8" r="2.07" fill="#fff" stroke="#ff1010" stroke-width="1.05"/>
<circle cx="628.8" cy="393.8" r="2.07" fill="#fff" stroke="#ff1010" stroke-width="1.05"/>
<circle cx="631.9" cy="393.8" r="2.07" fill="#fff" stroke="#ff1010" stroke-width="1.05"/>
<circle cx="635" cy="393.8" r="2.07" fill="#fff" stroke="#ff1010" stroke-width="1.05"/>
<circle cx="638.1" cy="393.8" r="2.07" fill="#fff" stroke="#ff1010" stroke-width="1.05"/>
<circle cx="641.2" cy="393.8" r="2.07" fill="#fff" stroke="#ff1010" stroke-width="1.05"/>
<circle cx="644.3" cy="393.8" r="2.07" fill="#fff" stroke="#ff1010" stroke-width="1.05"/>
<circle cx="647.4" cy="393.8" r="2.07" fill="#fff" stroke="#ff1010" stroke-width="1.05"/>
<circle cx="650.5" cy="393.8" r="2.07" fill="#fff" stroke="#ff1010" stroke-width="1.05"/>
<circle cx="653.6" cy="393.8" r="2.07" fill="#fff" stroke="#ff1010" stroke-width="1.05"/>
<circle cx="656.7" cy="393.8" r="2.07" fill="#fff" stroke="#ff1010" stroke-width="1.05"/>
<circle cx="659.8" cy="393.8" r="2.07" fill="#fff" stroke="#ff1010" stroke-width="1.05"/>
<circle cx="662.9" cy="393.8" r="2.07" fill="#fff" stroke="#ff1010" stroke-width="1.05"/>
<circle cx="664.83" cy="391.42" r="2.07" fill="#fff" stroke="#ff1010" stroke-width="1.05"/>
<circle cx="625.5" cy="282" r="2.07" fill="#fff" stroke="#ff1010" stroke-width="1.05"/>
<circle cx="665.3" cy="385.2" r="2.07" fill="#fff" stroke="#ff1010" stroke-width="1.05"/>
<polyline points="755,277.4 634,277.4 631.4,283.7" fill="none" stroke="#6464e6" stroke-width="1.45" stroke-linejoin="round"/>
<polyline points="631.3,283.7 628.1,385" fill="none" stroke="#6464e6" stroke-width="1.45" stroke-linejoin="round"/>
<polyline points="535.8,389.8 656.8,389.8 659.4,383.5" fill="none" stroke="#6464e6" stroke-width="1.45" stroke-linejoin="round"/>
<polyline points="659.5,383.5 662.7,282.2" fill="none" stroke="#6464e6" stroke-width="1.45" stroke-linejoin="round"/>
<polygon points="755,274.87 757.3,279.12 752.7,279.12" fill="#fff" stroke="#1010ff" stroke-width="1.05"/>
<polygon points="751.9,274.87 754.2,279.12 749.6,279.12" fill="#fff" stroke="#1010ff" stroke-width="1.05"/>
<polygon points="748.8,274.87 751.1,279.12 746.5,279.12" fill="#fff" stroke="#1010ff" stroke-width="1.05"/>
<polygon points="745.7,274.87 748,279.12 743.4,279.12" fill="#fff" stroke="#1010ff" stroke-width="1.05"/>
<polygon points="742.6,274.87 744.9,279.12 740.3,279.12" fill="#fff" stroke="#1010ff" stroke-width="1.05"/>
<polygon points="739.5,274.87 741.8,279.12 737.2,279.12" fill="#fff" stroke="#1010ff" stroke-width="1.05"/>
<polygon points="736.4,274.87 738.7,279.12 734.1,279.12" fill="#fff" stroke="#1010ff" stroke-width="1.05"/>
<polygon points="733.3,274.87 735.6,279.12 731,279.12" fill="#fff" stroke="#1010ff" stroke-width="1.05"/>
<polygon points="730.2,274.87 732.5,279.12 727.9,279.12" fill="#fff" stroke="#1010ff" stroke-width="1.05"/>
<polygon points="727.1,274.87 729.4,279.12 724.8,279.12" fill="#fff" stroke="#1010ff" stroke-width="1.05"/>
<polygon points="724,274.87 726.3,279.12 721.7,279.12" fill="#fff" stroke="#1010ff" stroke-width="1.05"/>
<polygon points="720.9,274.87 723.2,279.12 718.6,279.12" fill="#fff" stroke="#1010ff" stroke-width="1.05"/>
<polygon points="717.8,274.87 720.1,279.12 715.5,279.12" fill="#fff" stroke="#1010ff" stroke-width="1.05"/>
<polygon points="714.7,274.87 717,279.12 712.4,279.12" fill="#fff" stroke="#1010ff" stroke-width="1.05"/>
<polygon points="711.6,274.87 713.9,279.12 709.3,279.12" fill="#fff" stroke="#1010ff" stroke-width="1.05"/>
<polygon points="708.5,274.87 710.8,279.12 706.2,279.12" fill="#fff" stroke="#1010ff" stroke-width="1.05"/>
<polygon points="705.4,274.87 707.7,279.12 703.1,279.12" fill="#fff" stroke="#1010ff" stroke-width="1.05"/>
<polygon points="702.3,274.87 704.6,279.12 700,279.12" fill="#fff" stroke="#1010ff" stroke-width="1.05"/>
<polygon points="699.2,274.87 701.5,279.12 696.9,279.12" fill="#fff" stroke="#1010ff" stroke-width="1.05"/>
<polygon points="696.1,274.87 698.4,279.12 693.8,279.12" fill="#fff" stroke="#1010ff" stroke-width="1.05"/>
<polygon points="693,274.87 695.3,279.12 690.7,279.12" fill="#fff" stroke="#1010ff" stroke-width="1.05"/>
<polygon points="689.9,274.87 692.2,279.12 687.6,279.12" fill="#fff" stroke="#1010ff" stroke-width="1.05"/>
<polygon points="686.8,274.87 689.1,279.12 684.5,279.12" fill="#fff" stroke="#1010ff" stroke-width="1.05"/>
<polygon points="683.7,274.87 686,279.12 681.4,279.12" fill="#fff" stroke="#1010ff" stroke-width="1.05"/>
<polygon points="680.6,274.87 682.9,279.12 678.3,279.12" fill="#fff" stroke="#1010ff" stroke-width="1.05"/>
<polygon points="677.5,274.87 679.8,279.12 675.2,279.12" fill="#fff" stroke="#1010ff" stroke-width="1.05"/>
<polygon points="674.4,274.87 676.7,279.12 672.1,279.12" fill="#fff" stroke="#1010ff" stroke-width="1.05"/>
<polygon points="671.3,274.87 673.6,279.12 669,279.12" fill="#fff" stroke="#1010ff" stroke-width="1.05"/>
<polygon points="668.2,274.87 670.5,279.12 665.9,279.12" fill="#fff" stroke="#1010ff" stroke-width="1.05"/>
<polygon points="665.1,274.87 667.4,279.12 662.8,279.12" fill="#fff" stroke="#1010ff" stroke-width="1.05"/>
<polygon points="662,274.87 664.3,279.12 659.7,279.12" fill="#fff" stroke="#1010ff" stroke-width="1.05"/>
<polygon points="658.9,274.87 661.2,279.12 656.6,279.12" fill="#fff" stroke="#1010ff" stroke-width="1.05"/>
<polygon points="655.8,274.87 658.1,279.12 653.5,279.12" fill="#fff" stroke="#1010ff" stroke-width="1.05"/>
<polygon points="652.7,274.87 655,279.12 650.4,279.12" fill="#fff" stroke="#1010ff" stroke-width="1.05"/>
<polygon points="649.6,274.87 651.9,279.12 647.3,279.12" fill="#fff" stroke="#1010ff" stroke-width="1.05"/>
<polygon points="646.5,274.87 648.8,279.12 644.2,279.12" fill="#fff" stroke="#1010ff" stroke-width="1.05"/>
<polygon points="643.4,274.87 645.7,279.12 641.1,279.12" fill="#fff" stroke="#1010ff" stroke-width="1.05"/>
<polygon points="640.3,274.87 642.6,279.12 638,279.12" fill="#fff" stroke="#1010ff" stroke-width="1.05"/>
<polygon points="637.2,274.87 639.5,279.12 634.9,279.12" fill="#fff" stroke="#1010ff" stroke-width="1.05"/>
<polygon points="634.1,274.87 636.4,279.12 631.8,279.12" fill="#fff" stroke="#1010ff" stroke-width="1.05"/>
<polygon points="632.86,277.64 635.16,281.9 630.56,281.9" fill="#fff" stroke="#1010ff" stroke-width="1.05"/>
<polygon points="631.67,280.51 633.97,284.76 629.37,284.76" fill="#fff" stroke="#1010ff" stroke-width="1.05"/>
<polygon points="535.8,387.27 538.1,391.53 533.5,391.53" fill="#fff" stroke="#1010ff" stroke-width="1.05"/>
<polygon points="538.9,387.27 541.2,391.53 536.6,391.53" fill="#fff" stroke="#1010ff" stroke-width="1.05"/>
<polygon points="542,387.27 544.3,391.53 539.7,391.53" fill="#fff" stroke="#1010ff" stroke-width="1.05"/>
<polygon points="545.1,387.27 547.4,391.53 542.8,391.53" fill="#fff" stroke="#1010ff" stroke-width="1.05"/>
<polygon points="548.2,387.27 550.5,391.53 545.9,391.53" fill="#fff" stroke="#1010ff" stroke-width="1.05"/>
<polygon points="551.3,387.27 553.6,391.53 549,391.53" fill="#fff" stroke="#1010ff" stroke-width="1.05"/>
<polygon points="554.4,387.27 556.7,391.53 552.1,391.53" fill="#fff" stroke="#1010ff" stroke-width="1.05"/>
<polygon points="557.5,387.27 559.8,391.53 555.2,391.53" fill="#fff" stroke="#1010ff" stroke-width="1.05"/>
<polygon points="560.6,387.27 562.9,391.53 558.3,391.53" fill="#fff" stroke="#1010ff" stroke-width="1.05"/>
<polygon points="563.7,387.27 566,391.53 561.4,391.53" fill="#fff" stroke="#1010ff" stroke-width="1.05"/>
<polygon points="566.8,387.27 569.1,391.53 564.5,391.53" fill="#fff" stroke="#1010ff" stroke-width="1.05"/>
<polygon points="569.9,387.27 572.2,391.53 567.6,391.53" fill="#fff" stroke="#1010ff" stroke-width="1.05"/>
<polygon points="573,387.27 575.3,391.53 570.7,391.53" fill="#fff" stroke="#1010ff" stroke-width="1.05"/>
<polygon points="576.1,387.27 578.4,391.53 573.8,391.53" fill="#fff" stroke="#1010ff" stroke-width="1.05"/>
<polygon points="579.2,387.27 581.5,391.53 576.9,391.53" fill="#fff" stroke="#1010ff" stroke-width="1.05"/>
<polygon points="582.3,387.27 584.6,391.53 580,391.53" fill="#fff" stroke="#1010ff" stroke-width="1.05"/>
<polygon points="585.4,387.27 587.7,391.53 583.1,391.53" fill="#fff" stroke="#1010ff" stroke-width="1.05"/>
<polygon points="588.5,387.27 590.8,391.53 586.2,391.53" fill="#fff" stroke="#1010ff" stroke-width="1.05"/>
<polygon points="591.6,387.27 593.9,391.53 589.3,391.53" fill="#fff" stroke="#1010ff" stroke-width="1.05"/>
<polygon points="594.7,387.27 597,391.53 592.4,391.53" fill="#fff" stroke="#1010ff" stroke-width="1.05"/>
<polygon points="597.8,387.27 600.1,391.53 595.5,391.53" fill="#fff" stroke="#1010ff" stroke-width="1.05"/>
<polygon points="600.9,387.27 603.2,391.53 598.6,391.53" fill="#fff" stroke="#1010ff" stroke-width="1.05"/>
<polygon points="604,387.27 606.3,391.53 601.7,391.53" fill="#fff" stroke="#1010ff" stroke-width="1.05"/>
<polygon points="607.1,387.27 609.4,391.53 604.8,391.53" fill="#fff" stroke="#1010ff" stroke-width="1.05"/>
<polygon points="610.2,387.27 612.5,391.53 607.9,391.53" fill="#fff" stroke="#1010ff" stroke-width="1.05"/>
<polygon points="613.3,387.27 615.6,391.53 611,391.53" fill="#fff" stroke="#1010ff" stroke-width="1.05"/>
<polygon points="616.4,387.27 618.7,391.53 614.1,391.53" fill="#fff" stroke="#1010ff" stroke-width="1.05"/>
<polygon points="619.5,387.27 621.8,391.53 617.2,391.53" fill="#fff" stroke="#1010ff" stroke-width="1.05"/>
<polygon points="622.6,387.27 624.9,391.53 620.3,391.53" fill="#fff" stroke="#1010ff" stroke-width="1.05"/>
<polygon points="625.7,387.27 628,391.53 623.4,391.53" fill="#fff" stroke="#1010ff" stroke-width="1.05"/>
<polygon points="628.8,387.27 631.1,391.53 626.5,391.53" fill="#fff" stroke="#1010ff" stroke-width="1.05"/>
<polygon points="631.9,387.27 634.2,391.53 629.6,391.53" fill="#fff" stroke="#1010ff" stroke-width="1.05"/>
<polygon points="635,387.27 637.3,391.53 632.7,391.53" fill="#fff" stroke="#1010ff" stroke-width="1.05"/>
<polygon points="638.1,387.27 640.4,391.53 635.8,391.53" fill="#fff" stroke="#1010ff" stroke-width="1.05"/>
<polygon points="641.2,387.27 643.5,391.53 638.9,391.53" fill="#fff" stroke="#1010ff" stroke-width="1.05"/>
<polygon points="644.3,387.27 646.6,391.53 642,391.53" fill="#fff" stroke="#1010ff" stroke-width="1.05"/>
<polygon points="647.4,387.27 649.7,391.53 645.1,391.53" fill="#fff" stroke="#1010ff" stroke-width="1.05"/>
<polygon points="650.5,387.27 652.8,391.53 648.2,391.53" fill="#fff" stroke="#1010ff" stroke-width="1.05"/>
<polygon points="653.6,387.27 655.9,391.53 651.3,391.53" fill="#fff" stroke="#1010ff" stroke-width="1.05"/>
<polygon points="656.7,387.27 659,391.53 654.4,391.53" fill="#fff" stroke="#1010ff" stroke-width="1.05"/>
<polygon points="657.94,384.5 660.24,388.75 655.64,388.75" fill="#fff" stroke="#1010ff" stroke-width="1.05"/>
<polygon points="659.13,381.63 661.43,385.89 656.83,385.89" fill="#fff" stroke="#1010ff" stroke-width="1.05"/>
<polygon points="628.6,363.27 630.9,367.53 626.3,367.53" fill="#fff" stroke="#1010ff" stroke-width="1.05"/>
<polygon points="662.2,298.87 664.5,303.13 659.9,303.13" fill="#fff" stroke="#1010ff" stroke-width="1.05"/>
<polyline points="755,282.4 637.7,282.4 634.5,288" fill="none" stroke="#f064f0" stroke-width="1.45" stroke-linejoin="round"/>
<polyline points="633.5,287.7 632.1,381" fill="none" stroke="#f064f0" stroke-width="1.45" stroke-linejoin="round"/>
<polyline points="535.8,384.8 653.1,384.8 656.3,379.2" fill="none" stroke="#f064f0" stroke-width="1.45" stroke-linejoin="round"/>
<polyline points="657.3,379.5 658.7,286.2" fill="none" stroke="#f064f0" stroke-width="1.45" stroke-linejoin="round"/>
<polygon points="755,284.93 757.3,280.67 752.7,280.67" fill="#fff" stroke="#ff10ff" stroke-width="1.05"/>
<polygon points="751.9,284.93 754.2,280.67 749.6,280.67" fill="#fff" stroke="#ff10ff" stroke-width="1.05"/>
<polygon points="748.8,284.93 751.1,280.67 746.5,280.67" fill="#fff" stroke="#ff10ff" stroke-width="1.05"/>
<polygon points="745.7,284.93 748,280.67 743.4,280.67" fill="#fff" stroke="#ff10ff" stroke-width="1.05"/>
<polygon points="742.6,284.93 744.9,280.67 740.3,280.67" fill="#fff" stroke="#ff10ff" stroke-width="1.05"/>
<polygon points="739.5,284.93 741.8,280.67 737.2,280.67" fill="#fff" stroke="#ff10ff" stroke-width="1.05"/>
<polygon points="736.4,284.93 738.7,280.67 734.1,280.67" fill="#fff" stroke="#ff10ff" stroke-width="1.05"/>
<polygon points="733.3,284.93 735.6,280.67 731,280.67" fill="#fff" stroke="#ff10ff" stroke-width="1.05"/>
<polygon points="730.2,284.93 732.5,280.67 727.9,280.67" fill="#fff" stroke="#ff10ff" stroke-width="1.05"/>
<polygon points="727.1,284.93 729.4,280.67 724.8,280.67" fill="#fff" stroke="#ff10ff" stroke-width="1.05"/>
<polygon points="724,284.93 726.3,280.67 721.7,280.67" fill="#fff" stroke="#ff10ff" stroke-width="1.05"/>
<polygon points="720.9,284.93 723.2,280.67 718.6,280.67" fill="#fff" stroke="#ff10ff" stroke-width="1.05"/>
<polygon points="717.8,284.93 720.1,280.67 715.5,280.67" fill="#fff" stroke="#ff10ff" stroke-width="1.05"/>
<polygon points="714.7,284.93 717,280.67 712.4,280.67" fill="#fff" stroke="#ff10ff" stroke-width="1.05"/>
<polygon points="711.6,284.93 713.9,280.67 709.3,280.67" fill="#fff" stroke="#ff10ff" stroke-width="1.05"/>
<polygon points="708.5,284.93 710.8,280.67 706.2,280.67" fill="#fff" stroke="#ff10ff" stroke-width="1.05"/>
<polygon points="705.4,284.93 707.7,280.67 703.1,280.67" fill="#fff" stroke="#ff10ff" stroke-width="1.05"/>
<polygon points="702.3,284.93 704.6,280.67 700,280.67" fill="#fff" stroke="#ff10ff" stroke-width="1.05"/>
<polygon points="699.2,284.93 701.5,280.67 696.9,280.67" fill="#fff" stroke="#ff10ff" stroke-width="1.05"/>
<polygon points="696.1,284.93 698.4,280.67 693.8,280.67" fill="#fff" stroke="#ff10ff" stroke-width="1.05"/>
<polygon points="693,284.93 695.3,280.67 690.7,280.67" fill="#fff" stroke="#ff10ff" stroke-width="1.05"/>
<polygon points="689.9,284.93 692.2,280.67 687.6,280.67" fill="#fff" stroke="#ff10ff" stroke-width="1.05"/>
<polygon points="686.8,284.93 689.1,280.67 684.5,280.67" fill="#fff" stroke="#ff10ff" stroke-width="1.05"/>
<polygon points="683.7,284.93 686,280.67 681.4,280.67" fill="#fff" stroke="#ff10ff" stroke-width="1.05"/>
<polygon points="680.6,284.93 682.9,280.67 678.3,280.67" fill="#fff" stroke="#ff10ff" stroke-width="1.05"/>
<polygon points="677.5,284.93 679.8,280.67 675.2,280.67" fill="#fff" stroke="#ff10ff" stroke-width="1.05"/>
<polygon points="674.4,284.93 676.7,280.67 672.1,280.67" fill="#fff" stroke="#ff10ff" stroke-width="1.05"/>
<polygon points="671.3,284.93 673.6,280.67 669,280.67" fill="#fff" stroke="#ff10ff" stroke-width="1.05"/>
<polygon points="668.2,284.93 670.5,280.67 665.9,280.67" fill="#fff" stroke="#ff10ff" stroke-width="1.05"/>
<polygon points="665.1,284.93 667.4,280.67 662.8,280.67" fill="#fff" stroke="#ff10ff" stroke-width="1.05"/>
<polygon points="662,284.93 664.3,280.67 659.7,280.67" fill="#fff" stroke="#ff10ff" stroke-width="1.05"/>
<polygon points="658.9,284.93 661.2,280.67 656.6,280.67" fill="#fff" stroke="#ff10ff" stroke-width="1.05"/>
<polygon points="655.8,284.93 658.1,280.67 653.5,280.67" fill="#fff" stroke="#ff10ff" stroke-width="1.05"/>
<polygon points="652.7,284.93 655,280.67 650.4,280.67" fill="#fff" stroke="#ff10ff" stroke-width="1.05"/>
<polygon points="649.6,284.93 651.9,280.67 647.3,280.67" fill="#fff" stroke="#ff10ff" stroke-width="1.05"/>
<polygon points="646.5,284.93 648.8,280.67 644.2,280.67" fill="#fff" stroke="#ff10ff" stroke-width="1.05"/>
<polygon points="643.4,284.93 645.7,280.67 641.1,280.67" fill="#fff" stroke="#ff10ff" stroke-width="1.05"/>
<polygon points="640.3,284.93 642.6,280.67 638,280.67" fill="#fff" stroke="#ff10ff" stroke-width="1.05"/>
<polygon points="637.45,285.36 639.75,281.11 635.15,281.11" fill="#fff" stroke="#ff10ff" stroke-width="1.05"/>
<polygon points="635.91,288.06 638.21,283.8 633.61,283.8" fill="#fff" stroke="#ff10ff" stroke-width="1.05"/>
<polygon points="535.8,387.33 538.1,383.08 533.5,383.08" fill="#fff" stroke="#ff10ff" stroke-width="1.05"/>
<polygon points="538.9,387.33 541.2,383.08 536.6,383.08" fill="#fff" stroke="#ff10ff" stroke-width="1.05"/>
<polygon points="542,387.33 544.3,383.08 539.7,383.08" fill="#fff" stroke="#ff10ff" stroke-width="1.05"/>
<polygon points="545.1,387.33 547.4,383.08 542.8,383.08" fill="#fff" stroke="#ff10ff" stroke-width="1.05"/>
<polygon points="548.2,387.33 550.5,383.08 545.9,383.08" fill="#fff" stroke="#ff10ff" stroke-width="1.05"/>
<polygon points="551.3,387.33 553.6,383.08 549,383.08" fill="#fff" stroke="#ff10ff" stroke-width="1.05"/>
<polygon points="554.4,387.33 556.7,383.08 552.1,383.08" fill="#fff" stroke="#ff10ff" stroke-width="1.05"/>
<polygon points="557.5,387.33 559.8,383.08 555.2,383.08" fill="#fff" stroke="#ff10ff" stroke-width="1.05"/>
<polygon points="560.6,387.33 562.9,383.08 558.3,383.08" fill="#fff" stroke="#ff10ff" stroke-width="1.05"/>
<polygon points="563.7,387.33 566,383.08 561.4,383.08" fill="#fff" stroke="#ff10ff" stroke-width="1.05"/>
<polygon points="566.8,387.33 569.1,383.08 564.5,383.08" fill="#fff" stroke="#ff10ff" stroke-width="1.05"/>
<polygon points="569.9,387.33 572.2,383.08 567.6,383.08" fill="#fff" stroke="#ff10ff" stroke-width="1.05"/>
<polygon points="573,387.33 575.3,383.08 570.7,383.08" fill="#fff" stroke="#ff10ff" stroke-width="1.05"/>
<polygon points="576.1,387.33 578.4,383.08 573.8,383.08" fill="#fff" stroke="#ff10ff" stroke-width="1.05"/>
<polygon points="579.2,387.33 581.5,383.08 576.9,383.08" fill="#fff" stroke="#ff10ff" stroke-width="1.05"/>
<polygon points="582.3,387.33 584.6,383.08 580,383.08" fill="#fff" stroke="#ff10ff" stroke-width="1.05"/>
<polygon points="585.4,387.33 587.7,383.08 583.1,383.08" fill="#fff" stroke="#ff10ff" stroke-width="1.05"/>
<polygon points="588.5,387.33 590.8,383.08 586.2,383.08" fill="#fff" stroke="#ff10ff" stroke-width="1.05"/>
<polygon points="591.6,387.33 593.9,383.08 589.3,383.08" fill="#fff" stroke="#ff10ff" stroke-width="1.05"/>
<polygon points="594.7,387.33 597,383.08 592.4,383.08" fill="#fff" stroke="#ff10ff" stroke-width="1.05"/>
<polygon points="597.8,387.33 600.1,383.08 595.5,383.08" fill="#fff" stroke="#ff10ff" stroke-width="1.05"/>
<polygon points="600.9,387.33 603.2,383.08 598.6,383.08" fill="#fff" stroke="#ff10ff" stroke-width="1.05"/>
<polygon points="604,387.33 606.3,383.08 601.7,383.08" fill="#fff" stroke="#ff10ff" stroke-width="1.05"/>
<polygon points="607.1,387.33 609.4,383.08 604.8,383.08" fill="#fff" stroke="#ff10ff" stroke-width="1.05"/>
<polygon points="610.2,387.33 612.5,383.08 607.9,383.08" fill="#fff" stroke="#ff10ff" stroke-width="1.05"/>
<polygon points="613.3,387.33 615.6,383.08 611,383.08" fill="#fff" stroke="#ff10ff" stroke-width="1.05"/>
<polygon points="616.4,387.33 618.7,383.08 614.1,383.08" fill="#fff" stroke="#ff10ff" stroke-width="1.05"/>
<polygon points="619.5,387.33 621.8,383.08 617.2,383.08" fill="#fff" stroke="#ff10ff" stroke-width="1.05"/>
<polygon points="622.6,387.33 624.9,383.08 620.3,383.08" fill="#fff" stroke="#ff10ff" stroke-width="1.05"/>
<polygon points="625.7,387.33 628,383.08 623.4,383.08" fill="#fff" stroke="#ff10ff" stroke-width="1.05"/>
<polygon points="628.8,387.33 631.1,383.08 626.5,383.08" fill="#fff" stroke="#ff10ff" stroke-width="1.05"/>
<polygon points="631.9,387.33 634.2,383.08 629.6,383.08" fill="#fff" stroke="#ff10ff" stroke-width="1.05"/>
<polygon points="635,387.33 637.3,383.08 632.7,383.08" fill="#fff" stroke="#ff10ff" stroke-width="1.05"/>
<polygon points="638.1,387.33 640.4,383.08 635.8,383.08" fill="#fff" stroke="#ff10ff" stroke-width="1.05"/>
<polygon points="641.2,387.33 643.5,383.08 638.9,383.08" fill="#fff" stroke="#ff10ff" stroke-width="1.05"/>
<polygon points="644.3,387.33 646.6,383.08 642,383.08" fill="#fff" stroke="#ff10ff" stroke-width="1.05"/>
<polygon points="647.4,387.33 649.7,383.08 645.1,383.08" fill="#fff" stroke="#ff10ff" stroke-width="1.05"/>
<polygon points="650.5,387.33 652.8,383.08 648.2,383.08" fill="#fff" stroke="#ff10ff" stroke-width="1.05"/>
<polygon points="653.35,386.9 655.65,382.64 651.05,382.64" fill="#fff" stroke="#ff10ff" stroke-width="1.05"/>
<polygon points="654.89,384.2 657.19,379.95 652.59,379.95" fill="#fff" stroke="#ff10ff" stroke-width="1.05"/>
<polygon points="633,302.53 635.3,298.27 630.7,298.27" fill="#fff" stroke="#ff10ff" stroke-width="1.05"/>
<polygon points="657.8,369.73 660.1,365.48 655.5,365.48" fill="#fff" stroke="#ff10ff" stroke-width="1.05"/>
<polyline points="755,287.4 641.6,287.4 637.7,292.6" fill="none" stroke="#40a840" stroke-width="1.45" stroke-linejoin="round"/>
<polyline points="636.8,292.6 636.1,376" fill="none" stroke="#40a840" stroke-width="1.45" stroke-linejoin="round"/>
<polyline points="535.8,379.8 649.2,379.8 653.1,374.6" fill="none" stroke="#40a840" stroke-width="1.45" stroke-linejoin="round"/>
<polyline points="654,374.6 654.7,291.2" fill="none" stroke="#40a840" stroke-width="1.45" stroke-linejoin="round"/>
<polygon points="755,284.75 757.18,287.4 755,290.04 752.82,287.4" fill="#fff" stroke="#009000" stroke-width="1.05"/>
<polygon points="751.9,284.75 754.08,287.4 751.9,290.04 749.72,287.4" fill="#fff" stroke="#009000" stroke-width="1.05"/>
<polygon points="748.8,284.75 750.98,287.4 748.8,290.04 746.62,287.4" fill="#fff" stroke="#009000" stroke-width="1.05"/>
<polygon points="745.7,284.75 747.88,287.4 745.7,290.04 743.52,287.4" fill="#fff" stroke="#009000" stroke-width="1.05"/>
<polygon points="742.6,284.75 744.78,287.4 742.6,290.04 740.42,287.4" fill="#fff" stroke="#009000" stroke-width="1.05"/>
<polygon points="739.5,284.75 741.68,287.4 739.5,290.04 737.32,287.4" fill="#fff" stroke="#009000" stroke-width="1.05"/>
<polygon points="736.4,284.75 738.58,287.4 736.4,290.04 734.22,287.4" fill="#fff" stroke="#009000" stroke-width="1.05"/>
<polygon points="733.3,284.75 735.48,287.4 733.3,290.04 731.12,287.4" fill="#fff" stroke="#009000" stroke-width="1.05"/>
<polygon points="730.2,284.75 732.38,287.4 730.2,290.04 728.02,287.4" fill="#fff" stroke="#009000" stroke-width="1.05"/>
<polygon points="727.1,284.75 729.28,287.4 727.1,290.04 724.92,287.4" fill="#fff" stroke="#009000" stroke-width="1.05"/>
<polygon points="724,284.75 726.18,287.4 724,290.04 721.82,287.4" fill="#fff" stroke="#009000" stroke-width="1.05"/>
<polygon points="720.9,284.75 723.08,287.4 720.9,290.04 718.72,287.4" fill="#fff" stroke="#009000" stroke-width="1.05"/>
<polygon points="717.8,284.75 719.98,287.4 717.8,290.04 715.62,287.4" fill="#fff" stroke="#009000" stroke-width="1.05"/>
<polygon points="714.7,284.75 716.88,287.4 714.7,290.04 712.52,287.4" fill="#fff" stroke="#009000" stroke-width="1.05"/>
<polygon points="711.6,284.75 713.78,287.4 711.6,290.04 709.42,287.4" fill="#fff" stroke="#009000" stroke-width="1.05"/>
<polygon points="708.5,284.75 710.68,287.4 708.5,290.04 706.32,287.4" fill="#fff" stroke="#009000" stroke-width="1.05"/>
<polygon points="705.4,284.75 707.58,287.4 705.4,290.04 703.22,287.4" fill="#fff" stroke="#009000" stroke-width="1.05"/>
<polygon points="702.3,284.75 704.48,287.4 702.3,290.04 700.12,287.4" fill="#fff" stroke="#009000" stroke-width="1.05"/>
<polygon points="699.2,284.75 701.38,287.4 699.2,290.04 697.01,287.4" fill="#fff" stroke="#009000" stroke-width="1.05"/>
<polygon points="696.1,284.75 698.28,287.4 696.1,290.04 693.92,287.4" fill="#fff" stroke="#009000" stroke-width="1.05"/>
<polygon points="693,284.75 695.18,287.4 693,290.04 690.82,287.4" fill="#fff" stroke="#009000" stroke-width="1.05"/>
<polygon points="689.9,284.75 692.08,287.4 689.9,290.04 687.72,287.4" fill="#fff" stroke="#009000" stroke-width="1.05"/>
<polygon points="686.8,284.75 688.98,287.4 686.8,290.04 684.62,287.4" fill="#fff" stroke="#009000" stroke-width="1.05"/>
<polygon points="683.7,284.75 685.88,287.4 683.7,290.04 681.52,287.4" fill="#fff" stroke="#009000" stroke-width="1.05"/>
<polygon points="680.6,284.75 682.78,287.4 680.6,290.04 678.42,287.4" fill="#fff" stroke="#009000" stroke-width="1.05"/>
<polygon points="677.5,284.75 679.68,287.4 677.5,290.04 675.32,287.4" fill="#fff" stroke="#009000" stroke-width="1.05"/>
<polygon points="674.4,284.75 676.58,287.4 674.4,290.04 672.22,287.4" fill="#fff" stroke="#009000" stroke-width="1.05"/>
<polygon points="671.3,284.75 673.48,287.4 671.3,290.04 669.12,287.4" fill="#fff" stroke="#009000" stroke-width="1.05"/>
<polygon points="668.2,284.75 670.38,287.4 668.2,290.04 666.02,287.4" fill="#fff" stroke="#009000" stroke-width="1.05"/>
<polygon points="665.1,284.75 667.28,287.4 665.1,290.04 662.92,287.4" fill="#fff" stroke="#009000" stroke-width="1.05"/>
<polygon points="662,284.75 664.18,287.4 662,290.04 659.82,287.4" fill="#fff" stroke="#009000" stroke-width="1.05"/>
<polygon points="658.9,284.75 661.09,287.4 658.9,290.04 656.72,287.4" fill="#fff" stroke="#009000" stroke-width="1.05"/>
<polygon points="655.8,284.75 657.99,287.4 655.8,290.04 653.62,287.4" fill="#fff" stroke="#009000" stroke-width="1.05"/>
<polygon points="652.7,284.75 654.88,287.4 652.7,290.04 650.52,287.4" fill="#fff" stroke="#009000" stroke-width="1.05"/>
<polygon points="649.6,284.75 651.78,287.4 649.6,290.04 647.42,287.4" fill="#fff" stroke="#009000" stroke-width="1.05"/>
<polygon points="646.5,284.75 648.68,287.4 646.5,290.04 644.32,287.4" fill="#fff" stroke="#009000" stroke-width="1.05"/>
<polygon points="643.4,284.75 645.59,287.4 643.4,290.04 641.22,287.4" fill="#fff" stroke="#009000" stroke-width="1.05"/>
<polygon points="640.82,285.79 643,288.44 640.82,291.08 638.64,288.44" fill="#fff" stroke="#009000" stroke-width="1.05"/>
<polygon points="638.96,288.27 641.14,290.92 638.96,293.56 636.78,290.92" fill="#fff" stroke="#009000" stroke-width="1.05"/>
<polygon points="535.8,377.16 537.98,379.8 535.8,382.45 533.62,379.8" fill="#fff" stroke="#009000" stroke-width="1.05"/>
<polygon points="538.9,377.16 541.08,379.8 538.9,382.45 536.72,379.8" fill="#fff" stroke="#009000" stroke-width="1.05"/>
<polygon points="542,377.16 544.18,379.8 542,382.45 539.82,379.8" fill="#fff" stroke="#009000" stroke-width="1.05"/>
<polygon points="545.1,377.16 547.28,379.8 545.1,382.45 542.91,379.8" fill="#fff" stroke="#009000" stroke-width="1.05"/>
<polygon points="548.2,377.16 550.38,379.8 548.2,382.45 546.01,379.8" fill="#fff" stroke="#009000" stroke-width="1.05"/>
<polygon points="551.3,377.16 553.48,379.8 551.3,382.45 549.12,379.8" fill="#fff" stroke="#009000" stroke-width="1.05"/>
<polygon points="554.4,377.16 556.58,379.8 554.4,382.45 552.22,379.8" fill="#fff" stroke="#009000" stroke-width="1.05"/>
<polygon points="557.5,377.16 559.68,379.8 557.5,382.45 555.32,379.8" fill="#fff" stroke="#009000" stroke-width="1.05"/>
<polygon points="560.6,377.16 562.78,379.8 560.6,382.45 558.41,379.8" fill="#fff" stroke="#009000" stroke-width="1.05"/>
<polygon points="563.7,377.16 565.88,379.8 563.7,382.45 561.51,379.8" fill="#fff" stroke="#009000" stroke-width="1.05"/>
<polygon points="566.8,377.16 568.98,379.8 566.8,382.45 564.62,379.8" fill="#fff" stroke="#009000" stroke-width="1.05"/>
<polygon points="569.9,377.16 572.08,379.8 569.9,382.45 567.72,379.8" fill="#fff" stroke="#009000" stroke-width="1.05"/>
<polygon points="573,377.16 575.18,379.8 573,382.45 570.82,379.8" fill="#fff" stroke="#009000" stroke-width="1.05"/>
<polygon points="576.1,377.16 578.28,379.8 576.1,382.45 573.91,379.8" fill="#fff" stroke="#009000" stroke-width="1.05"/>
<polygon points="579.2,377.16 581.38,379.8 579.2,382.45 577.01,379.8" fill="#fff" stroke="#009000" stroke-width="1.05"/>
<polygon points="582.3,377.16 584.48,379.8 582.3,382.45 580.12,379.8" fill="#fff" stroke="#009000" stroke-width="1.05"/>
<polygon points="585.4,377.16 587.58,379.8 585.4,382.45 583.22,379.8" fill="#fff" stroke="#009000" stroke-width="1.05"/>
<polygon points="588.5,377.16 590.68,379.8 588.5,382.45 586.32,379.8" fill="#fff" stroke="#009000" stroke-width="1.05"/>
<polygon points="591.6,377.16 593.78,379.8 591.6,382.45 589.42,379.8" fill="#fff" stroke="#009000" stroke-width="1.05"/>
<polygon points="594.7,377.16 596.88,379.8 594.7,382.45 592.51,379.8" fill="#fff" stroke="#009000" stroke-width="1.05"/>
<polygon points="597.8,377.16 599.98,379.8 597.8,382.45 595.62,379.8" fill="#fff" stroke="#009000" stroke-width="1.05"/>
<polygon points="600.9,377.16 603.08,379.8 600.9,382.45 598.72,379.8" fill="#fff" stroke="#009000" stroke-width="1.05"/>
<polygon points="604,377.16 606.18,379.8 604,382.45 601.82,379.8" fill="#fff" stroke="#009000" stroke-width="1.05"/>
<polygon points="607.1,377.16 609.28,379.8 607.1,382.45 604.91,379.8" fill="#fff" stroke="#009000" stroke-width="1.05"/>
<polygon points="610.2,377.16 612.38,379.8 610.2,382.45 608.01,379.8" fill="#fff" stroke="#009000" stroke-width="1.05"/>
<polygon points="613.3,377.16 615.48,379.8 613.3,382.45 611.12,379.8" fill="#fff" stroke="#009000" stroke-width="1.05"/>
<polygon points="616.4,377.16 618.58,379.8 616.4,382.45 614.22,379.8" fill="#fff" stroke="#009000" stroke-width="1.05"/>
<polygon points="619.5,377.16 621.68,379.8 619.5,382.45 617.32,379.8" fill="#fff" stroke="#009000" stroke-width="1.05"/>
<polygon points="622.6,377.16 624.78,379.8 622.6,382.45 620.41,379.8" fill="#fff" stroke="#009000" stroke-width="1.05"/>
<polygon points="625.7,377.16 627.88,379.8 625.7,382.45 623.51,379.8" fill="#fff" stroke="#009000" stroke-width="1.05"/>
<polygon points="628.8,377.16 630.98,379.8 628.8,382.45 626.62,379.8" fill="#fff" stroke="#009000" stroke-width="1.05"/>
<polygon points="631.9,377.16 634.08,379.8 631.9,382.45 629.71,379.8" fill="#fff" stroke="#009000" stroke-width="1.05"/>
<polygon points="635,377.16 637.18,379.8 635,382.45 632.81,379.8" fill="#fff" stroke="#009000" stroke-width="1.05"/>
<polygon points="638.1,377.16 640.28,379.8 638.1,382.45 635.91,379.8" fill="#fff" stroke="#009000" stroke-width="1.05"/>
<polygon points="641.2,377.16 643.38,379.8 641.2,382.45 639.01,379.8" fill="#fff" stroke="#009000" stroke-width="1.05"/>
<polygon points="644.3,377.16 646.48,379.8 644.3,382.45 642.12,379.8" fill="#fff" stroke="#009000" stroke-width="1.05"/>
<polygon points="647.4,377.16 649.58,379.8 647.4,382.45 645.21,379.8" fill="#fff" stroke="#009000" stroke-width="1.05"/>
<polygon points="649.98,376.12 652.16,378.76 649.98,381.41 647.79,378.76" fill="#fff" stroke="#009000" stroke-width="1.05"/>
<polygon points="651.84,373.64 654.02,376.28 651.84,378.93 649.65,376.28" fill="#fff" stroke="#009000" stroke-width="1.05"/>
<line x1="700.3" y1="359.4" x2="724.1" y2="359.4" stroke="#555555" stroke-width="1.3"/>
<rect x="710.59" y="357.78" width="3.23" height="3.23" fill="#fff" stroke="#000000" stroke-width="0.9"/>
<text x="749.7" y="363.3" font-size="11.5" text-anchor="end" >5 K</text>
<line x1="700.3" y1="373.7" x2="724.1" y2="373.7" stroke="#ee6464" stroke-width="1.3"/>
<circle cx="712.2" cy="373.7" r="1.71" fill="#fff" stroke="#ff1010" stroke-width="0.9"/>
<text x="749.7" y="377.6" font-size="11.5" text-anchor="end" >10 K</text>
<line x1="700.3" y1="388.2" x2="724.1" y2="388.2" stroke="#6464e6" stroke-width="1.3"/>
<polygon points="712.2,386.11 714.1,389.62 710.3,389.62" fill="#fff" stroke="#1010ff" stroke-width="0.9"/>
<text x="749.7" y="392.1" font-size="11.5" text-anchor="end" >15 K</text>
<line x1="700.3" y1="402.8" x2="724.1" y2="402.8" stroke="#f064f0" stroke-width="1.3"/>
<polygon points="712.2,404.89 714.1,401.38 710.3,401.38" fill="#fff" stroke="#ff10ff" stroke-width="0.9"/>
<text x="749.7" y="406.7" font-size="11.5" text-anchor="end" >20 K</text>
<line x1="700.3" y1="416.9" x2="724.1" y2="416.9" stroke="#40a840" stroke-width="1.3"/>
<polygon points="712.2,414.71 714,416.9 712.2,419.08 710.4,416.9" fill="#fff" stroke="#009000" stroke-width="0.9"/>
<text x="749.7" y="420.8" font-size="11.5" text-anchor="end" >25 K</text>
<line x1="723.9" y1="263.5" x2="723.9" y2="253" stroke="#000" stroke-width="1.6"/><polygon points="721.7,253.5 726.1,253.5 723.9,247" fill="#000"/>
<line x1="730.3" y1="263.5" x2="730.3" y2="251.5" stroke="#800080" stroke-width="2.4"/><polygon points="726.8,252 733.8,252 730.3,241" fill="#800080"/>
<line x1="683.2" y1="281.7" x2="683.2" y2="288.6" stroke="#000" stroke-width="1.6"/><polygon points="681,288.1 685.4,288.1 683.2,294.6" fill="#000"/>
<line x1="689.1" y1="301.5" x2="689.1" y2="291.2" stroke="#800080" stroke-width="2.4"/><polygon points="685.6,291.7 692.6,291.7 689.1,280.7" fill="#800080"/>
<line x1="599.4" y1="384.6" x2="599.4" y2="377.7" stroke="#000" stroke-width="1.6"/><polygon points="597.2,378.2 601.6,378.2 599.4,371.7" fill="#000"/>
<line x1="606.3" y1="364.8" x2="606.3" y2="375.1" stroke="#800080" stroke-width="2.4"/><polygon points="602.8,374.6 609.8,374.6 606.3,385.6" fill="#800080"/>
<line x1="556.8" y1="403.4" x2="556.8" y2="411.3" stroke="#000" stroke-width="1.6"/><polygon points="554.6,410.8 559,410.8 556.8,417.3" fill="#000"/>
<line x1="562.7" y1="403.4" x2="562.7" y2="412.7" stroke="#800080" stroke-width="2.4"/><polygon points="559.2,412.2 566.2,412.2 562.7,423.2" fill="#800080"/>
<text x="739.2" y="249.2" font-size="13.2" text-anchor="start" >(f)</text>
<text x="542.3" y="251.4" font-size="10.6">t<tspan dy="3.6">top</tspan><tspan dy="-3.6">= 7 nm</tspan></text>
<text x="150.8" y="224.4" font-size="13.6" text-anchor="middle" >H-field (Oe)</text>
<text x="403.5" y="221.5" font-size="13.6" text-anchor="middle" >H-field (Oe)</text>
<text x="645" y="221" font-size="13.6" text-anchor="middle" >H-Field (Oe)</text>
<text x="152.3" y="457.8" font-size="13.6" text-anchor="middle" >H-field (Oe)</text>
<text x="402.5" y="457.3" font-size="13.6" text-anchor="middle" >H-field (Oe)</text>
<text x="649.5" y="455.8" font-size="13.6" text-anchor="middle" >H-field (Oe)</text>
<text transform="translate(12.2,102.5) rotate(-90)" font-size="13.6" text-anchor="middle">Hall Resistance (Ohm)</text>
<text transform="translate(11.6,337) rotate(-90)" font-size="13.6" text-anchor="middle">Magnetization (emu/cc)</text>
</svg>
</body></html>
